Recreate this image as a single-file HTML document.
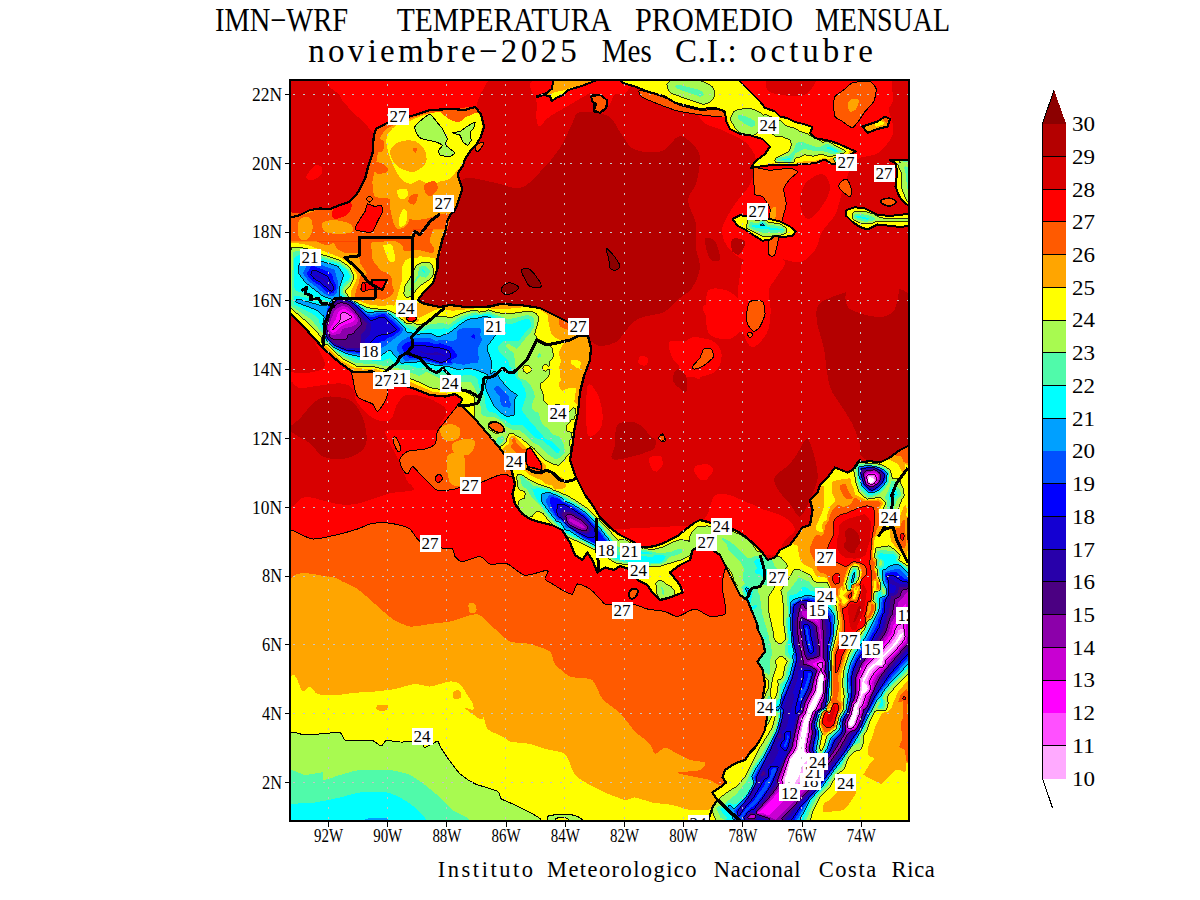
<!DOCTYPE html>
<html><head><meta charset="utf-8"><title>IMN-WRF Temperatura Promedio Mensual</title>
<style>
html,body{margin:0;padding:0;background:#fff;}
body{width:1200px;height:900px;overflow:hidden;position:relative;font-family:"Liberation Serif",serif;color:#000;}
svg{position:absolute;left:0;top:0;}
text{font-family:"Liberation Serif",serif;fill:#000;}
.t1{font-size:33px;}
.tk{font-size:18.5px;}
.cb{font-size:21px;}
.ft{font-size:22.5px;}
.lb{font-size:17.5px;}
</style></head><body>
<svg width="1200" height="900" viewBox="0 0 1200 900" shape-rendering="crispEdges">
<defs><clipPath id="cp"><rect x="290" y="80" width="619" height="741"/></clipPath></defs>
<rect x="0" y="0" width="1200" height="900" fill="#fff"/>
<g clip-path="url(#cp)">
<rect x="290" y="80" width="619" height="741" fill="#d80000"/>

<path d="M696.0 78.0 C664.0 84.7 695.7 109.3 700.0 118.0 C704.3 126.7 714.5 126.0 722.0 130.0 C729.5 134.0 739.3 137.0 745.0 142.0 C750.7 147.0 755.2 153.0 756.0 160.0 C756.8 167.0 753.0 177.3 750.0 184.0 C747.0 190.7 741.7 194.8 738.0 200.0 C734.3 205.2 730.7 209.7 728.0 215.0 C725.3 220.3 721.7 226.2 722.0 232.0 C722.3 237.8 725.3 245.0 730.0 250.0 C734.7 255.0 742.5 260.7 750.0 262.0 C757.5 263.3 766.7 258.0 775.0 258.0 C783.3 258.0 793.3 263.3 800.0 262.0 C806.7 260.7 811.3 255.0 815.0 250.0 C818.7 245.0 818.7 237.8 822.0 232.0 C825.3 226.2 832.0 220.3 835.0 215.0 C838.0 209.7 838.2 205.8 840.0 200.0 C841.8 194.2 843.3 186.7 846.0 180.0 C848.7 173.3 850.3 164.7 856.0 160.0 C861.7 155.3 873.3 157.3 880.0 152.0 C886.7 146.7 892.7 136.0 896.0 128.0 C899.3 120.0 900.7 112.3 900.0 104.0 C899.3 95.7 926.0 82.3 892.0 78.0 C858.0 73.7 728.0 71.3 696.0 78.0 Z" fill="#ff0000"/>
<path d="M745.0 259.3 C749.6 256.0 760.3 257.2 767.0 257.5 C773.7 257.8 783.8 257.8 785.3 261.2 C786.9 264.5 778.9 272.8 776.2 277.7 C773.4 282.6 769.8 285.0 768.8 290.5 C767.9 296.0 771.0 303.6 770.7 310.7 C770.4 317.7 770.1 326.6 767.0 332.7 C763.9 338.8 756.3 347.3 752.3 347.3 C748.4 347.3 745.6 339.4 743.2 332.7 C740.7 325.9 738.3 316.2 737.7 307.0 C737.1 297.8 738.3 285.6 739.5 277.7 C740.7 269.7 740.4 262.7 745.0 259.3 Z" fill="#ff0000"/>
<path d="M708.3 290.5 C711.7 286.8 721.2 288.4 726.7 290.5 C732.2 292.6 739.2 297.5 741.3 303.3 C743.5 309.1 742.6 319.5 739.5 325.3 C736.4 331.1 728.2 336.9 723.0 338.2 C717.8 339.4 711.1 336.9 708.3 332.7 C705.6 328.4 706.5 319.5 706.5 312.5 C706.5 305.5 705.0 294.2 708.3 290.5 Z" fill="#ff0000"/>
<path d="M690.0 338.2 C694.9 335.7 703.1 337.9 708.3 340.0 C713.5 342.1 719.6 346.1 721.2 351.0 C722.7 355.9 720.9 365.1 717.5 369.3 C714.1 373.6 706.8 375.8 701.0 376.7 C695.2 377.6 686.3 378.5 682.7 374.8 C679.0 371.2 677.8 360.8 679.0 354.7 C680.2 348.6 685.1 340.6 690.0 338.2 Z" fill="#ff0000"/>
<path d="M337.0 78.0 C312.5 81.0 338.2 91.2 340.0 96.0 C341.8 100.8 345.0 103.5 348.0 107.0 C351.0 110.5 354.7 113.7 358.0 117.0 C361.3 120.3 365.3 124.0 368.0 127.0 C370.7 130.0 372.7 131.2 374.0 135.0 C375.3 138.8 368.3 148.3 376.0 150.0 C383.7 151.7 404.3 149.2 420.0 145.0 C435.7 140.8 460.3 132.5 470.0 125.0 C479.7 117.5 475.2 107.2 478.0 100.0 C480.8 92.8 485.5 85.7 487.0 82.0 C488.5 78.3 512.0 78.7 487.0 78.0 C462.0 77.3 361.5 75.0 337.0 78.0 Z" fill="#ff0000"/>
<path d="M316.0 165.0 C318.2 164.3 321.2 166.3 322.0 168.0 C322.8 169.7 322.7 173.0 321.0 175.0 C319.3 177.0 314.5 179.5 312.0 180.0 C309.5 180.5 306.5 179.3 306.0 178.0 C305.5 176.7 307.3 174.2 309.0 172.0 C310.7 169.8 313.8 165.7 316.0 165.0 Z" fill="#ff0000"/>
<path d="M536.7 79.0 C521.1 82.9 536.7 95.4 536.7 102.3 C536.7 109.3 536.1 116.6 536.7 120.7 C537.2 124.7 538.3 126.8 540.0 126.5 C541.7 126.2 543.9 121.4 546.7 119.0 C549.4 116.6 553.1 114.6 556.7 112.3 C560.3 110.1 565.0 107.6 568.3 105.7 C571.7 103.7 573.3 102.6 576.7 100.7 C580.0 98.7 585.0 95.9 588.3 94.0 C591.7 92.1 594.2 90.4 596.7 89.0 C599.2 87.6 600.6 86.8 603.3 85.7 C606.1 84.6 608.9 82.6 613.3 82.3 C617.8 82.1 627.2 84.6 630.0 84.0 C632.8 83.4 645.6 79.8 630.0 79.0 C614.4 78.2 552.2 75.1 536.7 79.0 Z" fill="#ff0000"/>
<path d="M587.5 76.5 C580.4 79.0 586.2 88.6 587.5 91.5 C588.8 94.4 594.2 91.9 595.0 94.0 C595.8 96.1 591.7 100.7 592.5 104.0 C593.3 107.3 597.1 114.0 600.0 114.0 C602.9 114.0 607.5 107.3 610.0 104.0 C612.5 100.7 612.5 95.7 615.0 94.0 C617.5 92.3 622.5 96.9 625.0 94.0 C627.5 91.1 636.2 79.4 630.0 76.5 C623.8 73.6 594.6 74.0 587.5 76.5 Z" fill="#ff0000"/>
<path d="M416.0 310.0 C408.0 297.3 410.7 256.3 416.0 240.0 C421.3 223.7 440.3 222.0 448.0 212.0 C455.7 202.0 454.7 185.0 462.0 180.0 C469.3 175.0 482.3 180.7 492.0 182.0 C501.7 183.3 512.0 189.7 520.0 188.0 C528.0 186.3 533.3 178.7 540.0 172.0 C546.7 165.3 554.7 156.0 560.0 148.0 C565.3 140.0 568.7 130.0 572.0 124.0 C575.3 118.0 574.0 113.3 580.0 112.0 C586.0 110.7 601.3 112.7 608.0 116.0 C614.7 119.3 616.0 126.7 620.0 132.0 C624.0 137.3 627.3 144.7 632.0 148.0 C636.7 151.3 642.7 151.7 648.0 152.0 C653.3 152.3 658.7 152.7 664.0 150.0 C669.3 147.3 674.7 136.3 680.0 136.0 C685.3 135.7 692.7 144.0 696.0 148.0 C699.3 152.0 700.0 154.0 700.0 160.0 C700.0 166.0 698.0 177.3 696.0 184.0 C694.0 190.7 688.0 193.3 688.0 200.0 C688.0 206.7 694.7 216.0 696.0 224.0 C697.3 232.0 695.3 240.7 696.0 248.0 C696.7 255.3 700.7 261.3 700.0 268.0 C699.3 274.7 695.3 283.0 692.0 288.0 C688.7 293.0 684.7 294.0 680.0 298.0 C675.3 302.0 670.7 308.7 664.0 312.0 C657.3 315.3 646.0 315.3 640.0 318.0 C634.0 320.7 632.0 324.0 628.0 328.0 C624.0 332.0 620.7 339.0 616.0 342.0 C611.3 345.0 604.7 346.3 600.0 346.0 C595.3 345.7 594.7 343.0 588.0 340.0 C581.3 337.0 568.0 331.3 560.0 328.0 C552.0 324.7 550.0 322.0 540.0 320.0 C530.0 318.0 512.7 316.7 500.0 316.0 C487.3 315.3 478.0 317.0 464.0 316.0 C450.0 315.0 424.0 322.7 416.0 310.0 Z" fill="#b40000"/>
<path d="M822.5 301.5 C807.5 310.2 823.8 339.8 825.0 354.0 C826.2 368.2 827.5 378.2 830.0 386.5 C832.5 394.8 836.2 397.8 840.0 404.0 C843.8 410.2 849.2 417.3 852.5 424.0 C855.8 430.7 857.9 438.2 860.0 444.0 C862.1 449.8 855.8 453.2 865.0 459.0 C874.2 464.8 906.7 505.2 915.0 479.0 C923.3 452.8 930.4 331.1 915.0 301.5 C899.6 271.9 837.5 292.8 822.5 301.5 Z" fill="#b40000"/>
<path d="M807.5 439.0 C810.0 440.7 813.3 452.3 815.0 459.0 C816.7 465.7 818.3 472.3 817.5 479.0 C816.7 485.7 812.9 492.8 810.0 499.0 C807.1 505.2 803.3 515.7 800.0 516.5 C796.7 517.3 793.8 508.6 790.0 504.0 C786.2 499.4 780.0 493.6 777.5 489.0 C775.0 484.4 772.9 480.7 775.0 476.5 C777.1 472.3 785.8 468.6 790.0 464.0 C794.2 459.4 797.1 453.2 800.0 449.0 C802.9 444.8 805.0 437.3 807.5 439.0 Z" fill="#b40000"/>
<path d="M627.5 421.5 C630.4 422.3 635.4 431.1 640.0 434.0 C644.6 436.9 652.9 436.5 655.0 439.0 C657.1 441.5 656.2 446.1 652.5 449.0 C648.8 451.9 639.2 454.8 632.5 456.5 C625.8 458.2 615.0 461.1 612.5 459.0 C610.0 456.9 615.8 449.0 617.5 444.0 C619.2 439.0 620.8 432.8 622.5 429.0 C624.2 425.2 624.6 420.7 627.5 421.5 Z" fill="#b40000"/>
<path d="M677.5 369.0 C679.8 368.6 684.8 372.8 686.2 376.5 C687.7 380.2 687.7 389.8 686.2 391.5 C684.8 393.2 679.8 388.6 677.5 386.5 C675.2 384.4 672.5 381.9 672.5 379.0 C672.5 376.1 675.2 369.4 677.5 369.0 Z" fill="#b40000"/>
<path d="M617.5 425.0 C620.8 421.2 630.0 421.2 635.0 422.5 C640.0 423.8 644.2 428.3 647.5 432.5 C650.8 436.7 657.1 443.8 655.0 447.5 C652.9 451.2 642.1 453.1 635.0 455.0 C627.9 456.9 615.8 460.4 612.5 458.8 C609.2 457.1 614.2 450.6 615.0 445.0 C615.8 439.4 614.2 428.8 617.5 425.0 Z" fill="#b40000"/>
<path d="M705.0 239.0 C705.8 236.1 712.5 238.2 715.0 241.5 C717.5 244.8 720.8 256.1 720.0 259.0 C719.2 261.9 712.5 262.3 710.0 259.0 C707.5 255.7 704.2 241.9 705.0 239.0 Z" fill="#b40000"/>
<path d="M732.5 239.0 C734.6 237.3 743.8 239.0 745.0 241.5 C746.2 244.0 742.1 252.3 740.0 254.0 C737.9 255.7 733.8 254.0 732.5 251.5 C731.2 249.0 730.4 240.7 732.5 239.0 Z" fill="#b40000"/>
<path d="M840.0 229.0 C841.7 225.7 855.8 235.7 865.0 234.0 C874.2 232.3 890.0 206.5 895.0 219.0 C900.0 231.5 902.5 294.0 895.0 309.0 C887.5 324.0 857.9 314.0 850.0 309.0 C842.1 304.0 846.7 288.2 847.5 279.0 C848.3 269.8 856.2 262.3 855.0 254.0 C853.8 245.7 838.3 232.3 840.0 229.0 Z" fill="#d80000"/>
<path d="M805.0 184.0 C808.8 179.0 818.3 173.2 822.5 174.0 C826.7 174.8 830.4 183.2 830.0 189.0 C829.6 194.8 823.8 204.0 820.0 209.0 C816.2 214.0 810.8 219.8 807.5 219.0 C804.2 218.2 800.4 209.8 800.0 204.0 C799.6 198.2 801.2 189.0 805.0 184.0 Z" fill="#d80000"/>
<path d="M893.0 78.0 C889.8 81.7 893.7 94.7 893.0 100.0 C892.3 105.3 889.0 105.8 889.0 110.0 C889.0 114.2 892.0 118.3 893.0 125.0 C894.0 131.7 891.8 145.8 895.0 150.0 C898.2 154.2 909.2 162.0 912.0 150.0 C914.8 138.0 915.2 90.0 912.0 78.0 C908.8 66.0 896.2 74.3 893.0 78.0 Z" fill="#d80000"/>
<path d="M770.0 78.0 C763.0 80.3 765.0 89.0 770.0 92.0 C775.0 95.0 793.0 96.7 800.0 96.0 C807.0 95.3 810.0 91.0 812.0 88.0 C814.0 85.0 819.0 79.7 812.0 78.0 C805.0 76.3 777.0 75.7 770.0 78.0 Z" fill="#d80000"/>
<path d="M640.0 356.5 C641.5 355.5 646.5 356.3 647.5 357.8 C648.5 359.2 647.7 364.2 646.2 365.2 C644.8 366.3 639.8 365.5 638.8 364.0 C637.7 362.5 638.5 357.5 640.0 356.5 Z" fill="#ff0000"/>
<path d="M652.5 456.5 C654.4 455.0 661.7 455.2 662.5 457.8 C663.3 460.2 659.4 470.0 657.5 471.5 C655.6 473.0 652.1 469.0 651.2 466.5 C650.4 464.0 650.6 458.0 652.5 456.5 Z" fill="#ff0000"/>
<path d="M695.0 466.5 C697.1 464.6 707.9 463.2 710.0 465.2 C712.1 467.3 709.6 477.1 707.5 479.0 C705.4 480.9 699.6 478.6 697.5 476.5 C695.4 474.4 692.9 468.4 695.0 466.5 Z" fill="#ff0000"/>
<path d="M670.0 341.5 C672.5 339.8 678.8 341.9 685.0 341.5 C691.2 341.1 701.7 337.8 707.5 339.0 C713.3 340.2 718.8 345.2 720.0 349.0 C721.2 352.8 718.3 358.2 715.0 361.5 C711.7 364.8 702.5 366.1 700.0 369.0 C697.5 371.9 701.7 378.2 700.0 379.0 C698.3 379.8 694.2 376.9 690.0 374.0 C685.8 371.1 678.3 365.2 675.0 361.5 C671.7 357.8 670.8 354.8 670.0 351.5 C669.2 348.2 667.5 343.2 670.0 341.5 Z" fill="#ff0000"/>
<path d="M707.5 304.0 C697.9 306.5 706.2 313.6 707.5 319.0 C708.8 324.4 711.2 333.2 715.0 336.5 C718.8 339.8 725.4 339.8 730.0 339.0 C734.6 338.2 739.2 330.7 742.5 331.5 C745.8 332.3 747.1 343.6 750.0 344.0 C752.9 344.4 757.5 338.2 760.0 334.0 C762.5 329.8 764.2 324.0 765.0 319.0 C765.8 314.0 774.6 306.5 765.0 304.0 C755.4 301.5 717.1 301.5 707.5 304.0 Z" fill="#ff0000"/>
<path d="M587.5 386.5 C589.2 379.8 595.0 389.4 597.5 394.0 C600.0 398.6 602.1 408.2 602.5 414.0 C602.9 419.8 602.5 425.7 600.0 429.0 C597.5 432.3 589.6 441.1 587.5 434.0 C585.4 426.9 585.8 393.2 587.5 386.5 Z" fill="#ff0000"/>
<path d="M650.0 457.5 C651.7 456.0 657.9 455.0 660.0 456.2 C662.1 457.5 663.3 462.5 662.5 465.0 C661.7 467.5 657.1 471.2 655.0 471.2 C652.9 471.2 650.8 467.3 650.0 465.0 C649.2 462.7 648.3 459.0 650.0 457.5 Z" fill="#ff0000"/>
<path d="M695.0 467.5 C697.3 466.0 707.1 465.4 710.0 466.2 C712.9 467.1 713.8 470.2 712.5 472.5 C711.2 474.8 705.2 479.6 702.5 480.0 C699.8 480.4 697.5 477.1 696.2 475.0 C695.0 472.9 692.7 469.0 695.0 467.5 Z" fill="#ff0000"/>
<path d="M700.0 530.0 C700.0 526.7 706.7 515.0 710.0 510.0 C713.3 505.0 715.8 500.4 720.0 500.0 C724.2 499.6 730.0 506.2 735.0 507.5 C740.0 508.8 745.0 507.1 750.0 507.5 C755.0 507.9 759.2 508.3 765.0 510.0 C770.8 511.7 780.0 514.2 785.0 517.5 C790.0 520.8 795.0 526.2 795.0 530.0 C795.0 533.8 788.3 535.8 785.0 540.0 C781.7 544.2 780.0 553.3 775.0 555.0 C770.0 556.7 761.7 554.2 755.0 550.0 C748.3 545.8 740.8 534.2 735.0 530.0 C729.2 525.8 724.2 525.0 720.0 525.0 C715.8 525.0 713.3 529.2 710.0 530.0 C706.7 530.8 700.0 533.3 700.0 530.0 Z" fill="#ff0000"/>
<path d="M712.5 499.0 C714.6 493.2 719.6 493.6 725.0 494.0 C730.4 494.4 738.3 498.6 745.0 501.5 C751.7 504.4 760.8 506.9 765.0 511.5 C769.2 516.1 778.8 526.1 770.0 529.0 C761.2 531.9 722.1 534.0 712.5 529.0 C702.9 524.0 710.4 504.8 712.5 499.0 Z" fill="#ff0000"/>
<polygon points="288.0,330.0 330.0,350.0 360.0,370.0 400.0,372.0 440.0,380.0 470.0,395.0 500.0,440.0 520.0,480.0 560.0,510.0 600.0,530.0 700.0,525.0 745.0,560.0 745.0,700.0 288.0,700.0" fill="#ff0000"/>
<path d="M288.3 390.0 C290.6 371.4 293.1 389.4 301.7 388.3 C310.3 387.2 331.4 383.1 340.0 383.3 C348.6 383.6 350.6 386.9 353.3 390.0 C356.1 393.1 353.3 396.9 356.7 401.7 C360.0 406.4 367.8 415.3 373.3 418.3 C378.9 421.4 386.1 422.2 390.0 420.0 C393.9 417.8 393.9 409.2 396.7 405.0 C399.4 400.8 401.4 396.1 406.7 395.0 C411.9 393.9 421.7 395.8 428.3 398.3 C435.0 400.8 444.7 405.8 446.7 410.0 C448.6 414.2 441.9 420.0 440.0 423.3 C438.1 426.7 443.3 428.9 435.0 430.0 C426.7 431.1 398.1 428.9 390.0 430.0 C381.9 431.1 386.1 433.3 386.7 436.7 C387.2 440.0 391.1 445.6 393.3 450.0 C395.6 454.4 397.8 458.3 400.0 463.3 C402.2 468.3 404.4 475.6 406.7 480.0 C408.9 484.4 416.1 487.8 413.3 490.0 C410.6 492.2 400.8 490.8 390.0 493.3 C379.2 495.8 362.2 504.4 348.3 505.0 C334.4 505.6 316.7 497.5 306.7 496.7 C296.7 495.8 291.4 517.8 288.3 500.0 C285.3 482.2 286.1 408.6 288.3 390.0 Z" fill="#d80000"/>
<path d="M287.5 319.0 C290.4 312.8 299.6 326.1 305.0 331.5 C310.4 336.9 317.1 345.2 320.0 351.5 C322.9 357.8 327.9 366.1 322.5 369.0 C317.1 371.9 293.3 377.3 287.5 369.0 C281.7 360.7 284.6 325.2 287.5 319.0 Z" fill="#d80000"/>
<path d="M290.0 430.0 C288.3 425.8 295.0 423.6 300.0 418.3 C305.0 413.1 312.5 401.7 320.0 398.3 C327.5 395.0 338.9 396.9 345.0 398.3 C351.1 399.7 353.3 402.2 356.7 406.7 C360.0 411.1 363.6 418.3 365.0 425.0 C366.4 431.7 368.1 441.1 365.0 446.7 C361.9 452.2 353.6 456.7 346.7 458.3 C339.7 460.0 329.4 459.2 323.3 456.7 C317.2 454.2 315.6 447.8 310.0 443.3 C304.4 438.9 291.7 434.2 290.0 430.0 Z" fill="#b40000"/>
<path d="M287.5 530.2 C293.9 530.5 292.1 530.5 295.0 531.5 C297.9 532.5 307.8 538.6 312.5 539.0 C317.2 539.4 329.8 536.4 335.0 535.2 C340.2 534.1 353.4 530.3 357.5 529.0 C361.6 527.7 366.8 524.7 370.0 524.0 C373.2 523.3 381.5 522.6 385.0 522.8 C388.5 522.9 397.1 524.5 400.0 525.2 C402.9 526.0 407.7 527.1 410.0 529.0 C412.3 530.9 416.5 539.3 420.0 541.5 C423.5 543.7 436.2 546.9 440.0 547.8 C443.8 548.6 450.8 548.0 452.5 549.0 C454.2 550.0 453.8 555.0 455.0 556.5 C456.2 558.0 459.6 561.5 462.5 561.5 C465.4 561.5 476.8 556.2 480.0 556.5 C483.2 556.8 486.8 563.1 490.0 564.0 C493.2 564.9 503.4 562.7 507.5 564.0 C511.6 565.3 520.3 574.5 525.0 575.2 C529.7 576.0 545.2 569.8 547.5 570.2 C549.8 570.7 544.4 577.4 545.0 579.0 C545.6 580.6 550.2 582.5 552.5 584.0 C554.8 585.5 562.7 590.3 565.0 591.5 C567.3 592.7 571.0 594.9 572.5 594.0 C574.0 593.1 575.5 584.6 577.5 584.0 C579.5 583.4 587.4 587.2 590.0 589.0 C592.6 590.8 598.2 597.2 600.0 599.0 C601.8 600.8 603.2 603.4 605.0 604.0 C606.8 604.6 611.8 604.0 615.0 604.0 C618.2 604.0 628.7 603.4 632.5 604.0 C636.3 604.6 643.7 608.1 647.5 609.0 C651.3 609.9 661.5 610.6 665.0 611.5 C668.5 612.4 674.0 616.8 677.5 616.5 C681.0 616.2 691.2 609.0 695.0 609.0 C698.8 609.0 706.5 615.9 710.0 616.5 C713.5 617.1 723.2 615.5 725.0 614.0 C726.8 612.5 725.3 606.9 725.0 604.0 C724.7 601.1 722.6 592.5 722.5 589.0 C722.4 585.5 723.0 576.6 723.8 574.0 C724.5 571.4 723.9 567.4 728.8 566.5 C733.6 565.6 754.9 562.1 765.0 566.5 C775.1 570.9 809.2 570.5 815.0 604.0 C820.8 637.5 882.1 824.8 815.0 854.0 C747.9 883.2 307.1 891.9 240.0 854.0 C172.9 816.1 234.5 566.8 240.0 529.0 C245.5 491.2 281.1 530.0 287.5 530.2 Z" fill="#ff5a00" stroke="#000" stroke-width="1"/>
<path d="M287.5 585.2 C292.2 564.5 321.1 576.9 327.5 576.5 C333.9 576.1 339.0 580.0 342.5 581.5 C346.0 583.0 353.7 586.4 357.5 589.0 C361.3 591.6 370.9 600.5 375.0 604.0 C379.1 607.5 388.4 616.4 392.5 619.0 C396.6 621.6 405.6 625.9 410.0 626.5 C414.4 627.1 425.3 624.6 430.0 624.0 C434.7 623.4 445.3 622.5 450.0 621.5 C454.7 620.5 466.5 616.0 470.0 615.2 C473.5 614.5 477.1 613.6 480.0 615.2 C482.9 616.9 491.5 625.9 495.0 629.0 C498.5 632.1 505.9 639.8 510.0 641.5 C514.1 643.2 525.3 642.8 530.0 644.0 C534.7 645.2 547.1 649.2 550.0 651.5 C552.9 653.8 552.7 661.1 555.0 664.0 C557.3 666.9 565.9 674.8 570.0 676.5 C574.1 678.2 587.1 678.1 590.0 679.0 C592.9 679.9 593.5 681.7 595.0 684.0 C596.5 686.3 600.2 696.1 602.5 699.0 C604.8 701.9 612.4 706.7 615.0 709.0 C617.6 711.3 622.7 716.4 625.0 719.0 C627.3 721.6 632.1 728.6 635.0 731.5 C637.9 734.4 647.7 741.4 650.0 744.0 C652.3 746.6 653.2 753.6 655.0 754.0 C656.8 754.4 662.7 747.7 665.0 747.5 C667.3 747.3 672.1 751.0 675.0 752.5 C677.9 754.0 686.5 758.8 690.0 760.0 C693.5 761.2 703.8 761.3 705.0 762.5 C706.2 763.7 703.2 768.8 700.0 770.0 C696.8 771.2 679.2 771.9 677.5 772.5 C675.8 773.1 681.2 774.1 685.0 775.0 C688.8 775.9 705.9 778.8 710.0 780.0 C714.1 781.2 713.6 783.8 720.0 785.0 C726.4 786.2 759.8 776.6 765.0 790.0 C770.2 803.4 826.2 887.2 765.0 900.0 C703.8 912.8 295.7 917.0 240.0 900.0 C184.3 883.0 282.0 790.7 287.5 754.0 C293.0 717.3 282.8 606.0 287.5 585.2 Z" fill="#ffa500"/>
<path d="M468.8 604.0 C469.6 602.5 473.8 602.8 475.0 604.0 C476.2 605.2 477.1 610.0 476.2 611.5 C475.4 613.0 471.2 614.0 470.0 612.8 C468.8 611.5 467.9 605.5 468.8 604.0 Z" fill="#ffa500"/>
<path d="M287.5 684.0 C294.8 659.7 299.9 691.2 302.5 691.5 C305.1 691.8 308.2 686.2 310.0 686.5 C311.8 686.8 314.6 693.0 317.5 694.0 C320.4 695.0 330.6 695.4 335.0 695.2 C339.4 695.1 350.3 693.2 355.0 692.8 C359.7 692.3 370.3 691.9 375.0 691.5 C379.7 691.1 390.3 689.9 395.0 689.0 C399.7 688.1 410.9 684.3 415.0 684.0 C419.1 683.7 425.9 686.8 430.0 686.5 C434.1 686.2 446.5 681.8 450.0 681.5 C453.5 681.2 457.7 682.0 460.0 684.0 C462.3 686.0 467.4 695.5 470.0 699.0 C472.6 702.5 480.5 710.5 482.5 714.0 C484.5 717.5 485.2 726.4 487.5 729.0 C489.8 731.6 499.9 735.0 502.5 736.5 C505.1 738.0 506.8 740.6 510.0 741.5 C513.2 742.4 525.9 743.1 530.0 744.0 C534.1 744.9 540.9 747.8 545.0 749.0 C549.1 750.2 561.5 751.0 565.0 754.0 C568.5 757.0 572.1 771.4 575.0 775.0 C577.9 778.6 586.5 783.0 590.0 785.0 C593.5 787.0 600.9 790.8 605.0 792.5 C609.1 794.2 621.5 799.4 625.0 800.0 C628.5 800.6 631.8 797.2 635.0 797.5 C638.2 797.8 648.1 801.6 652.5 802.5 C656.9 803.4 668.1 804.1 672.5 805.0 C676.9 805.9 685.9 809.4 690.0 810.0 C694.1 810.6 702.8 810.6 707.5 810.0 C712.2 809.4 727.4 794.5 730.0 805.0 C732.6 815.5 787.2 888.9 730.0 900.0 C672.8 911.1 291.6 925.2 240.0 900.0 C188.4 874.8 280.2 708.3 287.5 684.0 Z" fill="#ffff00"/>
<path d="M453.8 691.5 C454.8 690.2 458.9 690.0 460.0 691.0 C461.1 692.0 461.5 696.5 460.5 697.8 C459.5 699.0 454.9 699.5 453.8 698.5 C452.6 697.5 452.7 692.8 453.8 691.5 Z" fill="#ffa500"/>
<path d="M465.0 707.8 C464.8 708.6 469.6 712.1 472.5 714.0 C475.4 715.9 481.2 721.1 482.5 719.0 C483.8 716.9 482.1 705.7 480.0 701.5 C477.9 697.3 471.0 692.8 470.0 694.0 C469.0 695.2 474.6 706.7 473.8 709.0 C472.9 711.3 465.2 706.9 465.0 707.8 Z" fill="#ffa500"/>
<path d="M377.5 705.2 C379.2 704.4 386.0 704.4 387.5 705.2 C389.0 706.1 387.9 709.4 386.2 710.2 C384.6 711.1 379.0 711.1 377.5 710.2 C376.0 709.4 375.8 706.1 377.5 705.2 Z" fill="#ffa500"/>
<path d="M472.5 686.5 C473.1 685.9 475.6 685.9 476.2 686.5 C476.9 687.1 476.9 689.6 476.2 690.2 C475.6 690.9 473.1 690.9 472.5 690.2 C471.9 689.6 471.9 687.1 472.5 686.5 Z" fill="#ffa500"/>
<path d="M287.5 737.5 C289.2 727.5 301.5 735.4 305.0 735.0 C308.5 734.6 319.0 734.0 322.5 733.8 C326.0 733.5 337.8 731.9 340.0 732.5 C342.2 733.1 343.2 739.2 345.0 740.0 C346.8 740.8 354.8 740.5 357.5 740.5 C360.2 740.5 370.1 739.9 372.5 740.5 C374.9 741.1 379.9 746.2 381.2 746.2 C382.6 746.2 384.4 740.9 386.2 740.5 C388.1 740.1 397.4 741.9 400.0 742.0 C402.6 742.1 410.2 741.8 412.5 742.0 C414.8 742.2 421.2 743.2 422.5 743.8 C423.8 744.3 423.5 747.8 425.0 747.5 C426.5 747.2 436.0 741.4 437.5 741.2 C439.0 741.1 438.8 744.2 440.0 746.2 C441.2 748.2 448.0 758.5 450.0 761.2 C452.0 764.0 457.5 771.5 460.0 773.8 C462.5 776.0 471.2 782.0 475.0 783.8 C478.8 785.5 494.9 789.8 497.5 791.2 C500.1 792.8 499.5 797.4 501.2 798.8 C503.0 800.1 512.1 803.6 515.0 805.0 C517.9 806.4 527.4 811.0 530.0 812.5 C532.6 814.0 540.0 817.8 541.2 820.0 C542.5 822.2 567.9 833.5 542.5 835.0 C517.1 836.5 313.0 844.8 287.5 835.0 C262.0 825.2 285.8 747.5 287.5 737.5 Z" fill="#a8fa50" stroke="#000" stroke-width="1"/>
<path d="M287.5 772.5 C289.5 765.5 300.9 775.0 305.0 775.0 C309.1 775.0 320.3 771.9 322.5 772.5 C324.7 773.1 321.7 779.7 323.8 780.0 C325.8 780.3 335.8 776.2 340.0 775.0 C344.2 773.8 354.2 770.6 360.0 770.0 C365.8 769.4 384.2 769.4 390.0 770.0 C395.8 770.6 405.9 773.2 410.0 775.0 C414.1 776.8 421.5 782.4 425.0 785.0 C428.5 787.6 436.8 794.6 440.0 797.5 C443.2 800.4 449.0 807.4 452.5 810.0 C456.0 812.6 467.7 817.1 470.0 820.0 C472.3 822.9 493.8 833.2 472.5 835.0 C451.2 836.8 309.1 842.3 287.5 835.0 C265.9 827.7 285.5 779.5 287.5 772.5 Z" fill="#50faaa"/>
<path d="M287.5 806.2 C290.7 802.5 308.9 803.5 315.0 802.5 C321.1 801.5 334.8 798.7 340.0 797.5 C345.2 796.3 354.8 793.1 360.0 792.5 C365.2 791.9 380.3 791.4 385.0 792.0 C389.7 792.6 396.5 795.7 400.0 797.5 C403.5 799.3 411.9 804.9 415.0 807.5 C418.1 810.1 424.8 816.8 426.2 820.0 C427.7 823.2 443.7 833.2 427.5 835.0 C411.3 836.8 303.8 838.4 287.5 835.0 C271.2 831.6 284.3 810.0 287.5 806.2 Z" fill="#00ffff"/>
<path d="M365.0 820.0 C365.8 818.9 366.7 818.5 370.0 818.2 C373.3 818.0 381.9 818.0 385.0 818.2 C388.1 818.5 388.1 818.9 388.8 820.0 C389.4 821.1 392.7 824.2 388.8 825.0 C384.8 825.8 369.0 825.8 365.0 825.0 C361.0 824.2 364.2 821.1 365.0 820.0 Z" fill="#00a0ff"/>
<path d="M547.5 820.5 C547.9 818.9 545.8 816.4 550.0 815.5 C554.2 814.6 567.1 814.2 572.5 815.0 C577.9 815.8 580.8 818.3 582.5 820.0 C584.2 821.7 588.3 824.2 582.5 825.0 C576.7 825.8 553.3 825.8 547.5 825.0 C541.7 824.2 547.1 822.1 547.5 820.5 Z" fill="#a8fa50" stroke="#000" stroke-width="1"/>
<path d="M555.0 820.0 C555.4 818.8 555.6 818.3 557.5 818.0 C559.4 817.7 564.4 817.7 566.2 818.0 C568.1 818.3 568.3 818.8 568.8 820.0 C569.2 821.2 571.0 824.2 568.8 825.0 C566.5 825.8 557.3 825.8 555.0 825.0 C552.7 824.2 554.6 821.2 555.0 820.0 Z" fill="#ffff00" stroke="#000" stroke-width="1"/>
<path d="M462.5 402.8 C458.5 401.1 457.3 406.5 455.0 409.0 C452.7 411.5 447.3 418.5 445.0 421.5 C442.7 424.5 438.8 428.5 437.5 431.5 C436.2 434.5 436.7 441.7 435.0 444.0 C433.3 446.3 428.7 448.0 425.0 449.0 C421.3 450.0 410.8 450.2 407.5 451.5 C404.2 452.8 400.7 456.7 400.0 459.0 C399.3 461.3 401.5 467.0 402.5 469.0 C403.5 471.0 406.2 474.3 407.5 474.0 C408.8 473.7 410.8 466.5 412.5 466.5 C414.2 466.5 417.7 471.7 420.0 474.0 C422.3 476.3 427.7 481.8 430.0 484.0 C432.3 486.2 434.2 489.6 437.5 490.2 C440.8 490.9 451.3 489.7 455.0 489.0 C458.7 488.3 461.7 486.1 465.0 485.2 C468.3 484.4 476.0 483.9 480.0 482.8 C484.0 481.6 491.7 477.7 495.0 476.5 C498.3 475.3 502.7 474.0 505.0 474.0 C507.3 474.0 510.2 477.8 512.5 476.5 C514.8 475.2 523.8 468.3 522.5 464.0 C521.2 459.7 507.5 449.7 502.5 444.0 C497.5 438.3 490.3 427.0 485.0 421.5 C479.7 416.0 466.5 404.4 462.5 402.8 Z" fill="#ff5a00" stroke="#000" stroke-width="1"/>
<path d="M440.0 429.0 C440.8 426.3 446.7 424.0 450.0 424.0 C453.3 424.0 458.8 426.5 460.0 429.0 C461.2 431.5 460.0 437.1 457.5 439.0 C455.0 440.9 447.9 441.9 445.0 440.2 C442.1 438.6 439.2 431.7 440.0 429.0 Z" fill="#ffa500"/>
<path d="M452.5 444.0 C454.2 441.5 461.2 439.4 465.0 439.0 C468.8 438.6 474.2 439.0 475.0 441.5 C475.8 444.0 473.3 451.9 470.0 454.0 C466.7 456.1 457.9 455.7 455.0 454.0 C452.1 452.3 450.8 446.5 452.5 444.0 Z" fill="#ffa500"/>
<path d="M447.5 456.5 C449.6 451.7 459.6 452.3 462.5 454.0 C465.4 455.7 465.0 461.5 465.0 466.5 C465.0 471.5 465.0 481.3 462.5 484.0 C460.0 486.7 452.5 487.3 450.0 482.8 C447.5 478.2 445.4 461.3 447.5 456.5 Z" fill="#ffa500"/>
<path d="M352.5 369.0 C348.8 370.0 351.8 372.8 352.5 376.5 C353.2 380.2 354.8 392.8 357.5 396.5 C360.2 400.2 369.8 402.0 372.5 404.0 C375.2 406.0 375.7 412.2 377.5 411.5 C379.3 410.8 384.9 402.0 386.2 399.0 C387.6 396.0 388.0 391.7 387.5 389.0 C387.0 386.3 383.5 381.7 382.5 379.0 C381.5 376.3 384.0 370.3 380.0 369.0 C376.0 367.7 356.2 368.0 352.5 369.0 Z" fill="#ff5a00" stroke="#000" stroke-width="1"/>
<path d="M393.3 437.5 C393.8 436.5 395.4 436.5 396.7 438.3 C397.9 440.1 400.6 446.1 400.8 448.3 C401.1 450.6 399.4 452.4 398.3 451.7 C397.2 451.0 395.0 446.5 394.2 444.2 C393.3 441.8 392.9 438.5 393.3 437.5 Z" fill="#ff5a00" stroke="#000" stroke-width="1"/>
<path d="M435.0 478.3 C435.1 476.9 437.9 474.2 439.2 474.2 C440.4 474.2 442.6 476.9 442.5 478.3 C442.4 479.7 439.6 482.5 438.3 482.5 C437.1 482.5 434.9 479.7 435.0 478.3 Z" fill="#ff0000" stroke="#000" stroke-width="1"/>
<polygon points="285.0,219.0 290.0,217.7 300.0,215.0 310.0,210.0 320.0,208.5 330.0,209.0 340.0,205.0 350.0,201.5 357.5,193.0 365.0,179.0 367.5,169.0 372.5,154.0 373.7,136.5 376.0,129.0 385.0,124.0 390.0,121.5 410.0,116.5 430.0,110.0 452.5,109.0 465.0,110.0 475.0,107.0 481.0,114.0 484.0,126.5 481.0,136.5 476.0,145.0 470.0,151.5 465.0,159.0 462.5,166.5 457.5,174.0 460.0,181.5 462.5,189.0 460.0,196.5 457.5,204.0 454.0,211.5 450.0,215.0 447.0,222.0 446.0,229.0 442.5,239.0 440.0,249.0 437.5,259.0 437.5,269.0 435.0,276.5 433.0,283.0 423.0,293.0 418.0,300.0 422.0,303.0 430.0,305.0 440.0,307.0 450.0,305.0 465.0,307.0 478.0,307.0 490.0,306.5 500.0,304.0 520.0,305.0 540.0,308.0 556.0,316.0 564.0,320.0 580.0,328.0 588.0,336.0 591.0,348.0 590.0,360.0 584.0,376.0 580.0,392.0 578.0,412.0 574.0,432.0 575.0,425.0 572.5,445.0 570.0,460.0 575.0,475.0 580.0,485.0 585.0,495.0 592.5,505.0 600.0,517.5 610.0,527.5 620.0,535.0 630.0,540.0 642.5,547.5 655.0,546.2 665.0,542.5 677.5,536.2 685.0,530.0 695.0,522.5 700.0,520.0 710.0,522.5 725.0,527.5 735.0,530.0 745.0,536.2 755.0,545.0 762.5,552.5 767.5,560.0 775.0,557.5 780.0,550.0 790.0,545.0 797.5,535.0 802.5,527.5 810.0,525.0 812.5,510.0 810.0,500.0 817.5,492.5 820.0,485.0 827.5,477.5 835.0,467.5 847.5,472.5 852.5,470.0 860.0,460.0 855.0,467.5 857.5,462.5 870.0,461.2 880.0,462.5 890.0,457.5 900.0,450.0 915.0,442.5 915.0,440.0 915.0,825.0 707.5,822.0 710.0,815.0 712.5,807.5 717.5,800.0 712.5,792.5 720.0,787.5 726.0,782.5 722.5,777.5 725.0,770.0 732.5,765.0 737.5,762.5 745.0,760.0 750.0,752.5 755.0,747.5 760.0,740.0 765.0,730.0 767.5,714.0 762.5,699.0 765.0,684.0 762.5,669.0 757.5,661.5 765.0,651.5 762.5,639.0 757.5,629.0 757.5,625.0 752.5,612.5 747.5,600.0 740.0,595.0 735.0,585.0 730.0,575.0 725.0,565.0 720.0,555.0 712.5,550.0 702.5,545.0 692.5,550.0 690.0,560.0 680.0,565.0 670.0,572.5 680.0,585.0 682.5,592.5 670.0,597.5 660.0,600.0 652.5,592.5 647.5,585.0 637.5,580.0 632.5,570.0 620.0,566.0 614.0,570.0 605.0,567.5 597.5,572.5 592.5,560.0 587.5,552.5 582.5,560.0 575.0,555.0 570.0,542.5 562.0,530.0 552.0,525.0 537.5,521.5 530.0,519.0 522.5,514.0 515.0,504.0 512.5,494.0 515.0,484.0 512.5,474.0 510.0,464.0 502.5,451.5 490.0,436.5 475.0,419.0 465.0,409.0 460.0,404.0 462.5,399.0 455.0,394.0 445.0,396.5 430.0,395.0 415.0,389.0 400.0,384.0 390.0,379.0 372.5,371.5 353.0,372.0 340.0,363.0 323.0,348.0 306.7,330.0 290.0,313.0 285.0,308.0" fill="#ffa500"/>
<polygon points="285.0,219.0 290.0,217.7 300.0,215.0 310.0,210.0 320.0,208.5 330.0,209.0 340.0,205.0 350.0,201.5 357.5,193.0 365.0,179.0 367.5,169.0 372.5,154.0 373.7,136.5 376.0,129.0 385.0,124.0 390.0,121.5 410.0,116.5 430.0,110.0 452.5,109.0 465.0,110.0 475.0,107.0 481.0,114.0 484.0,126.5 481.0,136.5 476.0,145.0 470.0,151.5 465.0,159.0 462.5,166.5 457.5,174.0 460.0,181.5 462.5,189.0 460.0,196.5 457.5,204.0 454.0,211.5 450.0,215.0 447.0,222.0 446.0,229.0 442.5,239.0 440.0,249.0 437.5,259.0 437.5,269.0 435.0,276.5 433.0,283.0 423.0,293.0 418.0,300.0 422.0,303.0 430.0,305.0 440.0,307.0 450.0,305.0 465.0,307.0 478.0,307.0 490.0,306.5 500.0,304.0 520.0,305.0 540.0,308.0 556.0,316.0 564.0,320.0 580.0,328.0 588.0,336.0 591.0,348.0 590.0,360.0 584.0,376.0 580.0,392.0 578.0,412.0 574.0,432.0 575.0,425.0 572.5,445.0 570.0,460.0 575.0,475.0 580.0,485.0 585.0,495.0 592.5,505.0 600.0,517.5 610.0,527.5 620.0,535.0 630.0,540.0 642.5,547.5 655.0,546.2 665.0,542.5 677.5,536.2 685.0,530.0 695.0,522.5 700.0,520.0 710.0,522.5 725.0,527.5 735.0,530.0 745.0,536.2 755.0,545.0 762.5,552.5 767.5,560.0 775.0,557.5 780.0,550.0 790.0,545.0 797.5,535.0 802.5,527.5 810.0,525.0 812.5,510.0 810.0,500.0 817.5,492.5 820.0,485.0 827.5,477.5 835.0,467.5 847.5,472.5 852.5,470.0 860.0,460.0 855.0,467.5 857.5,462.5 870.0,461.2 880.0,462.5 890.0,457.5 900.0,450.0 915.0,442.5 915.0,440.0 915.0,825.0 707.5,822.0 710.0,815.0 712.5,807.5 717.5,800.0 712.5,792.5 720.0,787.5 726.0,782.5 722.5,777.5 725.0,770.0 732.5,765.0 737.5,762.5 745.0,760.0 750.0,752.5 755.0,747.5 760.0,740.0 765.0,730.0 767.5,714.0 762.5,699.0 765.0,684.0 762.5,669.0 757.5,661.5 765.0,651.5 762.5,639.0 757.5,629.0 757.5,625.0 752.5,612.5 747.5,600.0 740.0,595.0 735.0,585.0 730.0,575.0 725.0,565.0 720.0,555.0 712.5,550.0 702.5,545.0 692.5,550.0 690.0,560.0 680.0,565.0 670.0,572.5 680.0,585.0 682.5,592.5 670.0,597.5 660.0,600.0 652.5,592.5 647.5,585.0 637.5,580.0 632.5,570.0 620.0,566.0 614.0,570.0 605.0,567.5 597.5,572.5 592.5,560.0 587.5,552.5 582.5,560.0 575.0,555.0 570.0,542.5 562.0,530.0 552.0,525.0 537.5,521.5 530.0,519.0 522.5,514.0 515.0,504.0 512.5,494.0 515.0,484.0 512.5,474.0 510.0,464.0 502.5,451.5 490.0,436.5 475.0,419.0 465.0,409.0 460.0,404.0 462.5,399.0 455.0,394.0 445.0,396.5 430.0,395.0 415.0,389.0 400.0,384.0 390.0,379.0 372.5,371.5 353.0,372.0 340.0,363.0 323.0,348.0 306.7,330.0 290.0,313.0 285.0,308.0" fill="#ffa500"/>
<path d="M285.0 214.0 C288.3 209.4 298.8 215.0 305.0 214.0 C311.2 213.0 317.7 208.6 322.5 207.8 C327.3 206.9 329.2 210.0 333.8 209.0 C338.3 208.0 345.8 204.4 350.0 201.5 C354.2 198.6 356.2 195.2 358.8 191.5 C361.2 187.8 362.7 180.2 365.0 179.0 C367.3 177.8 370.8 181.1 372.5 184.0 C374.2 186.9 372.1 194.0 375.0 196.5 C377.9 199.0 385.8 196.9 390.0 199.0 C394.2 201.1 396.7 205.7 400.0 209.0 C403.3 212.3 405.8 217.3 410.0 219.0 C414.2 220.7 420.0 219.8 425.0 219.0 C430.0 218.2 435.8 214.6 440.0 214.0 C444.2 213.4 448.8 212.8 450.0 215.2 C451.2 217.8 448.8 225.0 447.5 229.0 C446.2 233.0 443.8 234.8 442.5 239.0 C441.2 243.2 442.1 250.7 440.0 254.0 C437.9 257.3 433.3 259.0 430.0 259.0 C426.7 259.0 422.5 257.3 420.0 254.0 C417.5 250.7 416.7 241.5 415.0 239.0 C413.3 236.5 410.8 228.2 410.0 239.0 C409.2 249.8 417.5 293.2 410.0 304.0 C402.5 314.8 375.0 308.2 365.0 304.0 C355.0 299.8 356.2 287.3 350.0 279.0 C343.8 270.7 335.0 259.8 327.5 254.0 C320.0 248.2 312.1 246.1 305.0 244.0 C297.9 241.9 288.3 246.5 285.0 241.5 C281.7 236.5 281.7 218.6 285.0 214.0 Z" fill="#ff5a00"/>
<path d="M300.0 219.0 C302.1 217.1 307.9 216.1 310.0 217.8 C312.1 219.4 312.9 225.5 312.5 229.0 C312.1 232.5 309.6 237.3 307.5 239.0 C305.4 240.7 301.7 240.7 300.0 239.0 C298.3 237.3 297.5 232.3 297.5 229.0 C297.5 225.7 297.9 220.9 300.0 219.0 Z" fill="#ffa500"/>
<path d="M322.5 222.8 C324.2 220.9 330.4 220.0 335.0 220.2 C339.6 220.5 347.1 222.1 350.0 224.0 C352.9 225.9 354.2 229.8 352.5 231.5 C350.8 233.2 344.6 234.0 340.0 234.0 C335.4 234.0 327.9 233.4 325.0 231.5 C322.1 229.6 320.8 224.6 322.5 222.8 Z" fill="#ffa500"/>
<path d="M390.0 199.0 C391.7 195.2 399.2 194.8 402.5 196.5 C405.8 198.2 409.2 204.4 410.0 209.0 C410.8 213.6 409.6 220.7 407.5 224.0 C405.4 227.3 400.0 229.8 397.5 229.0 C395.0 228.2 393.8 224.0 392.5 219.0 C391.2 214.0 388.3 202.8 390.0 199.0 Z" fill="#ffa500"/>
<path d="M377.5 239.0 C379.6 236.5 383.3 239.0 387.5 239.0 C391.7 239.0 398.8 236.5 402.5 239.0 C406.2 241.5 409.2 249.0 410.0 254.0 C410.8 259.0 409.2 264.8 407.5 269.0 C405.8 273.2 402.9 277.8 400.0 279.0 C397.1 280.2 392.9 279.0 390.0 276.5 C387.1 274.0 385.0 267.8 382.5 264.0 C380.0 260.2 375.8 258.2 375.0 254.0 C374.2 249.8 375.4 241.5 377.5 239.0 Z" fill="#ffa500"/>
<path d="M403.8 209.0 C405.2 208.2 407.2 211.5 407.5 214.0 C407.8 216.5 406.8 221.9 405.5 224.0 C404.2 226.1 401.1 227.3 400.0 226.5 C398.9 225.7 398.1 221.9 398.8 219.0 C399.4 216.1 402.3 209.8 403.8 209.0 Z" fill="#ffff00"/>
<path d="M397.5 190.2 C398.5 188.6 404.6 188.0 406.2 189.0 C407.9 190.0 408.5 194.8 407.5 196.5 C406.5 198.2 401.7 200.0 400.0 199.0 C398.3 198.0 396.5 191.9 397.5 190.2 Z" fill="#ffff00"/>
<path d="M387.5 241.0 C390.0 239.8 397.4 237.7 400.0 239.0 C402.6 240.3 403.3 245.6 403.0 249.0 C402.7 252.4 400.2 258.7 398.0 259.5 C395.8 260.3 392.2 256.2 390.0 254.0 C387.8 251.8 385.4 248.7 385.0 246.5 C384.6 244.3 385.0 242.2 387.5 241.0 Z" fill="#ffff00"/>
<path d="M333.8 208.5 C335.1 207.0 337.3 205.9 340.0 204.8 C342.7 203.6 348.1 200.8 350.0 201.5 C351.9 202.2 351.9 206.7 351.2 209.0 C350.6 211.3 349.0 213.6 346.2 215.2 C343.5 216.9 337.4 219.2 335.0 219.0 C332.6 218.8 332.2 215.8 332.0 214.0 C331.8 212.2 332.4 210.0 333.8 208.5 Z" fill="#ff0000"/>
<path d="M367.5 204.0 C368.5 203.5 373.6 206.4 375.0 206.5 C376.4 206.6 380.5 204.8 381.2 205.2 C382.0 205.8 382.9 209.9 382.5 211.5 C382.1 213.1 378.5 219.5 377.5 221.5 C376.5 223.5 374.0 230.5 372.5 231.5 C371.0 232.5 364.2 231.8 362.5 231.5 C360.8 231.2 355.2 230.2 355.0 229.0 C354.8 227.8 359.0 220.8 360.0 219.0 C361.0 217.2 364.2 213.0 365.0 211.5 C365.8 210.0 366.5 204.5 367.5 204.0 Z" fill="#ff0000" stroke="#000" stroke-width="1"/>
<path d="M369.5 196.0 C370.5 196.0 372.5 198.0 372.5 199.0 C372.5 200.0 370.5 202.0 369.5 202.0 C368.5 202.0 366.5 200.0 366.5 199.0 C366.5 198.0 368.5 196.0 369.5 196.0 Z" fill="#ff5a00" stroke="#000" stroke-width="1"/>
<path d="M365.0 179.0 C364.5 176.5 366.8 173.2 368.0 169.0 C369.2 164.8 371.5 159.4 372.5 154.0 C373.5 148.6 373.1 140.7 373.8 136.5 C374.4 132.3 373.5 131.5 376.2 129.0 C379.0 126.5 384.4 123.6 390.0 121.5 C395.6 119.4 403.3 118.4 410.0 116.5 C416.7 114.6 422.9 111.5 430.0 110.2 C437.1 109.0 445.0 109.5 452.5 109.0 C460.0 108.5 470.2 106.2 475.0 107.0 C479.8 107.8 481.0 112.4 481.2 114.0 C481.5 115.6 479.0 116.1 476.2 116.5 C473.5 116.9 469.0 117.0 465.0 116.5 C461.0 116.0 456.7 114.0 452.5 113.2 C448.3 112.5 444.6 111.9 440.0 112.0 C435.4 112.1 430.0 112.8 425.0 114.0 C420.0 115.2 414.6 117.4 410.0 119.0 C405.4 120.6 401.2 121.9 397.5 123.5 C393.8 125.1 390.1 126.7 387.5 128.5 C384.9 130.3 383.4 132.3 382.0 134.5 C380.6 136.7 379.7 138.7 379.0 141.5 C378.3 144.3 378.4 148.2 378.0 151.5 C377.6 154.8 377.2 157.8 376.5 161.5 C375.8 165.2 374.9 170.2 374.0 174.0 C373.1 177.8 372.8 183.2 371.2 184.0 C369.8 184.8 365.5 181.5 365.0 179.0 Z" fill="#ff5a00"/>
<path d="M376.2 139.0 C377.3 137.3 382.6 139.6 383.8 141.5 C384.9 143.4 384.0 148.6 383.0 150.2 C382.0 151.9 378.6 153.4 377.5 151.5 C376.4 149.6 375.2 140.7 376.2 139.0 Z" fill="#ff5a00"/>
<path d="M373.8 161.5 C375.8 161.2 382.7 163.6 385.0 165.2 C387.3 166.9 388.8 170.1 387.5 171.5 C386.2 172.9 380.0 174.2 377.5 173.5 C375.0 172.8 373.1 169.0 372.5 167.0 C371.9 165.0 371.7 161.8 373.8 161.5 Z" fill="#ff5a00"/>
<path d="M388.8 132.8 C390.6 129.9 394.0 126.5 397.5 124.5 C401.0 122.5 405.4 122.4 410.0 120.8 C414.6 119.1 420.0 116.2 425.0 114.8 C430.0 113.2 435.4 112.0 440.0 111.8 C444.6 111.5 448.3 112.6 452.5 113.5 C456.7 114.4 460.8 117.1 465.0 117.0 C469.2 116.9 474.8 112.0 477.5 112.8 C480.2 113.5 481.0 118.0 481.5 121.5 C482.0 125.0 481.6 130.2 480.8 134.0 C479.9 137.8 478.2 141.4 476.2 144.5 C474.2 147.6 471.0 149.5 468.8 152.8 C466.5 156.0 464.8 160.7 462.5 164.0 C460.2 167.3 457.1 170.2 455.0 172.8 C452.9 175.2 452.5 177.5 450.0 179.0 C447.5 180.5 443.3 180.5 440.0 181.5 C436.7 182.5 433.3 185.5 430.0 185.2 C426.7 185.0 423.3 180.5 420.0 180.2 C416.7 180.0 413.1 184.2 410.0 184.0 C406.9 183.8 403.8 181.5 401.2 179.0 C398.8 176.5 397.1 173.2 395.0 169.0 C392.9 164.8 390.2 158.6 388.8 154.0 C387.3 149.4 386.2 145.0 386.2 141.5 C386.2 138.0 386.9 135.6 388.8 132.8 Z" fill="#ffff00"/>
<path d="M390.0 151.5 C390.4 148.0 394.2 144.6 397.5 142.8 C400.8 140.9 406.2 140.0 410.0 140.2 C413.8 140.5 417.3 141.7 420.0 144.0 C422.7 146.3 425.4 150.7 426.2 154.0 C427.1 157.3 426.9 161.1 425.0 164.0 C423.1 166.9 418.3 170.5 415.0 171.5 C411.7 172.5 408.3 171.5 405.0 170.2 C401.7 169.0 397.5 167.1 395.0 164.0 C392.5 160.9 389.6 155.0 390.0 151.5 Z" fill="#ffa500"/>
<path d="M425.0 184.0 C426.7 182.3 432.9 180.7 435.0 181.5 C437.1 182.3 438.3 186.5 437.5 189.0 C436.7 191.5 432.1 196.1 430.0 196.5 C427.9 196.9 425.8 193.6 425.0 191.5 C424.2 189.4 423.3 185.7 425.0 184.0 Z" fill="#ff5a00"/>
<path d="M441.2 111.0 C443.8 110.1 455.8 109.2 460.0 110.0 C464.2 110.8 466.5 114.0 466.2 116.0 C466.0 118.0 461.5 121.4 458.8 122.0 C456.0 122.6 452.4 120.6 450.0 119.5 C447.6 118.4 446.0 116.9 444.5 115.5 C443.0 114.1 438.7 111.9 441.2 111.0 Z" fill="#ff5a00"/>
<path d="M410.0 196.5 C411.5 195.0 416.7 192.8 417.5 194.0 C418.3 195.2 416.5 202.5 415.0 204.0 C413.5 205.5 409.6 204.0 408.8 202.8 C407.9 201.5 408.5 198.0 410.0 196.5 Z" fill="#ff5a00"/>
<path d="M412.5 147.8 C412.9 147.1 417.1 148.2 417.5 149.0 C417.9 149.8 415.8 153.0 415.0 152.8 C414.2 152.5 412.1 148.4 412.5 147.8 Z" fill="#ff5a00"/>
<path d="M415.0 126.5 C415.4 125.6 421.5 119.8 422.5 119.0 C423.5 118.2 429.0 113.8 430.0 114.0 C431.0 114.2 436.7 121.8 437.5 122.8 C438.3 123.8 441.8 127.9 442.5 129.0 C443.2 130.1 447.3 138.0 447.5 139.0 C447.7 140.0 444.8 143.3 445.0 144.0 C445.2 144.7 449.3 148.4 450.0 149.0 C450.7 149.6 455.0 152.2 455.0 152.8 C455.0 153.2 451.0 156.3 450.0 156.5 C449.0 156.7 440.8 155.7 440.0 155.2 C439.2 154.8 438.6 150.9 438.8 150.2 C438.9 149.6 442.8 145.8 442.5 145.2 C442.2 144.7 436.0 141.8 435.0 141.5 C434.0 141.2 428.5 140.5 427.5 140.2 C426.5 140.0 420.8 138.2 420.0 137.8 C419.2 137.2 416.6 133.5 416.2 132.8 C415.9 132.0 414.6 127.4 415.0 126.5 Z" fill="#a8fa50" stroke="#000" stroke-width="1"/>
<path d="M452.5 132.8 C452.5 132.5 459.2 131.8 460.0 131.5 C460.8 131.2 464.0 128.4 465.0 127.8 C466.0 127.1 474.4 122.0 475.0 122.0 C475.6 122.0 474.1 127.0 473.8 127.8 C473.4 128.5 470.2 131.9 470.0 132.8 C469.8 133.6 471.4 139.4 471.2 140.2 C471.1 141.1 468.1 145.2 467.5 145.2 C466.9 145.3 463.0 142.2 462.5 141.5 C462.0 140.8 460.7 135.8 460.0 135.2 C459.3 134.7 452.5 133.0 452.5 132.8 Z" fill="#a8fa50" stroke="#000" stroke-width="1"/>
<path d="M476.2 144.5 C477.6 143.5 482.9 142.2 483.8 142.8 C484.6 143.3 482.3 146.3 481.2 147.8 C480.2 149.2 478.5 151.3 477.5 151.5 C476.5 151.7 475.7 150.2 475.5 149.0 C475.3 147.8 474.9 145.5 476.2 144.5 Z" fill="#ff5a00" stroke="#000" stroke-width="1"/>
<path d="M415.0 229.0 C416.7 223.6 425.0 223.2 430.0 221.5 C435.0 219.8 442.1 217.8 445.0 219.0 C447.9 220.2 447.9 225.7 447.5 229.0 C447.1 232.3 443.8 234.8 442.5 239.0 C441.2 243.2 442.1 250.7 440.0 254.0 C437.9 257.3 433.3 259.0 430.0 259.0 C426.7 259.0 422.5 259.0 420.0 254.0 C417.5 249.0 413.3 234.4 415.0 229.0 Z" fill="#ff5a00"/>
<path d="M417.5 264.0 C418.8 263.1 424.6 262.5 426.2 262.8 C427.9 263.0 432.9 265.1 433.8 266.5 C434.6 267.9 435.4 275.0 435.0 276.5 C434.6 278.0 431.5 280.5 430.0 281.5 C428.5 282.5 421.5 285.2 420.0 286.5 C418.5 287.8 416.2 292.8 415.0 294.0 C413.8 295.2 408.6 299.0 407.5 299.0 C406.4 299.0 403.8 295.5 403.8 294.0 C403.8 292.5 406.5 286.2 407.5 284.0 C408.5 281.8 412.8 273.5 413.8 271.5 C414.8 269.5 416.2 264.9 417.5 264.0 Z" fill="#a8fa50" stroke="#000" stroke-width="1"/>
<path d="M418.8 266.5 C420.8 264.6 425.3 264.4 427.5 265.2 C429.7 266.1 432.0 269.2 431.8 271.5 C431.5 273.8 428.4 277.0 426.2 279.0 C424.1 281.0 420.6 283.9 418.8 283.5 C416.9 283.1 415.0 279.3 415.0 276.5 C415.0 273.7 416.7 268.4 418.8 266.5 Z" fill="#50faaa"/>
<path d="M420.5 269.5 C421.8 267.8 425.5 267.8 426.2 269.0 C427.0 270.2 426.2 274.8 425.0 276.5 C423.8 278.2 419.5 280.7 418.8 279.5 C418.0 278.3 419.2 271.2 420.5 269.5 Z" fill="#00ffff"/>
<path d="M350.0 261.5 C352.1 261.1 356.7 263.6 360.0 266.5 C363.3 269.4 369.2 275.7 370.0 279.0 C370.8 282.3 367.5 286.5 365.0 286.5 C362.5 286.5 357.9 281.9 355.0 279.0 C352.1 276.1 348.3 271.9 347.5 269.0 C346.7 266.1 347.9 261.9 350.0 261.5 Z" fill="#ffff00"/>
<path d="M640.0 90.2 C642.4 90.4 661.0 96.2 665.0 97.8 C669.0 99.2 676.5 104.0 680.0 105.2 C683.5 106.5 696.0 109.8 700.0 110.2 C704.0 110.7 717.4 108.9 720.0 109.5 C722.6 110.1 726.8 115.8 726.2 116.5 C725.8 117.2 718.1 116.8 715.0 116.5 C711.9 116.2 699.0 114.6 695.0 114.0 C691.0 113.4 679.0 111.4 675.0 110.2 C671.0 109.1 658.4 104.1 655.0 102.8 C651.6 101.4 642.8 97.8 641.2 96.5 C639.8 95.2 637.6 90.1 640.0 90.2 Z" fill="#ff5a00" stroke="#000" stroke-width="1"/>
<path d="M753.8 167.8 C755.4 166.9 766.4 170.2 770.0 170.2 C773.6 170.3 787.2 168.1 790.0 168.2 C792.8 168.4 797.5 170.9 797.5 172.0 C797.5 173.1 791.4 177.3 790.0 179.0 C788.6 180.7 784.1 186.5 783.8 189.0 C783.4 191.5 786.4 201.0 786.2 204.0 C786.1 207.0 783.6 214.0 782.5 219.0 C781.4 224.0 776.4 250.5 775.0 254.0 C773.6 257.5 769.4 256.5 768.8 254.0 C768.1 251.5 768.6 233.5 768.8 229.0 C768.9 224.5 770.6 212.2 770.0 209.0 C769.4 205.8 764.0 197.9 762.5 196.5 C761.0 195.1 755.9 196.2 755.0 194.5 C754.1 192.8 753.9 181.7 753.8 179.0 C753.6 176.3 752.1 168.6 753.8 167.8 Z" fill="#ff5a00" stroke="#000" stroke-width="1"/>
<path d="M771.2 209.0 C772.2 207.1 775.6 206.1 776.2 207.8 C776.9 209.4 776.0 217.1 775.0 219.0 C774.0 220.9 771.1 220.7 770.5 219.0 C769.9 217.3 770.3 210.9 771.2 209.0 Z" fill="#ffa500"/>
<path d="M835.0 96.5 C836.1 95.0 843.2 90.4 845.0 89.0 C846.8 87.6 850.0 83.5 852.5 82.8 C855.0 82.0 867.6 80.9 870.0 81.5 C872.4 82.1 875.9 87.0 876.2 89.0 C876.6 91.0 874.9 99.2 873.8 101.5 C872.6 103.8 866.4 109.8 865.0 111.5 C863.6 113.2 861.2 117.4 860.0 119.0 C858.8 120.6 854.2 127.5 852.5 127.8 C850.8 128.0 844.2 122.6 842.5 121.5 C840.8 120.4 835.9 118.2 835.0 116.5 C834.1 114.8 833.8 106.0 833.8 104.0 C833.8 102.0 833.9 98.0 835.0 96.5 Z" fill="#ff5a00" stroke="#000" stroke-width="1"/>
<path d="M847.5 104.0 C847.9 101.9 850.6 99.6 852.5 99.0 C854.4 98.4 858.1 98.6 858.8 100.2 C859.4 101.9 857.7 107.1 856.2 109.0 C854.8 110.9 851.5 112.3 850.0 111.5 C848.5 110.7 847.1 106.1 847.5 104.0 Z" fill="#ffa500"/>
<path d="M838.8 186.5 C838.2 183.6 844.2 178.6 846.2 179.0 C848.3 179.4 850.7 186.1 851.2 189.0 C851.8 191.9 851.6 196.9 849.5 196.5 C847.4 196.1 839.3 189.4 838.8 186.5 Z" fill="#ff5a00" stroke="#000" stroke-width="1"/>
<path d="M881.2 200.2 C882.4 199.3 887.5 198.0 890.0 198.2 C892.5 198.5 896.2 200.7 896.2 202.0 C896.2 203.3 892.2 205.7 890.0 206.0 C887.8 206.3 884.5 205.0 883.0 204.0 C881.5 203.0 880.1 201.2 881.2 200.2 Z" fill="#ff5a00" stroke="#000" stroke-width="1.5"/>
<path d="M750.0 301.5 C751.5 300.5 761.0 300.2 762.5 301.5 C764.0 302.8 765.2 311.5 765.0 314.0 C764.8 316.5 761.1 324.8 760.0 326.5 C758.9 328.2 755.0 331.8 753.8 331.5 C752.5 331.2 748.2 326.0 747.5 324.0 C746.8 322.0 746.8 313.8 747.0 311.5 C747.2 309.2 748.5 302.5 750.0 301.5 Z" fill="#ff5a00" stroke="#000" stroke-width="1"/>
<path d="M692.5 366.5 C693.1 365.4 698.9 359.5 700.0 357.8 C701.1 356.0 702.6 349.9 703.8 349.0 C704.9 348.1 710.2 348.2 711.2 349.0 C712.2 349.8 714.1 355.1 713.8 356.5 C713.4 357.9 708.9 361.6 707.5 362.8 C706.1 363.9 701.4 367.1 700.0 367.8 C698.6 368.4 694.5 369.1 693.8 369.0 C693.0 368.9 691.9 367.6 692.5 366.5 Z" fill="#ff5a00" stroke="#000" stroke-width="1"/>
<path d="M747.5 334.0 C747.5 333.0 749.2 331.9 750.0 332.0 C750.8 332.1 752.5 333.5 752.5 334.5 C752.5 335.5 750.8 337.8 750.0 337.8 C749.2 337.7 747.5 335.0 747.5 334.0 Z" fill="#ff5a00" stroke="#000" stroke-width="1"/>
<path d="M660.0 436.5 C660.2 435.2 661.6 433.4 662.5 434.0 C663.4 434.6 665.7 439.0 665.5 440.2 C665.3 441.5 662.2 442.1 661.2 441.5 C660.3 440.9 659.8 437.8 660.0 436.5 Z" fill="#ff5a00" stroke="#000" stroke-width="1"/>
<path d="M658.8 437.5 C659.0 436.5 661.5 434.8 662.5 435.0 C663.5 435.2 665.2 437.7 665.0 438.8 C664.8 439.8 662.3 441.5 661.2 441.2 C660.2 441.0 658.5 438.5 658.8 437.5 Z" fill="#ff5a00" stroke="#000" stroke-width="1"/>
<path d="M628.8 593.8 C629.0 592.1 631.0 589.4 632.5 588.8 C634.0 588.1 636.9 588.8 637.5 590.0 C638.1 591.2 637.3 594.8 636.2 596.2 C635.2 597.7 632.5 599.2 631.2 598.8 C630.0 598.3 628.5 595.4 628.8 593.8 Z" fill="#ff5a00" stroke="#000" stroke-width="2"/>
<path d="M521.2 270.2 C521.9 268.6 526.2 268.0 528.8 269.0 C531.2 270.0 534.2 273.6 536.2 276.5 C538.3 279.4 542.3 284.8 541.2 286.5 C540.2 288.2 532.7 287.8 530.0 286.5 C527.3 285.2 526.5 281.7 525.0 279.0 C523.5 276.3 520.6 271.9 521.2 270.2 Z" fill="#8c0000" stroke="#000" stroke-width="1"/>
<path d="M502.5 286.5 C503.8 284.8 507.3 282.5 510.0 282.8 C512.7 283.0 518.8 285.9 518.8 287.8 C518.8 289.6 512.7 293.2 510.0 294.0 C507.3 294.8 503.8 294.0 502.5 292.8 C501.2 291.5 501.2 288.2 502.5 286.5 Z" fill="#8c0000" stroke="#000" stroke-width="1"/>
<path d="M606.2 249.0 C606.5 247.8 608.3 249.8 610.0 251.5 C611.7 253.2 614.6 256.5 616.2 259.0 C617.9 261.5 620.2 264.6 620.0 266.5 C619.8 268.4 616.7 270.0 615.0 270.2 C613.3 270.5 611.0 269.6 610.0 267.8 C609.0 265.9 609.4 262.1 608.8 259.0 C608.1 255.9 606.0 250.2 606.2 249.0 Z" fill="#8c0000" stroke="#000" stroke-width="1"/>
<path d="M592.5 96.5 C593.1 95.1 596.2 95.1 598.3 95.7 C600.4 96.2 603.8 97.9 605.0 99.8 C606.2 101.8 606.7 105.4 605.8 107.3 C605.0 109.3 601.9 110.9 600.0 111.5 C598.1 112.1 595.0 111.9 594.2 110.7 C593.3 109.4 595.3 106.4 595.0 104.0 C594.7 101.6 591.9 97.9 592.5 96.5 Z" fill="#ff5a00" stroke="#000" stroke-width="3"/>
<clipPath id="fclip"><polygon points="281.3,241.3 281.3,828.7 918.7,828.7 918.7,261.3 470.0,261.3 469.9,261.3 469.7,261.3 469.6,261.2 469.5,261.2 469.4,261.1 469.3,261.1 469.2,261.0 469.1,260.9 469.0,260.8 468.9,260.7 468.9,260.6 468.8,260.5 468.8,260.4 468.7,260.3 468.7,260.1 468.7,260.0 468.7,229.3 413.8,229.3 413.8,237.5 413.8,237.6 413.8,237.8 413.7,237.9 413.7,238.0 413.6,238.1 413.6,238.2 413.5,238.3 413.4,238.4 413.3,238.5 413.2,238.6 413.1,238.6 413.0,238.7 412.9,238.7 412.8,238.8 412.6,238.8 412.5,238.8 360.3,238.8 360.3,240.0 360.3,240.1 360.3,240.3 360.2,240.4 360.2,240.5 360.1,240.6 360.1,240.7 360.0,240.8 359.9,240.9 359.8,241.0 359.7,241.1 359.6,241.1 359.5,241.2 359.4,241.2 359.3,241.3 359.1,241.3 359.0,241.3 281.3,241.3"/></clipPath>
<g clip-path="url(#fclip)">
<path d="M288.2 240.2L288.2 311.2L309.2 332.8L325.2 350.2L340.8 363.8L353.2 372.2L373.2 371.8L390.8 379.2L401.2 384.8L415.8 389.2L429.8 395.2L446.2 396.8L455.2 394.2L462.8 399.2L460.2 404.2L476.8 420.8L503.2 452.2L509.2 462.2L510.8 465.8L515.2 483.8L512.8 493.2L512.8 495.2L514.8 503.2L521.8 513.2L531.2 519.8L537.2 521.8L552.8 525.2L561.8 529.8L569.8 541.8L575.2 555.2L582.8 560.2L587.8 552.8L592.2 559.2L597.8 572.8L605.2 567.8L614.2 570.2L620.2 566.2L631.8 569.8L633.2 571.2L637.2 579.8L647.2 584.8L652.2 592.2L660.2 600.2L670.8 597.8L682.8 592.8L680.2 585.2L670.2 572.8L680.2 565.2L689.8 560.8L690.8 558.8L692.2 551.2L693.8 549.8L703.2 545.2L712.2 549.8L720.2 555.2L739.8 594.8L747.8 600.2L757.8 624.8L757.8 629.8L763.2 640.8L765.2 651.8L757.8 661.8L762.2 668.2L763.2 671.2L765.2 685.2L764.8 685.8L762.8 699.8L767.8 713.8L767.8 715.8L767.2 716.2L765.2 730.2L759.8 741.2L755.8 747.2L749.8 753.2L745.2 760.2L738.8 762.2L731.8 765.8L725.2 770.2L722.8 777.8L726.2 782.8L719.8 788.2L712.8 792.8L717.8 800.2L712.2 808.8L707.8 822.2L794.2 823.2L794.8 823.8L911.8 823.8L911.8 444.2L900.8 449.8L889.8 458.2L880.8 462.8L872.2 461.8L871.8 461.2L868.2 461.2L867.8 461.8L864.2 461.8L859.2 462.8L858.8 462.2L860.2 460.2L857.2 463.2L856.2 465.8L853.2 469.8L848.2 472.8L835.2 467.8L828.2 477.2L820.2 485.2L817.8 492.8L810.2 500.2L812.8 509.8L810.2 524.8L809.2 525.8L802.8 527.8L789.8 545.8L780.2 550.2L775.8 557.2L774.2 558.2L767.8 560.2L763.2 553.2L752.8 542.8L744.8 535.8L734.2 529.8L724.8 527.8L709.2 522.2L700.2 520.2L693.8 523.8L677.2 536.8L664.2 543.2L655.8 546.2L642.8 547.8L629.8 539.8L618.8 534.2L610.8 528.2L599.8 517.2L593.2 505.8L584.8 494.8L575.2 475.8L570.2 460.8L572.2 446.8L572.8 446.2L572.8 443.2L573.2 442.8L574.2 431.2L578.2 413.2L580.2 391.2L583.8 377.2L590.2 360.8L590.8 351.2L591.2 350.8L591.2 347.8L588.2 336.2L579.8 327.8L540.8 308.2L535.8 307.8L535.2 307.2L528.8 306.8L521.8 305.2L505.8 304.8L505.2 304.2L499.8 304.2L491.2 306.8L484.8 306.8L484.2 307.2L463.8 307.2L463.2 306.8L459.8 306.8L451.8 305.2L439.2 307.2L423.8 303.8L420.8 302.2L418.2 300.2L422.8 293.8L433.8 282.2L434.2 279.2L437.8 269.8L437.8 258.2L442.2 240.2L445.2 232.8L446.2 228.2L412.8 228.2L412.8 237.2L412.2 237.8L359.2 237.8L358.8 240.2Z" fill="#b40000" fill-rule="evenodd"/>
<path d="M288.2 240.2L288.2 311.2L325.2 350.2L340.8 363.8L352.2 371.8L373.2 371.8L390.8 379.2L401.2 384.8L415.8 389.2L429.8 395.2L446.2 396.8L455.2 394.2L462.8 399.2L460.2 404.2L476.8 420.8L503.2 452.2L509.2 462.2L510.8 465.8L515.2 483.8L512.8 495.2L514.8 503.2L521.8 513.2L531.2 519.8L552.8 525.2L561.8 529.8L569.8 541.8L575.2 555.2L582.8 560.2L587.8 552.8L592.2 559.2L597.8 572.8L605.2 567.8L614.2 570.2L620.2 566.2L631.8 569.8L633.2 571.2L637.2 579.8L647.2 584.8L652.2 592.2L660.2 600.2L670.8 597.8L682.8 592.8L680.2 585.2L670.2 572.8L680.2 565.2L689.8 560.8L692.2 551.2L693.8 549.8L703.2 545.2L712.2 549.8L720.2 555.2L739.8 594.8L747.8 600.2L757.8 624.8L757.8 629.8L763.2 640.8L765.2 651.8L757.8 661.8L762.2 668.2L763.2 671.2L765.2 685.2L762.8 699.8L767.8 713.8L765.2 730.2L759.8 741.2L755.8 747.2L749.8 753.2L745.2 760.2L738.8 762.2L731.8 765.8L725.2 770.2L722.8 777.8L726.2 782.8L719.8 788.2L712.8 792.8L717.8 800.2L712.2 808.8L707.8 822.2L794.8 823.8L911.8 823.8L911.8 444.2L900.8 449.8L889.8 458.2L880.8 462.8L871.8 461.2L859.2 462.8L858.8 462.2L860.2 460.2L857.2 463.2L853.2 469.8L848.2 472.8L835.2 467.8L828.2 477.2L820.2 485.2L817.8 492.8L810.2 500.2L812.8 509.8L810.2 524.8L809.2 525.8L802.8 527.8L790.8 544.8L780.2 550.2L775.8 557.2L774.2 558.2L767.8 560.2L763.2 553.2L752.8 542.8L744.8 535.8L734.2 529.8L724.8 527.8L709.2 522.2L701.2 520.2L693.8 523.8L677.2 536.8L664.2 543.2L655.8 546.2L642.8 547.8L629.8 539.8L618.8 534.2L610.8 528.2L599.8 517.2L593.2 505.8L584.8 494.8L575.2 475.8L570.2 460.8L573.2 442.8L574.2 431.2L578.2 413.2L580.2 391.2L583.8 377.2L590.2 360.8L591.2 347.8L588.2 336.2L579.8 327.8L540.8 308.2L521.8 305.2L499.8 304.2L491.2 306.8L484.2 307.2L463.8 307.2L451.8 305.2L439.2 307.2L423.8 303.8L418.2 300.2L422.8 293.8L433.8 282.2L437.8 269.8L437.8 258.2L442.2 240.2L446.2 228.2L412.8 228.2L412.2 237.8L359.2 237.8L358.8 240.2ZM860.8 605.8L861.2 607.8L860.2 611.2L855.2 621.2L853.8 622.8L853.2 621.8L858.2 606.8ZM849.2 527.8L853.2 528.8L858.2 533.8L859.8 539.8L859.8 543.8L855.8 548.8L855.2 552.2L854.2 553.2L851.2 553.2L847.8 551.8L844.8 548.8L843.8 546.2L843.8 544.2L846.2 541.2L844.8 532.2L845.2 530.8Z" fill="#d80000" fill-rule="evenodd"/>
<path d="M288.2 240.2L288.2 311.2L325.2 350.2L340.8 363.8L352.2 371.8L373.2 371.8L390.8 379.2L401.2 384.8L415.8 389.2L429.8 395.2L446.2 396.8L455.2 394.2L462.8 399.2L460.2 404.2L476.8 420.8L503.2 452.2L509.2 462.2L510.8 465.8L515.2 483.8L512.8 495.2L514.8 503.2L521.8 513.2L531.2 519.8L552.8 525.2L561.8 529.8L569.8 541.8L575.2 555.2L582.8 560.2L587.8 552.8L592.2 559.2L597.8 572.8L605.2 567.8L614.2 570.2L620.2 566.2L631.8 569.8L633.2 571.2L637.2 579.8L647.2 584.8L652.2 592.2L660.2 600.2L670.8 597.8L682.8 592.8L680.2 585.2L670.2 572.8L680.2 565.2L689.8 560.8L692.2 551.2L693.8 549.8L703.2 545.2L712.2 549.8L720.2 555.2L739.8 594.8L747.8 600.2L757.8 624.8L757.8 629.8L763.2 640.8L765.2 651.8L757.8 661.8L762.2 668.2L763.2 671.2L765.2 685.2L762.8 699.8L767.8 713.8L765.2 730.2L759.8 741.2L755.8 747.2L749.8 753.2L745.2 760.2L738.8 762.2L731.8 765.8L725.2 770.2L722.8 777.8L726.2 782.8L719.8 788.2L712.8 792.8L717.8 800.2L712.2 808.8L707.8 822.2L794.8 823.8L911.8 823.8L911.8 444.2L900.8 449.8L889.8 458.2L880.8 462.8L871.8 461.2L859.2 462.8L858.8 462.2L860.2 460.2L857.2 463.2L853.2 469.8L848.2 472.8L835.2 467.8L828.2 477.2L820.2 485.2L817.8 492.8L810.2 500.2L812.8 509.8L810.2 524.8L809.2 525.8L802.8 527.8L790.8 544.8L780.2 550.2L775.8 557.2L774.2 558.2L767.8 560.2L763.2 553.2L752.8 542.8L744.8 535.8L734.2 529.8L724.8 527.8L709.2 522.2L701.2 520.2L693.8 523.8L677.2 536.8L664.2 543.2L655.8 546.2L642.8 547.8L629.8 539.8L618.8 534.2L610.8 528.2L599.8 517.2L593.2 505.8L584.8 494.8L575.2 475.8L570.2 460.8L573.2 442.8L574.2 431.2L578.2 413.2L580.2 391.2L583.8 377.2L590.2 360.8L591.2 347.8L588.2 336.2L579.8 327.8L540.8 308.2L521.8 305.2L499.8 304.2L491.2 306.8L484.2 307.2L463.8 307.2L451.8 305.2L439.2 307.2L423.8 303.8L418.2 300.2L422.8 293.8L433.8 282.2L437.8 269.8L437.8 258.2L442.2 240.2L446.2 228.2L412.8 228.2L412.2 237.8L359.2 237.8L358.8 240.2ZM834.2 705.8L835.2 706.8L835.2 709.8L831.8 720.8L830.2 722.2L828.8 722.2L826.8 720.2L826.8 717.8L827.8 714.8L831.2 712.8L832.8 707.8ZM863.8 584.2L866.8 590.8L863.8 611.2L860.2 620.2L856.8 625.8L856.8 628.8L855.8 629.8L852.2 629.8L850.8 628.2L849.8 625.2L847.8 608.8L849.8 604.2L858.2 603.8L859.2 602.8L861.8 592.8L861.8 586.2L862.2 584.8ZM864.2 514.2L868.2 517.8L871.2 521.8L869.8 540.8L866.8 550.2L866.2 554.2L864.8 555.8L860.2 557.8L854.2 558.8L850.2 557.8L845.8 557.8L839.8 553.8L837.2 548.2L837.2 538.8L838.8 533.8L838.8 525.8L841.8 522.2L848.2 518.8Z" fill="#ff0000" fill-rule="evenodd"/>
<path d="M288.2 240.2L288.2 311.2L325.2 350.2L340.8 363.8L352.2 371.8L373.2 371.8L390.8 379.2L401.2 384.8L415.8 389.2L429.8 395.2L446.2 396.8L455.2 394.2L462.8 399.2L460.2 404.2L476.8 420.8L503.2 452.2L509.2 462.2L510.8 465.8L515.2 483.8L512.8 495.2L514.8 503.2L521.8 513.2L531.2 519.8L552.8 525.2L561.8 529.8L569.8 541.8L575.2 555.2L582.8 560.2L587.8 552.8L592.2 559.2L597.8 572.8L605.2 567.8L614.2 570.2L620.2 566.2L631.8 569.8L633.2 571.2L637.2 579.8L647.2 584.8L652.2 592.2L660.2 600.2L670.8 597.8L682.8 592.8L680.2 585.2L670.2 572.8L680.2 565.2L689.8 560.8L692.2 551.2L693.8 549.8L703.2 545.2L712.2 549.8L720.2 555.2L739.8 594.8L747.8 600.2L757.8 624.8L757.8 629.8L763.2 640.8L765.2 651.8L757.8 661.8L762.2 668.2L763.2 671.2L765.2 685.2L762.8 699.8L767.8 713.8L765.2 730.2L759.8 741.2L755.8 747.2L749.8 753.2L745.2 760.2L738.8 762.2L731.8 765.8L725.2 770.2L722.8 777.8L726.2 782.8L719.8 788.2L712.8 792.8L717.8 800.2L712.2 808.8L707.8 822.2L794.8 823.8L911.8 823.8L911.8 706.2L908.2 702.8L908.2 694.2L909.2 693.2L911.8 693.2L911.8 544.2L909.8 544.2L908.8 543.2L907.8 539.8L907.8 517.8L909.8 516.8L911.8 517.2L911.8 444.2L900.8 449.8L889.8 458.2L880.8 462.8L871.8 461.2L859.2 462.8L858.8 462.2L860.2 460.2L857.2 463.2L853.2 469.8L848.2 472.8L835.2 467.8L828.2 477.2L820.2 485.2L817.8 492.8L810.2 500.2L812.8 509.8L810.2 524.8L809.2 525.8L802.8 527.8L790.8 544.8L780.2 550.2L775.8 557.2L774.2 558.2L767.8 560.2L763.2 553.2L752.8 542.8L744.8 535.8L734.2 529.8L724.8 527.8L709.2 522.2L701.2 520.2L693.8 523.8L677.2 536.8L664.2 543.2L655.8 546.2L642.8 547.8L629.8 539.8L618.8 534.2L610.8 528.2L599.8 517.2L593.2 505.8L584.8 494.8L575.2 475.8L570.2 460.8L573.2 442.8L574.2 431.2L578.2 413.2L580.2 391.2L583.8 377.2L590.2 360.8L591.2 347.8L588.2 336.2L579.8 327.8L540.8 308.2L521.8 305.2L499.8 304.2L491.2 306.8L484.2 307.2L463.8 307.2L451.8 305.2L439.2 307.2L423.8 303.8L418.2 300.2L422.8 293.8L433.8 282.2L437.8 269.8L437.8 258.2L442.2 240.2L446.2 228.2L412.8 228.2L412.2 237.8L359.2 237.8L358.8 240.2ZM836.8 703.2L839.2 706.8L833.8 724.8L831.2 727.2L827.2 727.8L822.8 723.8L822.8 719.2L824.2 713.8L826.2 711.8L830.2 712.2L832.8 704.8L834.2 703.2ZM904.2 696.2L905.8 697.2L905.8 698.8L904.8 699.8L902.2 698.8ZM851.8 592.2L851.8 596.2L850.2 598.2L849.2 598.2L848.2 596.2L849.8 593.8ZM837.2 573.2L839.8 574.8L839.8 582.2L838.8 583.2L834.8 584.2L832.2 579.8L832.8 576.2L835.8 573.2ZM902.8 532.8L903.8 533.2L904.2 535.8L903.2 540.2L902.2 540.2L900.8 538.8L900.2 536.2L900.8 534.2ZM867.2 505.8L873.2 507.2L874.8 513.2L874.8 521.2L871.2 542.8L870.8 558.8L869.2 561.8L869.2 564.8L870.8 565.2L871.2 574.2L871.2 600.2L870.2 601.8L868.2 601.8L867.2 602.8L866.8 609.8L864.8 615.8L865.8 621.8L864.2 625.8L861.8 628.2L858.2 629.8L851.2 637.2L842.2 655.8L838.2 670.2L836.2 672.8L835.2 672.8L835.2 655.8L844.8 631.8L844.8 624.8L842.2 608.8L846.2 606.8L849.8 601.8L857.2 602.2L860.8 591.2L860.8 585.8L859.8 584.2L861.8 578.8L866.2 574.8L866.2 568.8L864.8 565.2L857.8 562.2L853.2 561.8L846.8 566.2L844.8 566.2L835.2 561.8L828.8 552.8L827.8 547.8L828.8 544.2L833.8 534.2L833.2 523.2L835.2 518.8L840.2 514.8L846.8 513.2L858.2 507.8ZM526.2 452.2L529.8 452.2L531.8 454.2L533.2 457.8L539.8 466.2L539.8 468.2L538.8 469.2L536.8 468.8L530.8 461.8L525.8 453.8ZM410.8 315.8L412.8 316.8L411.2 318.8L409.2 317.2ZM384.2 287.2L381.8 289.8L372.2 289.2L362.2 291.2L360.8 290.2L361.2 285.8L363.2 282.8L376.2 279.8L380.8 281.2L382.8 283.2Z" fill="#ff5a00" fill-rule="evenodd" stroke="#000" stroke-width="0.8"/>
<path d="M907.2 704.2L906.8 714.2L911.8 714.8L911.8 707.2ZM288.2 240.2L288.2 311.2L325.2 350.2L340.8 363.8L352.2 371.8L373.2 371.8L390.8 379.2L401.2 384.8L415.8 389.2L429.8 395.2L446.2 396.8L455.2 394.2L462.8 399.2L460.2 404.2L476.8 420.8L503.2 452.2L509.2 462.2L510.8 465.8L515.2 483.8L512.8 495.2L514.8 503.2L521.8 513.2L531.2 519.8L552.8 525.2L561.8 529.8L569.8 541.8L575.2 555.2L582.8 560.2L587.8 552.8L592.2 559.2L597.8 572.8L605.2 567.8L614.2 570.2L620.2 566.2L631.8 569.8L633.2 571.2L637.2 579.8L647.2 584.8L652.2 592.2L660.2 600.2L670.8 597.8L682.8 592.8L680.2 585.2L670.2 572.8L680.2 565.2L689.8 560.8L692.2 551.2L693.8 549.8L703.2 545.2L712.2 549.8L720.2 555.2L739.8 594.8L747.8 600.2L757.8 624.8L757.8 629.8L763.2 640.8L765.2 651.8L757.8 661.8L762.2 668.2L763.2 671.2L765.2 685.2L762.8 699.8L767.8 713.8L765.2 730.2L759.8 741.2L755.8 747.2L749.8 753.2L745.2 760.2L738.8 762.2L731.8 765.8L725.2 770.2L722.8 777.8L726.2 782.8L719.8 788.2L712.8 792.8L717.8 800.2L712.2 808.8L707.8 822.2L794.8 823.8L911.8 823.8L911.8 761.8L907.8 761.8L905.8 760.2L905.2 750.2L899.2 747.2L901.8 739.8L901.2 721.2L903.2 718.2L903.2 701.2L900.2 702.2L898.2 701.8L900.2 695.8L906.2 688.8L907.2 689.2L907.8 692.2L911.8 692.2L911.8 548.2L907.8 543.8L907.2 541.2L906.8 517.8L907.8 516.8L911.8 516.2L911.2 464.8L903.8 462.2L901.8 457.8L900.2 456.2L893.8 455.2L889.8 458.2L880.8 462.8L871.8 461.2L859.2 462.8L858.8 462.2L860.2 460.2L857.2 463.2L853.2 469.8L848.2 472.8L835.2 467.8L828.2 477.2L820.2 485.2L817.8 492.8L810.2 500.2L812.8 509.8L810.2 524.8L809.2 525.8L802.2 528.2L798.2 534.8L789.8 545.8L780.2 550.2L775.2 557.8L768.2 560.2L767.2 559.8L763.2 553.2L752.8 542.8L744.8 535.8L734.2 529.8L724.8 527.8L709.2 522.2L701.2 520.2L693.8 523.8L677.2 536.8L664.2 543.2L655.8 546.2L642.8 547.8L629.8 539.8L618.8 534.2L610.8 528.2L599.8 517.2L593.2 505.8L584.8 494.8L575.2 475.8L570.2 460.8L573.2 442.8L574.2 431.2L578.2 413.2L580.2 391.2L583.8 377.2L590.2 360.8L591.2 347.8L588.8 337.8L587.8 336.2L574.8 331.2L565.8 329.2L560.8 327.2L559.8 326.2L558.8 322.8L559.2 319.2L561.8 319.2L567.8 321.8L540.8 308.2L521.8 305.2L499.8 304.2L491.2 306.8L484.2 307.2L463.8 307.2L451.8 305.2L439.2 307.2L423.8 303.8L418.8 300.8L418.8 299.2L422.8 293.8L433.8 282.2L437.8 269.8L437.8 258.2L442.2 240.2L446.2 228.2L433.2 228.2L429.8 239.8L429.8 242.2L433.8 247.2L434.2 251.8L433.2 252.8L429.8 252.8L420.2 250.2L404.2 250.8L403.2 249.8L402.8 245.8L399.2 242.8L394.8 241.2L373.2 241.8L371.2 243.2L370.8 246.8L371.8 249.8L372.2 258.2L373.8 261.8L381.2 270.8L388.8 273.8L391.2 276.8L392.2 279.8L391.8 283.8L394.2 291.2L390.8 296.2L382.8 299.8L378.2 298.8L367.8 298.2L364.8 297.2L360.8 297.2L357.2 298.2L354.8 296.2L356.8 287.8L359.2 281.8L359.8 277.2L361.2 275.8L364.8 275.2L367.2 273.8L359.8 262.8L359.2 255.2L357.8 252.8L344.2 252.8L337.2 249.2L335.8 247.2L334.2 242.8L327.8 245.2L325.2 245.2L313.8 240.2ZM839.8 599.2L841.2 600.8L840.2 602.2L839.2 600.8ZM853.8 584.8L854.2 586.2L852.8 589.2L852.2 587.2ZM877.2 582.2L878.2 582.8L879.2 585.2L878.8 589.8L877.2 588.2ZM904.2 518.8L905.2 521.2L905.8 544.8L904.8 547.8L901.2 548.8L896.2 542.8L894.8 528.8L899.8 527.8L902.2 521.2ZM878.8 501.2L880.8 503.2L877.8 510.8L879.2 515.2L878.8 525.2L875.8 531.8L875.8 533.8L873.2 537.8L872.2 548.8L872.2 556.8L873.2 560.8L874.8 562.8L874.2 569.8L875.8 574.2L875.8 578.8L873.2 579.8L872.2 582.2L872.8 588.8L871.8 601.8L868.8 603.8L868.2 609.2L866.8 613.8L867.2 616.2L869.2 613.8L870.8 609.8L870.8 604.8L871.8 603.2L873.8 604.8L873.8 610.2L870.2 617.2L869.2 618.2L867.2 617.8L864.8 626.2L860.8 630.2L858.8 631.2L853.8 637.2L845.2 653.2L838.2 675.8L838.8 688.2L838.2 696.2L837.2 697.8L837.2 699.8L841.2 703.8L840.8 708.8L837.2 716.2L834.8 726.8L827.8 731.8L824.8 732.2L821.8 727.2L820.8 722.8L823.8 712.2L824.8 711.2L829.8 711.2L830.8 710.2L831.8 706.2L831.2 700.2L832.8 696.2L833.8 653.8L837.2 645.2L842.2 629.2L841.8 618.8L839.2 604.2L840.8 603.2L842.2 605.8L844.8 605.8L847.2 603.2L849.2 599.8L845.8 595.8L852.2 589.8L853.8 591.8L853.8 593.2L850.8 600.2L856.2 600.2L859.8 590.2L859.8 586.2L856.2 585.8L855.8 584.8L859.8 582.8L859.8 580.8L862.2 574.2L862.2 570.8L859.8 564.8L858.2 563.8L853.8 563.2L847.8 567.8L843.8 579.2L843.2 585.2L839.2 587.8L838.2 589.2L837.8 596.2L836.2 594.8L835.8 592.8L832.8 590.2L829.2 582.8L827.2 576.2L825.2 574.2L822.2 572.8L819.8 572.8L817.8 570.8L815.8 563.8L810.2 552.8L810.2 546.8L814.2 537.2L816.2 534.8L821.8 535.8L823.8 534.2L825.2 525.8L828.8 520.2L829.2 517.2L832.8 509.8L837.8 504.8L839.2 504.8L840.8 506.2L843.2 506.8L847.2 506.2L851.8 503.2L853.8 498.2L856.2 498.2L858.2 499.8L865.2 501.2ZM840.2 484.8L844.8 483.8L846.2 485.2L849.2 492.8L852.8 497.2L852.2 498.8L847.2 499.2L843.2 495.8L839.8 488.8ZM512.8 437.8L513.8 437.8L515.2 439.2L516.2 442.2L521.8 448.8L528.2 449.8L532.8 452.2L535.8 457.8L542.8 465.8L542.8 472.2L541.2 475.2L532.2 471.2L530.2 468.2L526.2 465.2L520.2 455.8L514.8 451.2L511.2 447.2L510.8 445.8L512.8 443.2L511.8 439.2ZM415.8 309.8L417.2 310.8L415.2 317.2L413.2 319.8L410.8 320.2L407.2 318.8L405.8 317.2L405.8 315.8L407.8 311.8L409.8 309.8Z" fill="#ffa500" fill-rule="evenodd"/>
<path d="M858.8 587.2L857.2 588.2L856.2 590.2L855.2 589.8L855.8 586.8L854.8 587.2L853.8 589.8L854.8 593.8L852.2 599.2L854.8 598.8ZM858.2 564.8L854.8 564.2L849.2 567.8L844.8 580.2L843.8 585.2L845.8 589.2L844.2 590.8L842.8 590.8L841.8 589.8L841.8 588.2L840.8 588.2L839.2 596.2L842.2 599.8L842.2 603.2L843.2 604.2L844.2 604.2L847.8 601.2L847.8 600.2L843.2 595.8L843.2 594.8L847.8 591.2L850.2 591.2L851.2 590.2L852.2 585.2L858.8 582.2L858.8 580.8L859.8 579.8L861.8 572.2ZM571.2 359.8L570.8 361.8L571.8 364.2L577.2 368.2L579.8 368.8L580.8 362.8L580.2 360.8ZM383.8 244.8L383.2 245.8L384.8 251.2L388.8 260.8L390.2 262.2L393.2 262.2L394.8 260.2L394.8 254.8L392.2 245.2L389.8 244.2ZM288.2 242.2L288.2 311.2L309.2 332.8L322.2 347.2L323.2 345.8L326.2 346.2L340.8 360.2L355.2 368.2L376.2 369.2L407.8 380.8L432.8 391.8L449.2 393.8L452.2 394.8L455.2 394.2L462.8 399.2L460.2 404.2L476.8 420.8L503.2 452.2L509.2 462.2L510.8 465.8L515.2 483.8L512.8 495.2L514.8 503.2L521.8 513.2L531.2 519.8L552.8 525.2L561.8 529.8L569.8 541.8L575.2 555.2L582.8 560.2L587.8 552.8L592.2 559.2L597.8 572.8L605.2 567.8L614.2 570.2L620.2 566.2L631.8 569.8L633.2 571.2L637.2 579.8L647.2 584.8L652.2 592.2L660.2 600.2L670.8 597.8L682.8 592.8L680.2 585.2L670.2 572.8L680.2 565.2L689.8 560.8L692.2 551.2L693.8 549.8L703.2 545.2L712.2 549.8L720.2 555.2L739.8 594.8L747.8 600.2L757.8 624.8L757.8 629.8L763.2 640.8L765.2 651.8L757.8 661.8L762.2 668.2L763.2 671.2L765.2 685.2L762.8 699.8L767.8 713.8L765.2 730.2L759.8 741.2L755.8 747.2L749.8 753.2L745.2 760.2L738.8 762.2L731.8 765.8L725.2 770.2L722.8 777.8L726.2 782.8L719.8 788.2L712.8 792.8L717.8 800.2L712.2 808.8L707.8 822.2L794.8 823.8L911.8 823.8L911.8 763.2L905.8 763.2L905.8 770.8L904.2 772.8L901.8 770.8L898.8 769.8L895.2 769.8L891.2 774.8L881.8 783.8L880.2 783.8L863.2 774.8L869.2 764.8L874.2 758.8L874.2 757.8L869.2 756.2L868.2 755.2L867.8 747.2L872.8 735.8L874.8 727.8L881.8 713.8L882.8 712.8L887.2 711.8L891.8 707.8L893.8 701.2L898.2 691.8L908.8 679.2L911.8 678.8L911.8 551.8L908.2 552.2L907.2 551.2L906.8 555.8L905.2 556.2L903.8 554.2L901.8 553.8L897.8 549.8L890.8 540.8L888.8 523.8L889.8 522.8L896.8 522.8L897.8 521.8L903.2 507.8L905.2 504.8L906.2 505.8L906.8 510.8L906.2 516.2L907.2 516.8L909.8 515.2L911.8 515.2L911.8 466.2L904.8 464.2L905.2 473.8L904.8 475.8L903.8 476.2L898.8 465.8L896.2 463.2L890.2 459.8L886.2 459.8L880.8 462.8L871.8 461.2L859.2 462.8L858.8 462.2L860.2 460.2L857.2 463.2L853.2 469.8L848.2 472.8L835.2 467.8L828.2 477.2L819.8 486.2L823.2 485.8L824.2 486.8L824.2 505.2L822.2 512.2L816.2 526.2L816.2 529.8L817.8 531.2L822.8 532.2L822.2 524.8L823.8 521.8L826.8 519.8L826.8 515.8L830.2 506.8L834.8 501.2L834.8 499.2L831.8 491.8L832.2 482.2L833.2 481.2L836.8 480.2L849.8 478.2L850.8 479.8L850.8 482.8L853.2 486.8L855.2 494.8L858.2 495.8L865.8 500.2L874.8 500.2L877.8 499.2L880.8 500.2L882.8 502.2L882.8 504.2L879.8 509.2L879.8 510.8L882.2 513.2L883.8 516.8L883.8 525.8L878.2 534.2L874.8 538.2L873.8 543.2L873.2 556.2L873.8 558.2L875.8 560.2L875.2 570.2L876.8 574.2L876.8 578.8L878.8 580.8L880.2 589.2L878.2 590.8L875.8 589.2L875.8 581.2L874.2 581.2L872.2 602.2L874.8 604.2L874.8 610.2L871.2 617.2L866.8 621.2L864.8 627.2L859.8 632.2L855.8 637.8L846.2 655.8L840.8 675.8L840.8 700.2L842.8 702.8L842.2 709.2L838.2 716.2L835.8 727.2L826.2 734.2L824.2 736.8L819.8 723.2L822.8 712.2L824.8 710.8L829.2 710.2L830.8 706.8L830.2 704.8L829.2 708.8L827.8 709.2L826.8 708.2L828.2 704.2L830.8 701.2L831.8 697.2L832.8 652.8L838.2 635.2L840.2 624.2L837.8 607.2L838.8 601.2L838.2 598.2L835.2 596.2L834.8 593.8L832.8 591.8L827.2 578.8L824.8 577.2L817.2 577.2L815.2 575.2L812.8 569.2L811.2 567.8L804.2 564.8L801.8 562.8L799.8 558.2L797.8 549.2L797.8 545.8L791.2 543.8L789.8 545.8L780.2 550.2L775.2 557.8L767.8 560.2L763.2 553.2L744.8 535.8L734.2 529.8L724.8 527.8L709.2 522.2L701.2 520.2L693.8 523.8L677.2 536.8L664.2 543.2L655.8 546.2L642.8 547.8L629.8 539.8L620.2 535.2L610.8 528.2L599.8 517.2L593.2 505.8L584.8 494.8L575.2 475.8L570.2 460.8L572.8 446.2L574.2 431.2L578.2 413.2L577.2 405.2L574.2 402.2L576.2 387.8L569.8 387.8L562.2 390.8L560.8 389.8L558.8 385.8L558.8 383.2L560.8 380.8L559.2 366.2L560.8 362.8L560.8 360.2L558.8 354.2L558.8 351.8L563.8 343.2L562.8 341.8L555.8 337.8L551.2 333.8L548.2 320.8L548.2 315.8L546.2 313.8L537.2 307.8L535.2 307.2L523.8 307.2L507.8 308.8L490.8 308.8L488.8 306.8L474.8 307.2L474.8 308.2L473.2 309.2L458.2 309.8L453.8 310.8L445.8 309.8L444.2 308.2L440.8 308.2L433.2 310.8L419.2 318.2L417.8 316.8L417.2 318.8L419.2 319.2L419.2 320.2L417.8 321.8L407.2 321.8L401.8 316.8L406.8 305.8L409.2 303.8L415.2 304.2L420.8 302.2L418.2 300.2L422.8 293.8L433.8 282.2L436.8 272.8L435.8 261.2L434.8 258.2L419.8 256.2L417.2 257.8L411.2 257.8L405.8 259.8L401.8 267.8L402.2 279.8L394.8 304.8L393.8 305.8L390.8 304.8L387.2 304.8L384.8 306.2L380.2 306.2L373.8 304.8L369.8 304.8L359.8 301.2L357.2 301.2L352.8 298.8L350.8 296.8L350.8 291.2L353.2 287.2L356.8 278.8L356.8 274.8L352.2 266.2L349.8 263.2L338.8 256.8L309.8 245.8L304.2 244.2ZM856.2 792.2L856.2 793.2L848.2 805.2L844.2 809.2L840.8 810.8L823.8 812.2L822.8 811.2L822.8 806.2L824.2 803.2L829.2 800.2L836.8 792.8L837.2 790.8L839.2 788.8L847.8 787.2L854.8 790.8ZM511.2 435.8L513.8 435.8L515.8 436.8L517.8 439.8L526.2 447.8L531.8 449.2L535.2 452.8L536.8 455.8L545.8 465.2L546.2 471.2L557.2 477.8L559.2 477.8L560.8 476.8L561.8 477.2L566.2 485.2L566.2 486.8L562.2 489.2L558.2 488.8L555.2 489.8L553.2 488.2L552.2 485.2L545.8 484.2L542.8 480.8L529.8 475.2L526.2 471.8L523.2 470.2L516.8 462.2L501.8 450.8L501.8 449.2L509.2 443.2L508.8 439.2ZM492.8 426.8L493.8 425.2L495.8 425.2L497.8 426.2L498.8 428.2L497.8 429.2L495.2 429.2Z" fill="#ffff00" fill-rule="evenodd"/>
<path d="M655.8 582.8L656.8 593.2L658.2 596.8L661.2 600.2L673.2 596.8L674.2 594.2L674.2 590.2L670.8 586.2L665.8 583.8L662.8 581.2L659.8 580.2L657.8 580.8ZM856.8 566.2L853.8 566.2L851.8 567.2L849.8 570.2L845.8 583.8L847.2 590.2L850.2 590.8L851.8 585.2L855.8 583.2L858.8 578.8L859.8 571.8L857.8 566.8ZM518.2 474.2L517.2 475.2L516.8 477.8L517.8 486.8L519.8 489.8L523.8 491.2L525.2 492.8L524.8 497.8L523.8 498.8L521.8 498.8L518.8 501.2L517.8 505.8L518.8 509.2L522.8 513.8L528.2 517.2L531.8 516.8L536.8 511.2L538.8 511.2L542.8 513.2L547.8 519.8L555.2 526.8L561.8 529.8L564.2 533.8L567.8 536.8L596.8 550.8L616.8 563.8L626.2 564.2L644.2 566.8L660.2 566.2L680.2 560.2L691.8 554.8L692.2 551.2L694.2 548.8L696.2 548.8L702.8 545.2L713.8 550.2L720.2 555.2L722.8 560.8L732.2 573.8L733.8 580.2L737.2 585.8L736.2 587.8L739.8 594.8L747.8 600.2L757.8 624.8L757.8 629.8L762.8 639.2L765.2 651.8L757.8 661.8L762.8 669.2L763.8 676.2L767.8 679.8L768.8 682.8L768.8 687.8L763.2 699.2L763.2 701.2L767.8 713.8L765.8 726.2L767.8 724.2L770.8 718.8L772.2 712.8L773.8 712.2L775.2 713.8L775.2 716.2L772.2 727.8L758.2 750.2L744.8 777.2L737.2 786.2L730.2 790.2L722.2 796.2L716.2 802.2L713.2 806.8L711.8 810.2L715.2 818.8L715.8 822.2L807.8 823.8L808.2 822.8L810.8 822.8L810.8 818.2L813.2 810.8L820.2 796.8L830.2 786.8L836.8 774.2L841.8 771.2L844.2 768.8L847.8 758.8L850.8 754.8L855.8 750.8L860.2 750.2L861.8 747.8L863.8 742.2L863.2 736.8L867.8 728.2L869.8 721.2L874.2 712.2L875.8 710.8L884.8 710.8L886.8 709.2L888.2 703.2L887.2 697.2L889.8 693.2L900.8 680.8L903.2 679.2L907.8 674.2L911.2 673.2L911.8 566.8L907.8 565.8L900.2 561.2L898.8 559.8L900.2 555.2L893.8 548.8L891.8 548.2L889.2 545.8L875.8 547.8L875.2 548.8L874.8 557.8L876.8 559.8L875.8 567.2L877.2 569.8L877.8 577.2L879.2 579.2L880.8 584.8L880.2 590.2L878.2 591.2L874.8 591.2L873.8 593.2L872.8 601.2L875.8 604.2L875.8 609.8L871.8 618.2L867.2 621.8L865.2 627.8L856.2 640.8L848.8 654.2L844.2 668.2L842.8 679.8L842.8 686.2L844.2 695.8L843.2 710.2L839.2 715.8L836.2 728.8L826.8 735.8L823.8 747.2L822.2 749.8L820.2 751.2L819.8 745.8L822.2 733.8L819.2 725.8L819.2 722.2L821.8 712.8L823.8 710.8L826.8 710.2L826.2 708.8L827.2 705.2L829.8 701.8L830.8 698.8L831.8 684.8L831.8 652.2L835.2 639.8L838.2 624.2L837.8 615.2L835.8 605.2L836.2 600.8L833.2 596.2L833.2 594.8L827.2 582.2L815.8 582.2L812.8 579.8L810.2 574.8L798.2 569.2L794.2 569.2L785.2 584.2L780.8 590.2L782.2 595.2L783.2 604.2L783.2 620.2L785.8 639.2L781.2 643.8L778.2 643.2L775.2 640.8L773.8 637.8L773.2 632.2L768.2 609.8L768.2 598.8L769.2 595.8L773.8 588.2L775.2 583.8L787.2 566.8L787.2 564.8L780.8 557.2L776.2 556.2L774.2 558.2L767.8 560.2L762.8 552.8L757.2 551.2L752.2 544.2L747.8 539.8L742.2 535.8L732.8 531.2L718.8 529.2L707.8 525.8L696.8 526.8L691.8 531.8L689.8 536.2L689.2 541.8L687.8 540.2L679.8 539.8L673.8 541.8L662.8 547.2L651.2 549.8L635.2 545.8L624.8 539.2L618.2 540.2L597.8 518.2L595.8 517.2L586.8 508.2L576.8 501.2L565.8 494.8L563.2 494.2L557.8 491.2L554.8 490.8L549.8 487.8L537.2 483.8L528.2 479.2L522.2 474.8ZM781.2 656.2L784.8 658.2L787.2 661.2L784.8 666.8L783.2 676.2L780.8 679.8L778.2 679.8L777.8 680.8L778.2 684.2L776.8 694.2L774.2 699.8L772.8 700.2L771.2 698.2L770.2 691.8L773.2 676.2L776.2 667.8L775.8 660.2L780.2 656.2ZM857.8 462.8L853.8 468.8L853.8 471.2L854.8 473.2L855.2 480.2L858.8 491.8L866.8 499.2L879.8 497.2L883.2 499.8L885.2 502.2L885.2 504.2L882.8 509.2L886.2 512.2L886.8 516.2L887.8 517.2L894.2 517.2L895.8 515.2L902.2 498.8L904.2 495.8L903.2 488.2L901.2 485.2L900.2 480.2L898.2 478.8L893.2 478.8L892.2 477.8L890.2 469.8L883.8 465.8L879.2 464.2L871.2 463.2ZM576.2 421.2L574.8 421.8L574.8 425.8ZM430.2 263.2L426.8 262.2L422.2 262.2L416.2 265.2L410.2 278.2L405.8 284.2L404.8 286.8L403.8 292.8L404.2 294.8L406.2 297.2L411.2 296.8L418.8 286.8L431.2 278.2L433.2 274.2L433.2 268.8L431.8 264.8ZM291.2 247.8L290.8 253.2L288.2 254.2L288.2 307.8L290.8 308.2L307.8 322.8L321.2 336.8L321.2 341.8L323.2 343.8L327.8 344.8L341.8 358.2L356.8 366.2L373.8 366.8L387.2 369.8L420.8 382.8L430.8 387.8L449.8 390.8L456.2 390.8L458.8 389.8L461.8 389.8L466.2 391.8L474.8 397.2L474.8 417.8L499.2 447.8L506.2 442.2L506.2 439.2L508.8 434.2L509.8 433.2L512.2 433.2L522.2 438.8L528.8 445.2L533.8 448.2L538.8 454.2L545.2 460.2L554.2 464.8L558.8 465.2L564.2 460.2L565.8 457.2L570.2 452.8L571.2 450.8L569.8 445.2L569.8 440.2L570.8 439.2L571.8 433.2L572.8 432.2L567.8 431.8L566.8 430.8L566.2 425.8L572.2 419.2L574.2 419.2L574.8 416.2L576.2 414.8L575.2 408.2L573.2 407.8L568.2 412.2L563.8 407.2L558.2 404.2L556.2 404.2L553.8 407.2L552.8 407.2L546.8 404.2L543.8 401.2L543.2 394.2L540.2 387.2L540.2 384.2L547.2 377.8L549.8 373.8L549.8 371.8L548.8 368.8L545.8 371.2L543.8 370.8L542.2 369.2L542.2 367.2L545.2 364.2L546.2 364.2L548.2 366.2L549.2 365.8L549.8 361.8L553.2 356.8L552.8 349.2L550.8 346.8L546.2 343.2L539.2 339.8L534.8 335.2L535.2 331.2L538.2 321.8L538.2 315.8L535.8 313.2L532.2 311.8L523.8 311.8L509.8 313.8L504.8 313.8L495.2 312.2L488.8 309.8L485.8 311.2L479.2 312.2L476.8 310.2L474.2 310.2L464.8 312.2L450.8 317.8L447.8 317.8L445.2 316.2L436.2 316.2L420.8 324.8L417.8 324.8L413.2 322.8L407.8 323.8L405.2 322.8L403.2 320.2L400.8 319.2L396.8 314.2L388.2 310.2L367.8 307.8L359.8 304.2L351.2 299.2L347.8 295.8L344.8 290.8L350.8 284.8L353.8 278.8L353.8 275.2L349.2 266.8L339.8 260.2L322.8 254.8L307.8 248.8L298.2 247.2ZM488.2 423.8L490.2 421.8L494.8 421.2L499.8 423.8L501.8 425.8L503.2 430.8L500.2 432.8L495.8 433.8L489.2 429.2L488.2 426.8ZM522.8 367.8L525.2 365.2L528.2 365.2L531.2 367.8L531.2 371.2L528.2 373.2L525.8 373.2L523.2 370.8Z" fill="#a8fa50" fill-rule="evenodd" stroke="#000" stroke-width="0.8"/>
<path d="M769.2 694.2L766.8 699.2L766.2 702.8L768.2 702.8L769.8 708.8L770.8 709.8L770.2 698.8ZM661.2 587.2L662.2 593.8L663.8 595.2L664.2 592.2L662.8 588.2ZM855.8 568.2L853.2 568.2L851.8 569.8L848.8 577.8L847.8 588.8L849.2 590.2L850.8 588.8L851.2 585.2L855.2 582.2L856.8 578.2L857.2 570.2ZM893.2 551.2L888.2 551.2L886.2 549.8L883.2 549.8L878.2 550.8L876.8 551.8L876.2 557.8L877.8 559.2L876.8 566.8L878.8 569.8L878.8 574.8L880.8 580.2L881.2 584.2L880.8 590.2L875.8 592.8L874.8 601.8L876.8 603.8L876.8 609.8L872.8 618.2L868.8 621.8L865.8 629.2L849.8 656.2L845.8 668.2L844.2 679.2L844.2 684.8L845.8 693.8L844.8 708.8L839.8 716.8L837.2 729.2L828.2 736.2L824.8 747.8L821.8 752.8L820.2 753.8L818.2 751.8L818.2 748.2L821.2 733.8L818.2 725.8L818.2 722.8L821.2 712.2L822.8 710.8L826.2 709.2L827.2 704.2L829.8 700.8L831.2 681.2L830.8 653.8L836.8 625.2L836.2 613.2L832.8 603.2L827.2 591.2L822.8 586.8L813.2 586.8L810.8 584.8L809.2 581.8L800.8 577.8L798.8 577.8L787.2 592.8L786.8 596.8L788.2 615.8L786.2 618.2L786.2 625.2L787.8 640.8L785.8 643.2L784.8 648.2L785.2 654.8L789.8 658.8L790.2 660.2L787.2 667.8L785.2 677.8L783.2 681.2L779.8 684.2L779.2 697.8L776.8 698.8L774.8 703.8L774.2 711.2L778.2 713.2L778.2 716.8L775.2 728.8L762.2 753.8L753.8 765.8L748.8 775.8L748.2 778.2L745.8 782.2L736.2 794.2L724.2 803.8L717.8 806.8L716.2 808.2L720.8 818.2L723.2 819.2L724.8 820.8L725.2 822.8L805.2 823.8L805.2 820.2L807.2 818.2L810.8 808.8L817.8 796.2L827.8 785.8L834.8 773.2L841.2 767.8L849.8 750.2L854.8 745.2L859.8 742.8L860.2 736.2L864.8 729.8L868.2 720.8L877.2 703.8L879.2 701.8L879.8 702.2L877.2 708.2L878.2 709.2L883.2 709.2L884.2 708.2L885.8 702.2L882.8 698.2L885.2 693.2L899.2 678.2L901.8 677.2L904.8 674.2L908.2 669.2L911.8 668.8L911.8 569.8L908.2 569.2L906.2 566.8L896.8 559.8L898.2 557.8L898.2 556.2ZM882.2 587.2L884.2 588.8L885.2 591.2L885.2 593.2L884.2 594.2L882.8 593.2L881.8 588.8ZM881.2 560.2L882.2 563.2L881.8 565.2L879.8 566.8L878.8 565.8L879.8 560.8ZM722.8 537.8L721.8 539.8L727.2 544.8L727.8 548.8L740.2 561.8L743.8 568.2L742.8 579.8L744.8 583.8L741.2 587.2L743.8 595.8L743.2 597.2L747.2 599.8L748.8 602.2L757.8 624.8L757.8 629.8L762.8 639.2L765.2 650.8L764.2 653.2L757.8 661.8L762.2 668.2L762.8 670.2L769.2 675.8L770.2 668.8L770.2 659.8L771.8 654.8L771.8 649.2L770.8 646.8L770.8 643.8L768.8 638.8L768.8 635.8L762.8 616.2L760.8 604.8L760.2 596.8L757.8 590.8L757.8 588.2L759.2 584.8L760.8 583.8L764.2 585.2L766.2 585.2L776.8 571.2L777.2 568.8L774.2 565.2L771.8 559.2L767.8 560.2L765.8 557.2L759.8 555.8L756.2 555.8L750.2 558.2L747.8 558.2L737.2 547.2L729.2 541.2ZM895.2 480.8L892.2 480.8L891.2 481.8L888.8 489.8L884.8 497.8L887.2 501.2L886.8 507.8L889.2 511.8L891.8 511.8L892.8 510.8L896.8 500.2L901.2 494.8L899.8 489.2L896.2 486.2ZM520.2 476.2L521.2 483.8L522.8 486.8L525.8 488.2L528.2 490.8L528.8 493.2L531.2 495.8L532.2 498.2L542.2 508.2L549.2 518.2L560.2 529.2L569.8 536.2L584.2 542.2L592.2 547.2L598.8 550.2L615.2 560.8L624.8 562.8L642.2 564.8L659.8 564.2L665.8 561.8L668.8 557.2L677.8 554.8L682.2 552.2L682.2 550.2L680.8 548.8L678.8 548.8L669.8 552.2L656.8 553.2L655.2 552.2L634.8 548.2L624.8 543.2L622.8 543.8L619.2 547.2L618.2 547.2L596.8 519.8L584.8 508.8L576.2 503.2L556.2 492.2L546.8 488.2L533.8 485.8L522.2 476.2ZM619.8 549.2L620.8 551.2L619.2 552.2L618.8 550.2ZM857.8 464.2L856.2 465.8L856.8 478.8L859.2 487.2L861.8 491.8L867.8 497.2L871.2 497.2L880.2 493.8L885.2 488.8L889.2 481.8L889.2 471.8L886.8 469.2L878.8 465.8L869.8 464.2ZM504.2 437.2L502.2 436.2L498.2 437.2L495.2 441.8L496.2 444.2L499.8 444.8L502.8 442.2ZM540.2 353.2L539.2 353.2L537.2 356.2L538.2 357.8L541.2 356.8L541.2 354.8ZM427.2 267.2L424.8 265.8L421.8 265.8L418.8 267.8L418.2 274.8L411.2 285.8L408.8 291.8L409.8 291.2L414.8 282.8L420.2 276.2L425.8 277.8L429.2 274.8L429.8 270.8ZM288.2 254.8L288.2 299.8L289.2 299.8L290.2 298.8L290.2 255.8ZM292.8 252.8L292.2 290.2L291.2 305.2L292.2 306.8L310.8 319.2L323.2 334.2L323.8 337.2L322.8 340.8L324.8 342.2L327.2 342.8L334.2 349.8L341.8 355.8L356.8 363.2L376.2 364.2L382.8 365.8L389.8 365.8L392.2 367.8L398.2 368.2L419.2 375.8L421.2 375.2L425.8 372.2L427.2 372.2L440.8 378.8L455.2 381.8L469.8 381.8L471.8 383.2L476.8 392.8L480.2 397.2L480.8 412.8L482.8 415.8L487.8 416.8L494.2 416.8L503.8 422.8L506.2 426.8L512.2 429.8L519.2 430.2L525.8 435.2L533.2 442.8L539.2 445.2L547.2 453.8L554.8 458.8L557.8 458.8L560.8 457.2L564.8 452.2L564.2 444.8L560.2 438.2L558.2 436.2L553.2 434.8L548.2 428.8L543.2 424.8L539.8 419.2L539.2 412.8L535.8 412.2L532.2 408.2L532.2 404.2L534.8 396.8L534.2 392.8L531.2 386.2L525.8 380.2L520.8 378.8L517.8 376.8L518.2 370.2L515.2 366.2L514.2 353.8L506.2 346.8L506.2 345.2L507.2 344.2L509.2 344.2L516.8 348.8L518.2 347.8L528.2 334.8L530.2 333.2L533.8 327.2L534.2 320.2L533.2 317.2L528.8 315.2L526.8 315.2L511.2 318.8L506.2 318.8L503.8 317.2L493.8 314.2L489.2 311.8L481.2 313.8L478.8 313.8L475.8 312.2L462.8 315.8L457.8 318.2L448.8 324.8L441.8 322.8L438.8 322.8L436.2 323.8L431.2 323.8L421.2 328.2L416.2 327.8L410.8 325.2L407.2 325.2L405.2 324.2L401.8 320.8L400.2 320.2L395.8 315.2L387.8 310.8L367.8 309.2L349.2 298.8L342.8 292.2L342.8 290.2L345.8 285.2L351.2 280.2L351.8 275.8L349.2 269.8L339.2 262.2L309.8 252.2L303.2 251.2L295.8 251.2Z" fill="#50faaa" fill-rule="evenodd"/>
<path d="M763.2 637.2L765.2 638.8L766.8 638.2L766.2 637.2ZM757.2 604.8L755.2 604.8L750.8 606.8L751.2 609.2L752.2 609.8L755.8 607.8L757.2 606.2ZM745.8 585.8L743.8 587.2L743.8 589.8L748.8 603.2L750.2 604.8L752.8 591.8L750.8 588.8L747.2 585.8ZM854.8 569.8L852.8 570.8L850.2 578.2L849.2 589.2L850.2 588.8L851.2 584.2L853.2 583.2L854.8 580.8L855.8 576.8L855.8 570.8ZM754.8 560.2L753.8 561.8L756.8 567.2L756.8 569.2L755.2 570.8L755.2 572.8L756.2 573.8L758.8 573.8L762.8 577.2L765.2 577.2L767.2 574.2L767.2 572.2L762.2 560.2L760.2 559.2L756.8 559.2ZM893.2 554.2L885.2 554.2L881.8 553.2L879.2 553.8L878.2 555.2L878.8 558.8L881.2 558.8L884.2 562.2L883.8 566.2L881.8 567.8L879.2 568.2L879.2 571.2L881.8 579.2L881.8 584.8L884.8 587.2L886.2 591.2L886.2 593.8L884.8 595.2L882.2 595.8L881.2 594.8L881.2 591.8L878.2 592.8L876.8 601.8L877.8 603.2L877.2 611.2L873.2 619.2L870.2 622.2L868.8 626.8L851.2 657.2L847.2 667.8L845.8 677.8L845.8 684.8L847.2 693.2L845.8 708.2L844.8 711.2L840.2 717.8L839.2 721.2L839.2 727.2L838.2 729.8L829.8 736.8L826.2 747.2L821.2 755.2L820.2 755.2L817.2 751.8L817.2 747.2L819.8 736.8L819.8 731.8L817.2 723.8L820.8 711.8L825.8 709.2L827.2 703.2L829.2 700.2L830.8 677.2L830.2 652.2L834.8 632.8L835.8 615.2L831.8 607.2L823.8 595.2L819.8 592.2L810.8 591.2L806.8 587.8L802.8 586.8L797.2 593.8L789.2 595.8L789.2 616.8L787.8 619.2L787.8 629.8L788.8 635.8L787.8 648.8L788.2 652.8L791.8 658.8L791.8 661.2L790.2 664.8L787.2 678.2L782.2 686.2L780.2 698.8L777.8 700.2L774.8 709.2L775.2 710.8L779.8 711.8L779.2 717.8L776.2 729.2L763.8 754.2L755.8 765.8L750.2 776.8L752.8 783.2L745.8 794.8L735.8 804.2L733.2 804.8L730.2 803.2L728.2 803.2L723.8 807.8L722.2 807.8L720.2 809.2L723.2 813.8L727.2 817.8L726.2 819.8L726.2 822.8L804.2 823.8L803.8 818.2L811.8 801.2L815.8 795.8L825.8 784.8L833.8 772.2L840.8 764.8L849.2 749.8L854.2 743.8L857.2 741.8L858.8 736.2L862.8 730.2L873.2 708.2L877.8 700.8L879.2 699.8L881.2 700.8L879.2 706.8L879.8 707.8L881.2 707.8L882.2 706.8L883.2 703.2L882.2 697.2L885.8 690.8L889.2 686.2L903.2 672.8L907.2 667.8L911.8 667.8L911.8 570.8L907.8 570.2L900.2 563.2L895.2 560.2L896.8 557.8ZM531.2 488.2L533.2 491.2L535.8 498.2L554.2 521.2L565.8 532.2L572.8 536.2L583.8 540.8L595.8 548.2L602.2 551.2L608.8 555.8L613.8 558.2L624.8 561.2L639.8 563.2L659.2 562.8L661.8 561.8L665.2 558.2L665.8 556.2L662.8 555.2L654.8 555.2L653.2 556.8L639.8 556.2L638.2 557.2L633.2 557.2L631.2 556.2L631.2 554.2L632.2 553.2L645.8 554.2L652.2 553.8L650.8 552.8L633.8 550.2L623.8 546.2L620.8 547.8L622.2 549.8L620.8 554.8L617.8 555.2L616.8 554.2L616.8 551.8L617.8 549.8L617.2 547.2L596.2 520.8L587.8 512.8L575.8 504.2L570.8 502.2L560.8 495.8L550.8 491.2L538.8 488.2L536.2 488.2L534.2 489.2ZM891.8 487.2L890.8 487.8L888.8 494.2L888.8 497.8L890.2 502.8L897.8 495.2L897.2 491.8ZM857.8 465.8L857.8 476.8L860.8 486.2L862.2 488.8L868.8 495.2L871.2 495.2L879.8 491.8L886.8 483.8L888.2 479.8L888.8 473.8L888.2 472.2L883.8 468.8L879.2 466.8L871.8 465.2ZM422.2 269.2L422.2 271.2L423.8 272.8L425.8 273.2L424.8 271.2ZM288.8 255.2L288.2 282.2L289.2 281.8ZM294.2 257.8L293.8 277.8L294.2 286.8L295.2 289.8L297.2 291.2L309.8 294.8L320.8 299.8L328.2 301.2L327.2 302.2L322.8 302.8L304.8 297.2L294.2 295.8L293.8 304.2L314.8 315.2L318.8 319.2L319.8 324.2L323.8 332.2L324.8 335.8L324.8 340.2L326.2 340.8L335.8 349.8L345.2 355.2L359.8 360.2L382.8 360.8L390.2 358.2L396.2 365.2L407.8 364.8L418.2 368.2L420.8 368.2L423.8 366.8L442.2 372.2L449.2 373.2L456.2 375.8L470.8 375.2L474.2 376.2L477.8 379.8L478.8 386.2L481.8 392.2L484.8 396.2L485.8 406.8L488.8 411.8L495.2 412.8L501.8 418.8L505.2 420.2L511.8 425.2L522.8 425.2L535.8 438.2L542.8 440.2L556.8 453.2L559.2 452.8L559.8 449.8L555.2 444.2L551.2 440.8L545.8 439.2L528.8 419.8L522.2 410.8L522.2 408.2L526.2 395.8L524.8 388.2L522.8 385.8L521.8 382.2L516.2 377.8L515.2 375.8L515.8 373.2L509.2 365.2L508.2 361.2L501.2 354.2L497.8 348.8L497.8 347.2L504.2 340.8L518.8 340.8L523.8 334.2L531.2 326.8L531.2 323.8L530.2 320.8L528.8 319.2L524.8 319.2L511.2 324.2L509.2 324.2L503.8 322.8L498.2 318.8L489.8 314.2L486.2 313.8L481.2 315.2L474.2 315.2L466.8 316.8L459.8 320.8L447.8 329.2L444.2 328.2L441.2 329.2L429.2 328.8L421.8 331.2L411.2 329.8L406.8 327.2L396.2 317.2L387.2 311.2L366.2 310.2L356.8 303.2L344.2 296.8L340.8 292.8L341.2 288.2L343.8 283.2L349.2 279.8L349.8 276.2L347.8 270.8L338.8 264.2L310.8 255.2L298.8 254.8Z" fill="#00ffff" fill-rule="evenodd"/>
<path d="M746.2 587.8L745.8 589.2L748.8 595.8L749.8 595.8L751.2 591.2L748.2 588.2ZM854.2 572.2L852.8 575.2L851.2 582.8L853.2 581.8L854.8 573.8ZM901.2 565.8L896.8 564.2L889.8 565.8L886.2 568.8L882.8 570.2L882.2 571.2L883.2 583.2L886.2 587.8L886.8 594.2L885.8 595.8L879.8 597.8L879.2 607.8L878.2 611.8L864.2 639.2L854.2 655.2L849.8 665.2L847.2 676.2L848.2 697.2L846.2 709.2L841.2 717.8L839.8 722.8L840.2 727.8L839.2 730.2L830.8 738.2L826.8 749.2L820.8 757.2L817.8 754.2L815.8 750.8L818.8 735.8L818.8 731.8L816.2 724.8L819.8 712.2L821.8 710.2L825.8 708.2L827.2 702.2L828.2 701.2L830.2 667.8L829.8 651.8L833.8 633.2L834.2 614.8L829.2 607.8L821.2 599.2L818.8 597.8L808.8 595.2L805.8 595.2L803.2 596.8L793.8 599.2L790.8 602.2L789.8 616.8L790.8 618.8L790.8 628.8L792.2 644.8L794.2 653.2L792.8 655.2L793.2 661.8L790.2 674.2L781.8 694.8L779.8 705.2L778.8 706.8L776.8 706.8L775.8 708.8L776.8 710.8L777.8 710.8L779.2 708.8L780.8 709.8L780.2 717.2L776.8 730.2L764.8 754.8L756.2 767.8L751.8 776.8L753.8 781.8L752.8 785.8L746.8 795.8L733.8 808.8L730.2 805.2L729.2 805.2L726.2 808.8L727.8 811.8L732.2 816.2L732.8 818.8L734.8 820.2L735.8 822.8L798.8 823.8L800.2 821.8L800.8 817.8L810.2 799.8L822.8 785.8L852.8 744.8L862.2 728.8L876.8 700.2L880.2 697.2L882.8 692.2L890.2 682.8L901.2 671.8L906.8 664.8L909.2 663.2L911.2 663.2L911.2 573.8L908.2 573.2ZM893.2 493.2L892.2 493.8L892.8 496.8L894.2 495.2L894.2 493.8ZM541.8 493.8L541.2 500.8L542.2 502.8L554.8 519.2L557.2 521.8L559.8 522.2L563.2 525.8L563.8 528.2L565.2 529.8L570.2 531.2L579.8 537.8L603.2 549.8L606.2 550.8L612.2 550.2L612.8 546.8L610.8 541.8L595.2 522.2L585.8 512.8L575.2 505.8L563.8 500.2L560.8 497.2L549.2 492.2ZM859.2 466.8L858.2 468.2L858.8 475.8L862.2 486.2L868.2 492.2L872.8 492.8L878.8 490.2L886.2 482.2L887.2 473.2L882.8 469.2L878.2 467.2L871.2 465.8L864.8 465.8ZM301.2 261.2L298.2 265.8L298.8 273.8L305.2 282.2L322.8 296.2L332.8 299.8L326.2 305.8L321.8 305.8L298.8 299.2L296.2 299.2L295.8 302.2L316.2 309.8L323.8 316.2L324.2 317.2L322.8 324.2L325.2 337.2L326.2 339.8L334.2 347.8L346.8 353.8L361.8 357.2L379.8 356.2L388.2 350.8L390.2 350.2L401.2 363.2L420.2 361.8L435.2 365.2L449.8 366.8L456.8 369.2L470.8 368.8L476.8 370.2L487.8 374.8L487.8 378.2L485.2 385.2L485.2 387.8L494.2 406.2L500.2 412.2L505.8 416.2L513.8 415.8L514.8 411.2L514.8 399.8L517.2 395.2L510.2 390.2L505.8 385.8L499.2 377.8L496.2 371.8L493.2 371.8L490.8 373.8L490.2 373.2L491.8 366.2L491.8 361.8L487.8 351.2L487.2 346.2L495.8 335.2L496.8 326.2L493.2 319.2L487.8 316.8L482.8 316.8L477.2 318.2L468.8 319.2L463.2 322.2L449.2 332.8L440.2 336.2L436.8 336.2L430.2 333.2L417.8 334.2L407.8 332.2L406.2 331.2L405.2 327.8L400.2 322.8L386.8 311.8L377.8 311.2L372.8 312.2L366.8 312.2L353.2 301.8L346.2 298.2L339.2 296.2L339.2 288.2L343.8 274.8L337.8 266.2L311.8 258.2L305.8 258.2Z" fill="#00a0ff" fill-rule="evenodd" stroke="#000" stroke-width="0.8"/>
<path d="M899.8 569.2L894.8 569.2L885.8 571.8L884.8 572.8L884.8 580.2L886.8 585.2L887.2 594.8L885.8 596.8L881.8 598.8L880.8 609.8L875.8 619.8L874.8 623.8L866.2 640.2L855.8 656.2L851.2 665.8L848.2 679.2L849.8 691.2L847.8 706.8L845.8 712.8L842.2 717.2L841.2 720.2L840.8 729.8L839.2 732.2L832.2 738.8L827.2 750.8L821.2 758.8L819.2 757.8L814.8 751.2L815.2 745.2L817.8 735.2L817.8 731.8L815.8 726.8L815.8 723.2L819.2 711.8L825.8 707.8L827.8 700.2L827.8 693.2L829.2 680.8L829.2 649.8L832.8 634.2L832.8 615.8L827.8 608.8L819.2 600.8L812.8 598.2L807.8 597.2L799.8 599.2L794.8 602.8L791.8 603.8L790.8 611.2L791.2 628.8L792.8 644.8L794.8 652.8L793.8 655.8L794.8 659.8L791.8 673.2L786.2 688.2L781.8 697.2L780.2 705.8L778.8 707.8L781.8 709.8L780.2 720.2L777.2 730.8L763.8 758.8L758.2 767.2L753.2 777.2L753.2 778.8L754.8 781.2L753.8 785.2L746.2 797.8L737.2 806.8L734.2 810.8L735.2 813.8L734.2 818.2L736.2 821.2L738.2 821.8L738.2 820.2L739.8 819.8L740.8 821.8L742.2 822.8L796.2 823.8L796.2 820.2L798.2 818.2L809.2 799.2L820.8 786.8L850.8 746.2L861.8 728.2L871.2 707.8L879.2 693.8L892.2 677.8L907.8 660.2L908.2 656.8L909.8 655.2L911.8 654.8L911.8 582.8L908.8 582.2L907.8 576.8L905.8 575.8ZM549.2 495.2L545.8 500.2L546.2 502.8L549.2 508.8L557.2 519.8L560.2 519.8L564.8 524.2L565.8 528.2L568.2 527.8L570.2 528.8L582.8 538.2L597.2 545.2L604.2 546.8L606.8 546.8L608.8 545.2L607.8 541.2L599.8 530.2L585.8 514.2L572.8 505.8L562.8 501.2L560.2 498.2L551.8 494.8ZM859.8 467.8L859.8 476.8L862.8 485.2L868.2 490.8L870.2 491.8L872.8 491.8L878.2 489.2L885.2 481.8L886.2 474.2L885.2 472.2L881.2 469.2L876.2 467.2L870.8 466.2L862.8 466.8ZM496.2 385.8L494.2 388.2L494.2 389.8L499.8 396.8L500.8 404.2L503.8 406.8L509.8 407.8L511.2 404.8L509.2 400.2L509.2 396.8L498.2 385.8ZM481.2 329.2L478.8 327.8L468.2 327.8L459.8 328.8L457.8 330.2L457.2 331.8L457.2 338.2L455.8 339.8L452.2 341.2L443.8 339.8L439.8 339.8L436.2 341.2L429.8 337.8L416.8 338.2L408.8 336.8L403.2 339.8L398.2 344.8L396.8 347.8L396.8 350.2L405.2 360.8L419.2 359.8L440.2 364.8L452.2 364.8L453.8 363.2L463.8 364.8L473.2 362.8L478.2 362.8L478.8 357.2L477.8 354.2L477.8 348.8L479.8 343.8L482.2 340.2L480.2 334.8ZM323.8 322.8L325.8 337.2L326.8 339.2L334.8 347.2L347.8 352.8L361.8 355.2L365.8 355.2L379.2 350.2L382.8 347.2L386.2 345.8L390.2 341.8L400.8 333.8L403.2 329.8L402.8 328.2L396.2 321.8L385.8 312.8L378.8 312.8L371.8 314.8L366.2 313.8L356.2 304.2L351.8 301.2L342.8 298.2L337.2 298.2L329.8 303.2L328.2 305.2ZM308.2 262.2L303.2 272.2L303.8 275.2L309.8 282.2L316.2 286.8L324.2 293.8L329.2 296.2L332.2 296.2L334.2 295.2L336.8 292.2L338.2 285.8L338.2 281.2L337.2 279.8L334.8 269.8L314.8 262.8Z" fill="#0050ff" fill-rule="evenodd"/>
<path d="M906.8 578.8L904.2 578.8L896.8 572.2L891.2 572.2L886.8 573.2L885.2 574.8L885.8 578.8L887.8 583.2L887.8 594.8L887.2 596.2L883.2 599.8L882.2 611.8L878.8 618.2L877.2 624.8L868.2 641.2L856.2 658.8L852.2 667.8L849.8 678.8L850.8 688.8L850.2 697.8L846.8 712.2L842.2 719.8L841.8 729.8L839.2 734.2L833.8 739.2L829.2 749.8L821.2 760.8L819.2 759.2L813.8 751.2L814.2 744.8L816.8 734.2L816.8 731.2L814.8 726.2L814.8 723.8L818.2 712.2L820.2 710.2L825.2 707.8L826.8 701.8L828.8 678.8L828.8 646.2L832.2 632.2L831.2 617.2L823.8 606.8L817.8 602.2L813.8 600.2L808.2 599.2L800.8 599.8L792.8 604.8L791.8 612.2L791.8 628.8L793.2 645.2L795.2 652.2L795.8 660.2L791.2 677.8L787.2 688.2L782.8 697.2L780.2 707.8L782.8 710.2L781.8 717.8L777.8 731.2L764.2 760.2L754.8 777.2L754.8 779.8L755.8 781.8L755.2 783.8L744.2 801.8L736.2 810.2L736.8 814.8L735.2 817.8L737.2 818.2L740.2 816.8L746.2 808.2L748.8 806.8L749.2 805.2L754.8 799.2L763.8 786.2L765.8 781.8L768.8 779.2L770.8 774.8L770.8 771.8L771.8 769.8L774.2 767.8L776.2 768.8L776.2 770.2L767.8 787.8L758.2 801.2L753.2 806.8L749.8 807.8L749.8 809.2L745.8 812.8L742.2 818.2L744.2 819.8L744.8 822.8L795.2 823.8L795.2 818.2L803.8 804.8L819.8 786.8L849.8 746.2L852.8 740.2L861.2 727.8L866.2 715.8L878.2 693.2L891.2 675.8L906.8 658.2L907.8 655.8L911.8 654.2L911.8 583.2L909.2 583.2ZM788.2 734.2L788.8 736.8L787.2 743.8L785.2 747.8L784.2 746.8L784.2 744.2L786.8 739.2L787.2 734.8ZM810.2 672.8L811.2 674.2L807.2 687.2L799.8 702.8L799.2 699.8L801.2 690.8L802.2 689.2L804.2 688.2L807.8 676.8L807.8 673.8L808.8 672.8ZM806.2 626.2L807.8 629.2L809.2 639.8L811.8 649.8L810.8 651.2L808.2 643.8L805.2 628.2ZM550.2 498.2L549.8 501.2L551.2 507.2L556.8 516.8L558.8 518.8L560.2 518.8L567.8 526.8L583.2 537.2L597.8 544.8L607.2 544.2L607.2 542.8L597.2 528.8L584.2 514.8L570.8 505.8L562.2 501.8L558.8 498.8L551.8 496.8ZM860.8 468.2L859.8 469.2L859.8 471.8L862.8 483.2L863.8 485.2L869.8 490.8L873.2 490.8L877.2 488.8L883.8 482.2L885.2 477.2L885.2 474.2L880.8 469.8L874.2 467.2L865.2 467.2ZM402.2 346.2L402.2 348.8L403.2 350.8L409.2 358.2L422.2 358.8L439.8 363.8L451.8 362.8L451.2 360.2L457.2 356.8L457.2 354.8L451.2 346.8L440.2 343.2L435.2 344.2L428.2 341.8L414.8 342.2L411.2 341.2L405.2 343.2ZM472.2 334.8L470.8 337.2L475.2 338.8L475.2 335.2L473.8 334.2ZM324.2 323.2L326.2 337.2L333.2 345.2L345.8 351.2L360.8 353.2L365.2 352.8L380.2 341.8L384.2 340.8L387.2 338.2L391.8 336.8L400.2 330.8L399.8 328.2L384.8 314.2L382.8 313.8L372.8 317.2L369.8 317.2L366.2 315.2L355.8 304.8L351.8 301.8L342.2 298.8L336.8 299.2L330.2 303.8L327.2 311.2ZM329.8 306.2L330.8 305.2L331.8 305.8L331.2 307.2L330.2 307.2ZM310.8 266.2L306.8 273.8L309.2 277.8L312.2 280.8L319.2 285.2L326.2 291.8L329.8 293.8L333.2 293.2L335.8 289.2L335.8 284.8L333.2 279.8L332.2 274.2L328.8 271.8L313.8 266.2Z" fill="#0000ff" fill-rule="evenodd"/>
<path d="M911.8 583.8L909.2 583.8L905.8 581.2L901.8 581.2L893.2 575.2L886.8 576.2L888.8 581.8L888.2 595.8L885.2 599.8L884.2 612.2L882.2 615.8L879.2 627.2L870.8 641.8L858.2 658.8L853.8 668.2L851.2 678.2L851.8 695.2L847.2 712.8L844.2 717.2L842.2 722.8L842.8 730.2L840.8 734.2L835.2 739.8L829.8 751.2L821.8 762.2L819.8 761.2L812.8 751.2L813.2 743.8L815.8 733.8L815.8 731.2L813.8 724.8L817.8 711.8L819.2 710.2L824.8 707.8L826.2 700.8L826.8 688.2L828.2 677.2L827.8 646.2L830.8 633.8L829.8 619.2L823.8 609.2L813.2 602.2L806.8 600.8L800.2 600.8L794.2 605.2L793.2 609.2L792.2 627.2L793.8 643.8L796.2 653.8L796.8 660.2L792.2 678.2L780.8 706.8L783.8 710.2L782.2 718.8L778.8 730.8L771.2 748.2L756.2 777.8L756.2 782.8L748.8 796.8L745.8 800.2L745.2 802.2L741.8 805.2L737.2 811.8L737.8 815.2L739.8 815.2L746.2 805.8L753.2 798.2L763.8 780.2L767.8 777.2L768.8 774.8L768.2 770.8L769.8 767.8L771.2 766.2L777.2 766.2L778.2 767.8L771.8 783.8L763.2 797.2L753.2 809.8L751.8 809.8L748.2 811.8L744.2 816.8L743.8 818.2L744.8 819.2L745.2 822.8L791.8 822.8L791.8 819.8L800.8 806.2L816.2 789.8L845.2 751.2L853.2 737.2L860.2 728.2L866.2 713.2L874.2 697.2L889.8 674.2L906.8 654.8L911.8 654.2ZM790.2 731.2L790.8 735.2L787.8 747.8L786.2 750.8L784.8 751.2L780.8 747.2L780.8 744.8L781.8 741.8L784.8 738.8L784.8 732.8L785.8 731.8ZM809.2 670.2L810.8 670.8L812.8 672.8L808.8 687.2L801.2 703.2L800.2 709.8L797.2 713.2L795.8 713.8L795.2 710.2L797.2 700.8L803.2 678.8L803.2 671.8L804.2 670.8ZM804.8 623.8L808.2 625.2L809.8 627.2L810.8 635.8L813.8 649.2L813.8 651.8L810.8 653.8L808.8 652.2L806.2 642.2L803.8 628.2L803.8 624.8ZM557.2 504.8L556.8 512.8L558.2 516.2L561.2 518.2L568.2 526.2L579.2 533.2L587.8 537.2L594.2 537.2L595.2 535.2L594.8 528.8L584.2 516.8L567.8 506.2L562.8 504.2ZM861.2 468.8L860.8 473.8L863.8 483.8L869.8 489.8L872.2 490.2L876.2 488.2L882.2 482.8L884.2 477.2L884.2 474.2L880.8 470.8L874.8 467.8L867.2 467.8ZM408.8 348.2L409.2 350.8L413.2 355.8L426.8 357.8L439.8 362.2L446.2 361.8L447.8 359.2L450.2 357.8L450.8 356.2L449.8 351.8L448.2 350.2L438.8 347.8L419.8 345.2L411.2 346.2ZM324.8 323.8L326.2 335.8L328.8 339.8L334.2 345.2L348.2 350.8L362.2 351.2L365.2 349.2L368.8 344.2L376.2 336.8L380.2 335.2L389.8 333.8L396.2 330.2L396.2 328.8L384.8 317.8L380.2 317.2L372.8 320.2L369.8 320.2L352.8 303.2L349.2 301.2L341.8 299.2L337.8 299.8L332.2 303.2L332.8 306.2L328.2 310.2ZM311.8 271.2L310.8 274.8L314.2 278.8L320.2 282.2L329.8 290.8L331.8 291.2L333.2 290.2L333.8 286.8L330.2 281.8L328.2 276.8L316.8 270.8L312.8 270.2Z" fill="#1400d2" fill-rule="evenodd" stroke="#000" stroke-width="0.8"/>
<path d="M911.8 583.8L901.2 584.2L898.2 583.2L891.2 578.8L889.8 578.8L890.2 584.2L893.8 584.8L896.2 587.2L895.2 590.8L893.8 592.8L889.2 593.2L888.8 596.8L887.2 599.8L886.2 612.2L881.8 628.2L870.8 645.8L859.8 659.8L854.8 670.2L852.8 677.8L853.2 693.2L851.8 700.2L850.2 702.2L849.8 707.2L847.8 713.8L845.2 717.2L843.2 722.2L843.8 730.8L840.2 736.8L836.8 740.2L831.8 750.2L821.8 764.2L819.8 762.8L811.2 750.2L814.8 733.2L814.8 731.2L813.2 727.8L813.8 721.8L817.2 711.2L824.2 707.2L824.8 701.8L825.8 699.2L825.8 692.2L827.2 681.2L826.8 643.8L828.8 632.8L827.8 621.2L826.2 616.8L823.2 611.8L817.8 607.2L804.2 601.8L800.2 601.8L796.8 605.2L795.2 608.8L793.8 629.8L795.8 647.2L798.8 657.8L794.2 677.8L783.8 707.2L784.8 709.8L783.8 716.8L778.8 732.8L769.2 755.2L757.2 779.2L757.2 782.2L749.8 796.8L746.2 801.2L746.2 803.2L743.2 805.2L739.2 810.8L738.8 814.2L744.2 807.2L745.2 804.2L748.8 801.2L752.2 796.2L761.2 779.2L762.8 777.8L766.2 776.2L767.2 774.2L765.8 770.8L766.2 768.8L769.2 764.2L772.2 763.8L773.2 762.8L778.8 750.8L776.8 746.2L778.8 741.2L783.2 737.2L783.2 735.2L781.8 732.8L782.2 730.8L785.2 729.2L786.8 726.8L794.2 697.8L793.2 692.2L797.8 677.8L798.2 670.8L800.8 668.8L809.2 668.8L813.8 671.8L813.8 673.8L809.2 689.2L802.2 703.8L801.2 710.2L796.2 716.2L788.8 748.8L779.2 767.8L775.2 778.8L774.8 782.8L765.2 797.2L755.8 808.8L755.2 812.2L754.2 813.2L750.8 811.8L746.8 814.8L745.2 817.2L745.2 822.8L754.8 822.8L755.2 820.2L757.2 819.2L758.8 817.2L762.2 819.2L767.2 819.8L768.2 820.8L768.2 823.2L784.8 823.2L785.2 820.8L790.8 816.8L800.8 803.2L815.2 788.8L843.8 750.2L852.2 735.2L859.2 728.2L861.8 723.2L865.2 712.8L868.2 708.8L874.2 694.8L888.2 672.8L907.2 651.2L908.8 654.2L911.8 653.8ZM803.8 621.8L810.2 624.8L811.8 626.8L815.8 650.2L815.8 652.8L813.8 654.8L808.8 655.2L807.2 652.8L802.2 627.2L802.2 624.2ZM559.2 514.2L569.2 526.2L578.8 531.8L586.8 534.2L588.8 534.2L591.8 529.2L591.2 526.8L584.2 518.8L570.2 509.8L562.2 509.2ZM862.2 469.2L861.2 470.2L862.2 477.2L865.2 485.2L870.8 489.2L872.8 489.2L880.8 483.2L883.2 477.2L883.2 474.2L880.2 471.2L874.8 468.2ZM419.2 351.2L420.2 352.2L429.2 355.2L438.8 354.8L445.8 356.2L443.8 354.8L437.2 352.2L425.8 353.2L421.8 351.2ZM338.2 300.2L333.2 303.8L332.8 307.2L330.2 308.8L328.8 310.8L325.2 324.8L325.2 327.8L327.2 336.2L332.8 343.2L342.2 347.8L346.8 349.2L360.8 349.8L363.8 347.8L365.2 343.8L365.2 339.2L370.2 333.8L371.2 323.8L368.2 322.2L365.2 319.2L361.8 314.2L350.8 302.8L342.2 300.2ZM314.8 274.8L315.2 275.8L322.8 280.2L330.8 287.8L330.2 286.2L324.2 279.2L316.2 274.8Z" fill="#2800aa" fill-rule="evenodd"/>
<path d="M763.8 770.8L762.8 771.2L761.2 774.2L761.2 776.2L765.2 774.8L765.2 772.8ZM779.8 733.2L777.8 736.2L777.8 738.8L781.2 737.2L781.2 734.8ZM911.8 584.2L908.8 584.2L906.8 586.8L900.2 586.8L899.2 587.8L897.8 593.2L895.8 595.2L892.2 595.8L890.8 596.8L888.8 613.8L887.2 616.8L884.2 629.2L873.2 646.2L861.2 660.8L856.2 670.8L854.2 677.8L854.2 693.8L852.8 700.2L850.8 703.2L850.8 705.8L848.2 714.2L844.2 721.8L844.8 731.2L841.8 736.8L838.2 740.8L832.2 751.8L822.2 765.8L821.2 765.8L810.8 751.8L810.2 749.2L813.8 732.2L812.2 727.2L812.2 724.2L816.2 711.8L818.2 709.8L822.8 707.8L823.2 702.8L824.8 700.2L826.8 679.8L826.8 673.2L825.8 671.2L826.8 661.8L825.2 658.8L825.2 639.8L826.2 631.8L825.2 621.8L822.2 613.8L818.2 610.2L807.2 605.8L804.8 603.2L801.8 602.8L799.2 604.8L797.2 609.8L795.2 622.8L797.2 643.8L800.2 655.2L799.2 666.2L808.2 666.8L813.8 669.8L815.2 671.2L810.2 689.8L803.2 704.2L801.8 711.8L797.8 715.8L790.2 748.2L780.8 767.2L776.2 779.8L776.8 783.8L765.8 799.2L756.8 809.2L755.8 813.2L754.8 814.2L752.8 813.2L750.2 813.2L747.2 815.8L746.2 818.2L748.2 819.2L745.2 820.8L745.8 822.8L754.8 822.8L754.8 819.8L756.2 818.8L756.2 816.2L757.8 815.2L760.8 817.2L767.8 819.2L768.8 820.2L768.8 823.2L784.2 823.2L785.2 818.8L798.8 802.8L813.8 787.8L842.8 747.8L849.8 734.8L852.2 732.2L855.8 731.2L857.8 728.8L861.8 720.2L864.2 713.2L864.2 711.2L868.2 707.2L872.2 696.2L879.2 682.2L886.8 671.2L907.2 647.8L908.8 649.8L909.2 653.8L911.8 653.2ZM802.8 619.8L810.8 623.2L813.8 625.8L817.2 646.2L817.2 654.8L816.2 655.8L810.8 657.2L807.8 657.2L806.8 655.8L803.8 643.8L800.8 625.8L801.2 621.8ZM561.8 513.8L561.8 515.2L568.2 524.8L578.8 530.8L586.2 532.8L588.2 532.2L589.2 530.2L589.2 526.2L582.8 519.2L570.2 511.8L565.2 511.8L563.2 512.2ZM874.8 468.8L862.2 470.2L861.8 471.2L865.8 484.8L870.8 488.2L872.8 488.2L879.2 483.8L882.2 476.8L882.2 474.2ZM338.2 301.2L334.2 304.2L333.8 306.8L329.2 311.2L325.8 326.8L327.8 335.2L330.8 340.2L333.2 342.8L345.8 347.8L360.8 347.8L361.8 346.8L360.8 341.8L360.8 335.2L365.2 330.2L366.8 323.8L363.8 320.8L359.2 313.8L348.8 302.8Z" fill="#4b0082" fill-rule="evenodd"/>
<path d="M754.2 820.2L746.2 820.2L745.8 822.8L754.2 822.8ZM747.8 816.8L747.8 817.8L749.2 818.8L754.2 818.8L755.8 817.2L755.8 815.2L750.8 814.2ZM911.8 584.2L908.8 584.8L908.2 588.2L906.2 589.8L903.2 589.8L901.8 591.2L899.8 596.2L898.2 597.8L895.8 598.2L894.8 599.2L892.2 614.2L889.8 618.2L885.8 632.2L875.8 646.8L861.8 663.2L855.8 677.2L855.8 690.8L853.8 700.2L851.8 702.8L850.8 708.8L848.2 716.2L846.2 718.8L844.8 723.2L845.8 731.8L836.8 747.2L822.2 767.8L819.8 765.8L809.2 750.8L809.2 748.2L812.8 731.8L811.2 727.2L811.8 723.2L815.8 711.2L820.2 708.8L821.8 706.8L821.8 703.8L823.8 700.2L824.8 695.8L826.2 674.2L824.8 671.8L825.8 661.8L823.8 658.8L822.8 622.8L821.2 616.2L818.8 613.2L804.8 607.8L803.2 604.2L801.2 604.8L799.8 608.2L797.2 620.8L797.2 628.8L799.2 643.2L803.2 660.8L803.2 664.2L808.2 665.2L814.8 668.8L816.2 670.2L816.2 672.8L814.2 677.8L811.8 689.2L804.8 703.2L802.8 711.8L798.8 716.2L791.8 747.8L785.8 758.2L777.8 779.2L778.2 785.8L768.2 798.8L756.8 811.2L756.8 814.2L768.8 818.2L769.8 819.2L769.2 823.2L783.8 823.2L784.2 820.8L782.2 819.8L781.8 818.2L811.8 787.2L838.8 749.8L847.8 733.8L849.8 731.8L855.2 730.2L857.2 727.8L860.2 721.2L863.2 712.2L863.2 710.2L867.2 707.2L870.8 696.8L878.8 678.8L885.8 669.2L903.2 648.8L908.2 643.8L911.2 642.8ZM801.2 617.8L802.8 617.8L812.8 622.8L816.2 626.2L819.2 646.8L819.2 655.8L817.2 657.2L809.2 659.2L807.2 659.2L805.8 657.2L803.8 650.8L799.8 628.2L799.8 621.8ZM565.8 515.8L566.8 520.8L568.2 523.2L571.2 525.8L581.2 530.2L585.8 530.8L587.2 529.2L587.8 526.8L581.2 520.2L570.2 514.2L568.2 514.2ZM865.8 470.8L863.8 472.8L863.8 476.8L866.2 484.2L868.8 486.2L872.2 487.2L879.2 482.2L880.8 477.8L880.8 474.8L878.8 472.2L874.8 469.8ZM347.2 303.8L341.8 302.8L338.8 303.2L336.8 304.2L330.8 310.8L326.8 326.2L326.8 329.2L330.2 337.2L334.2 339.8L341.8 339.8L346.8 338.8L347.8 334.8L353.2 333.8L355.8 330.2L360.2 326.2L361.2 324.2L360.8 319.8L358.2 315.2L352.8 308.8Z" fill="#8c00aa" fill-rule="evenodd" stroke="#000" stroke-width="0.8"/>
<path d="M753.8 822.8L753.8 820.8L752.8 820.2L745.8 821.2L746.2 822.8ZM748.8 817.8L753.2 818.2L754.8 817.2L754.8 815.2L751.2 815.2ZM804.8 610.8L802.2 610.8L801.8 614.8L804.8 617.2L814.8 622.2L818.2 625.2L821.2 646.2L821.2 656.8L818.8 658.8L811.8 660.2L807.2 662.2L808.8 664.2L816.2 668.2L817.8 669.8L817.8 671.2L815.2 677.8L812.2 691.2L805.8 703.8L803.2 713.2L799.8 717.2L792.8 748.8L786.8 758.2L779.2 778.8L779.8 787.2L767.8 801.8L757.2 812.2L757.2 813.8L764.8 815.2L774.2 818.8L775.8 820.2L810.8 785.2L821.2 770.8L820.8 768.2L808.2 751.2L808.2 747.2L811.2 733.2L811.2 722.2L814.8 711.8L819.8 708.2L820.8 703.2L823.8 697.8L825.8 676.8L825.2 673.8L823.8 671.8L824.8 661.8L821.8 656.8L821.8 641.2L819.2 616.8L817.8 615.2ZM911.8 584.8L910.2 584.8L909.2 585.8L909.2 589.8L908.2 591.8L904.8 594.2L903.2 597.2L898.2 602.8L895.8 614.8L891.2 622.8L888.2 633.2L878.2 647.2L864.2 662.8L859.2 672.2L857.2 677.2L856.8 692.8L854.8 700.2L852.2 703.8L849.2 715.8L845.8 722.8L846.2 728.8L847.2 731.2L854.2 729.8L857.8 724.8L861.8 713.2L862.2 709.8L865.8 706.8L869.2 696.2L873.8 687.2L874.2 682.2L877.2 676.8L880.8 672.2L885.2 668.2L888.2 663.2L906.8 642.2L906.8 637.8L907.8 636.8L908.8 637.2L911.8 636.2ZM569.2 518.8L569.2 520.8L575.2 524.8L581.2 527.8L585.2 527.8L583.8 525.8L579.2 522.8L570.2 518.2ZM867.2 471.8L864.8 475.2L865.8 481.8L867.2 484.2L870.8 486.2L872.2 486.2L877.8 482.8L879.2 478.2L879.2 475.2L876.8 472.2L874.8 471.2ZM347.8 307.2L342.8 305.8L336.8 308.2L334.2 311.2L328.2 327.2L328.2 329.8L330.8 334.8L331.8 335.2L340.2 333.8L341.8 330.2L343.2 328.8L353.2 326.2L356.8 324.2L357.8 320.8L357.2 317.2L354.8 313.8Z" fill="#c800d2" fill-rule="evenodd"/>
<path d="M746.2 821.2L746.8 822.8L753.2 822.8L753.8 821.8ZM822.2 660.2L819.8 660.2L812.8 663.8L813.2 665.2L818.8 668.8L818.8 671.2L816.2 677.8L813.8 690.8L806.8 704.2L804.8 712.2L800.8 718.2L793.8 749.8L789.2 755.2L787.8 758.2L783.2 772.8L780.2 780.2L781.8 788.2L771.2 800.2L758.2 812.8L758.8 813.2L763.2 813.2L766.8 814.8L769.8 814.8L792.2 792.8L799.8 792.2L806.8 784.8L817.8 768.2L816.8 764.2L806.8 749.8L810.2 732.8L809.8 724.8L814.2 711.2L818.8 707.8L819.2 704.2L822.8 697.8L823.8 693.8L824.8 674.2L822.8 671.8L823.8 662.2ZM814.8 619.8L815.8 621.2L817.8 621.8L817.2 619.8ZM911.8 614.8L908.8 616.2L908.8 636.2L911.8 635.8ZM905.8 603.8L902.8 607.2L900.2 612.2L898.8 618.2L896.2 620.8L893.2 625.8L891.8 632.2L890.2 635.2L879.2 649.8L865.2 664.2L860.8 672.8L858.2 679.8L857.8 693.8L855.8 700.2L853.2 703.2L849.2 717.8L846.8 722.2L846.8 726.8L847.8 729.8L853.8 728.8L855.8 726.2L860.8 712.8L860.8 709.2L864.2 705.8L867.2 696.2L869.8 693.2L871.8 688.8L872.2 685.8L871.2 683.2L874.8 676.2L880.8 669.2L883.8 668.2L885.8 665.8L886.8 662.2L898.8 649.2L905.8 640.2ZM867.8 473.2L865.8 475.8L866.2 481.2L867.2 483.2L869.2 484.8L872.8 485.2L877.2 481.8L877.8 475.8L876.2 473.8L874.2 472.8ZM354.2 316.2L351.2 313.2L345.2 309.2L342.8 309.2L339.2 310.8L336.8 314.8L336.2 318.8L329.8 328.8L330.2 331.2L331.8 332.8L335.8 332.2L341.8 325.8L353.2 321.8L354.8 320.2Z" fill="#ff00ff" fill-rule="evenodd"/>
<path d="M822.2 662.2L820.2 662.2L817.2 664.2L817.8 666.2L820.2 668.2L820.2 670.2L817.2 678.2L815.2 690.2L807.8 704.8L805.2 713.8L802.2 717.8L798.2 733.2L795.8 747.8L793.8 751.8L789.2 757.2L781.8 779.8L783.8 789.8L797.8 789.8L803.8 782.8L810.8 770.2L814.8 764.8L813.2 760.8L806.8 752.2L805.8 748.8L809.2 731.8L809.2 723.8L813.2 711.8L814.8 709.8L816.8 708.8L817.2 706.2L822.2 696.8L823.2 692.8L824.2 675.2L821.8 671.8L821.8 668.2L822.8 665.8ZM903.8 620.8L902.8 621.2L901.2 624.2L898.8 624.2L895.2 628.8L893.8 634.8L888.2 642.8L877.8 654.8L866.8 665.2L859.8 679.2L858.8 694.2L855.8 702.2L853.8 703.8L851.2 714.2L847.8 721.8L847.2 724.8L847.8 727.8L848.8 728.8L853.2 727.8L856.2 722.8L859.8 712.2L859.8 708.2L862.8 704.8L865.8 695.2L868.8 692.2L870.2 689.2L870.8 686.2L869.2 684.2L869.2 681.8L873.2 674.2L879.2 667.8L881.8 667.8L885.2 664.2L885.2 661.2L895.8 650.2L904.2 639.8L905.2 636.8L903.8 628.2ZM911.8 616.2L909.8 616.8L909.2 617.8L908.8 635.8L911.8 635.2ZM874.2 474.2L868.2 474.8L866.8 476.2L867.2 482.2L870.8 484.8L873.8 483.8L876.2 481.2L876.2 476.8ZM351.8 316.8L344.8 312.2L341.8 313.2L340.8 314.8L339.8 321.2L336.8 323.8L332.2 329.8L333.2 329.8L338.8 323.8L351.8 317.8Z" fill="#ff50ff" fill-rule="evenodd" stroke="#000" stroke-width="0.8"/>
<path d="M821.2 672.8L820.2 673.2L818.2 678.2L816.2 690.8L808.8 705.2L806.2 713.8L803.8 717.2L796.2 750.2L791.8 755.2L789.2 759.8L786.2 771.8L783.2 779.2L784.2 786.8L785.8 787.8L795.2 787.8L802.2 778.2L806.8 768.2L811.2 762.2L810.2 758.2L804.8 750.8L804.8 747.8L806.8 735.8L808.2 731.2L807.8 726.8L812.2 712.2L815.8 708.2L822.8 691.8L823.8 675.8ZM911.8 629.8L909.2 630.2L909.2 635.2L911.8 634.8ZM902.2 629.2L898.8 629.8L895.8 636.8L890.8 643.8L880.2 655.2L868.2 666.2L861.2 679.2L859.8 694.8L857.2 701.8L854.2 704.8L852.2 713.2L848.2 723.2L848.2 725.8L849.2 727.8L852.2 727.2L853.8 725.8L858.8 711.8L858.8 707.2L860.2 705.8L864.2 694.2L868.2 690.8L869.2 688.2L869.2 686.8L866.8 683.2L868.2 678.2L871.8 672.2L877.8 666.2L881.8 666.2L883.8 664.2L883.8 660.2L895.8 647.8L904.2 636.2L903.2 630.2ZM868.2 476.2L868.2 482.2L870.2 483.8L873.8 482.8L874.8 481.8L874.2 476.2Z" fill="#ffaaff" fill-rule="evenodd"/>
<path d="M821.8 674.2L820.2 675.2L819.2 678.2L816.8 692.8L808.8 708.2L806.8 715.2L803.8 721.2L797.8 749.8L790.2 759.8L787.2 772.8L784.8 778.8L784.8 782.8L785.8 785.2L791.8 785.8L794.2 784.2L799.2 775.8L802.2 766.8L808.2 758.2L806.8 754.8L803.8 750.8L803.8 746.8L805.8 735.2L807.2 730.8L807.8 723.2L811.8 711.8L814.2 708.8L822.2 691.2L822.8 675.2ZM902.8 633.2L899.2 635.2L897.8 638.8L893.2 644.8L878.2 660.2L868.8 668.8L862.8 679.8L861.2 694.2L858.2 702.2L854.8 705.8L852.2 715.8L849.2 722.8L849.8 726.2L851.8 726.2L852.8 725.2L854.8 720.8L857.8 711.2L857.2 707.8L861.8 694.8L866.8 690.8L867.8 688.8L867.2 686.2L864.2 682.2L865.8 677.8L870.2 670.2L875.2 665.2L880.8 665.2L882.2 664.2L882.8 658.2L894.8 646.2L902.2 636.2ZM911.8 630.8L909.8 631.2L909.8 634.8L911.8 634.2ZM869.8 477.2L868.8 477.8L868.2 480.2L870.2 482.8L871.8 482.8L873.8 481.2L873.8 479.8L872.2 477.8Z" fill="#ffffff" fill-rule="evenodd"/>
</g>
<path d="M619.2 78.2L620.8 79.8L622.2 82.8L623.8 83.8L635.8 86.8L648.8 92.2L664.2 96.2L674.2 102.8L676.8 103.8L682.8 104.8L689.2 106.8L691.2 106.8L699.8 109.2L715.8 108.2L724.2 111.2L725.2 112.2L726.2 121.8L730.2 129.2L740.2 134.2L750.8 135.2L761.8 138.8L770.2 146.8L765.8 153.8L754.8 162.2L751.2 168.2L763.2 166.8L763.8 166.2L777.8 165.2L778.2 164.8L800.2 164.8L800.8 164.2L812.2 163.8L812.8 163.2L815.8 163.2L824.8 159.8L833.2 164.8L841.2 161.8L850.8 154.2L855.8 151.8L835.2 142.8L828.8 140.8L815.2 138.2L810.2 133.2L812.8 127.2L804.2 124.2L795.2 122.2L786.2 117.8L780.2 116.8L775.2 111.8L765.2 108.2L761.2 102.8L736.2 78.2Z" fill="#ffa500" fill-rule="evenodd"/>
<path d="M619.2 78.2L622.2 82.8L623.8 83.8L635.8 86.8L648.8 92.2L664.2 96.2L676.8 103.8L699.8 109.2L715.8 108.2L724.2 111.2L725.2 112.2L725.2 114.2L727.2 115.8L727.2 118.8L730.8 128.8L732.2 130.2L740.2 134.2L750.8 135.2L761.8 138.8L770.2 146.8L765.8 153.8L754.8 162.2L751.2 168.2L762.2 166.8L762.2 165.8L763.8 164.8L771.8 163.8L773.2 162.8L776.8 164.8L795.2 163.8L798.2 161.8L801.8 161.8L804.8 160.8L814.2 161.2L823.2 158.2L828.8 158.8L831.2 157.8L832.8 158.2L832.8 159.2L836.2 163.8L841.2 161.8L845.2 158.8L850.8 149.2L830.8 141.2L815.2 138.2L810.2 133.2L812.8 127.2L804.2 124.2L795.2 122.2L786.2 117.8L780.2 116.8L775.2 111.8L765.2 108.2L761.2 102.8L736.2 78.2Z" fill="#ffff00" fill-rule="evenodd"/>
<path d="M842.8 155.8L840.2 155.8L833.8 158.2L833.8 159.8L836.2 163.2L839.2 162.8L843.2 160.2ZM730.8 117.8L730.8 120.8L735.8 129.2L740.2 132.8L753.2 135.8L762.8 128.8L775.8 136.2L780.8 136.2L790.8 140.2L791.2 144.8L789.8 150.2L786.8 152.8L775.8 158.2L774.8 160.8L776.2 162.8L793.2 162.8L794.2 161.8L794.8 159.2L796.2 157.8L799.2 157.2L804.2 154.8L813.2 156.2L820.8 154.2L830.2 156.8L843.2 153.2L845.8 151.8L844.2 150.2L827.2 141.2L822.8 142.2L807.2 133.8L799.8 131.2L794.2 128.2L785.8 125.8L781.2 120.8L766.2 114.8L762.8 115.2L759.8 112.2L750.2 108.2L746.2 108.2L735.8 110.2L733.2 112.2ZM666.8 84.2L668.2 90.2L672.2 93.8L702.2 104.2L707.2 103.8L711.2 101.2L714.2 97.2L714.2 90.8L712.8 87.2L709.8 84.8L700.8 80.8L699.2 78.2L698.2 78.2L696.8 80.2L693.8 80.2L690.8 78.2L675.2 78.2L669.8 81.2Z" fill="#a8fa50" fill-rule="evenodd" stroke="#000" stroke-width="0.8"/>
<path d="M842.2 156.2L834.2 158.2L836.8 163.2L839.2 162.8L842.8 160.2ZM776.2 160.2L777.2 161.2L791.2 161.8L792.8 160.2L794.8 154.2L796.2 152.8L804.2 148.8L813.2 150.8L820.2 150.8L826.2 151.8L831.8 154.2L838.2 153.2L841.2 152.2L841.8 151.2L828.8 144.2L826.2 144.2L819.8 146.8L816.2 146.8L807.8 144.2L802.2 141.8L799.2 141.8L795.8 143.8L793.8 150.8L788.2 155.8L778.2 157.8L776.2 159.2ZM737.8 116.2L737.8 118.2L744.2 123.8L751.8 127.2L754.8 125.8L754.8 121.2L750.2 118.2L740.8 114.8L739.2 114.8ZM675.2 86.2L675.8 88.2L700.2 96.8L702.8 96.2L703.8 94.8L703.2 92.2L698.8 89.8L679.2 84.8L676.2 84.8Z" fill="#50faaa" fill-rule="evenodd"/>
<path d="M790.8 158.2L778.2 159.2L790.2 160.2ZM841.8 156.8L834.8 159.2L837.8 163.2L842.2 160.8ZM825.8 148.2L828.8 148.8L835.8 152.2L837.8 151.8L836.8 150.2L829.2 146.8Z" fill="#00ffff" fill-rule="evenodd"/>
<path d="M536.8 97.8L542.8 95.2L548.2 95.8L550.8 97.2L551.8 101.2L556.2 98.2L563.2 95.2L569.2 89.8L583.8 85.8L599.8 79.2L608.8 78.2L553.2 78.2L553.2 83.8L551.8 89.2L546.8 93.2L536.8 96.8Z" fill="#ffa500" fill-rule="evenodd"/>
<path d="M579.8 86.8L573.8 86.8L560.8 91.2L554.8 91.8L550.2 94.8L543.2 94.2L536.8 96.8L536.8 97.8L542.8 95.2L548.2 95.8L550.8 97.2L551.8 101.2L556.2 98.2L563.2 95.2L568.2 90.2Z" fill="#ffff00" fill-rule="evenodd"/>
<path d="M732.8 219.2L737.8 226.2L746.2 230.2L762.8 241.2L770.2 239.8L775.2 236.2L780.8 236.8L781.2 237.2L792.8 236.2L795.8 231.8L789.8 226.2L780.8 221.8L770.8 219.8L766.2 218.2L748.8 216.8L748.2 216.2L740.2 215.2Z" fill="#ffff00" fill-rule="evenodd"/>
<path d="M746.2 226.2L746.2 227.8L747.8 229.2L762.8 236.2L770.8 236.2L782.8 234.8L786.2 232.8L786.8 229.2L785.8 227.2L779.2 223.8L768.2 222.2L766.8 220.8L760.2 219.8L758.8 220.8L753.8 219.8L748.2 219.8Z" fill="#a8fa50" fill-rule="evenodd" stroke="#000" stroke-width="0.8"/>
<path d="M748.8 226.2L751.2 228.8L763.2 232.8L782.2 232.8L784.8 231.2L784.8 228.8L782.8 227.2L777.2 225.8L768.2 224.8L764.2 221.2L760.8 221.2L757.8 223.2L750.2 222.2Z" fill="#50faaa" fill-rule="evenodd"/>
<path d="M751.8 225.2L752.2 226.8L763.2 229.2L782.8 230.2L782.8 229.2L767.8 227.2L763.2 222.2L761.2 222.2L757.8 225.2Z" fill="#00ffff" fill-rule="evenodd"/>
<path d="M760.2 225.2L764.2 225.8L763.2 223.8L761.8 223.8Z" fill="#00a0ff" fill-rule="evenodd" stroke="#000" stroke-width="0.8"/>
<path d="M846.2 210.2L846.2 216.2L849.2 219.2L859.2 226.8L867.2 229.8L868.2 229.8L877.8 224.8L887.8 225.8L888.2 226.2L897.8 226.8L898.2 227.2L901.2 227.2L911.8 225.2L911.8 213.8L898.2 215.2L897.8 215.8L887.2 216.2L886.8 215.8L877.8 215.2L865.2 208.8L854.8 207.2ZM890.2 160.2L896.2 163.8L897.2 176.2L896.8 176.8L895.8 187.2L898.8 195.8L905.8 204.2L911.8 206.2L911.8 160.2Z" fill="#ffff00" fill-rule="evenodd"/>
<path d="M852.2 216.2L852.2 218.2L853.8 219.8L861.2 223.8L872.2 223.2L877.2 221.2L911.8 221.2L911.8 217.8L892.2 218.8L883.8 218.2L878.8 217.2L874.2 214.2L866.2 211.8L854.2 211.8L853.2 212.8ZM899.8 160.2L900.2 162.8L898.2 163.2L897.8 164.8L901.2 172.8L901.2 185.2L902.2 189.8L906.8 200.8L911.8 202.8L911.8 160.2Z" fill="#a8fa50" fill-rule="evenodd" stroke="#000" stroke-width="0.8"/>
<path d="M853.8 216.8L855.2 218.8L864.8 221.8L871.2 221.2L875.8 219.2L871.8 216.2L860.8 213.8L855.2 213.8ZM904.8 166.2L904.2 167.8L905.8 174.2L906.8 185.8L909.2 198.2L910.8 199.2L911.2 197.2L910.2 193.2L907.8 166.8ZM900.8 160.2L900.8 161.2L908.2 162.2L908.2 160.2Z" fill="#50faaa" fill-rule="evenodd"/>
<path d="M855.8 216.2L856.2 217.2L866.8 219.8L869.2 219.2L868.8 218.2L857.8 215.8Z" fill="#00ffff" fill-rule="evenodd"/>
<path d="M890.2 119.2L885.2 116.8L876.8 122.2L862.8 126.8L866.8 132.2L868.2 133.2L877.2 129.2L887.8 126.8Z" fill="#ff0000" fill-rule="evenodd"/>
<path d="M890.2 119.2L885.2 116.8L876.8 122.2L862.8 126.8L868.2 133.2L877.2 129.2L887.8 126.8Z" fill="#ff5a00" fill-rule="evenodd" stroke="#000" stroke-width="0.8"/>
<path d="M890.2 119.2L885.2 116.8L883.8 117.8L885.2 117.2L887.8 119.2L888.2 121.8L887.2 122.8L884.8 121.8L882.8 119.8L882.8 118.2L876.8 122.2L862.8 126.8L868.2 133.2L877.2 129.2L887.8 126.8Z" fill="#ffa500" fill-rule="evenodd"/>
<path d="M884.8 122.8L881.2 120.8L874.8 123.2L874.8 125.2L875.8 126.8L884.2 124.2Z" fill="#ffff00" fill-rule="evenodd"/>
<path d="M591.2 96.8L592.8 101.8L596.2 104.2L594.2 110.2L600.2 113.2L606.2 108.2L607.2 100.2L600.2 94.8Z" fill="#ff5a00" fill-rule="evenodd"/>
<path d="M526.7 450.0 C527.2 448.8 529.8 447.7 530.8 448.3 C531.8 449.0 535.7 455.2 536.7 456.7 C537.7 458.2 540.3 462.0 540.8 463.3 C541.3 464.7 542.2 469.5 541.7 470.0 C541.1 470.5 536.3 468.7 535.0 468.3 C533.7 468.0 529.2 467.5 528.3 466.7 C527.4 465.8 526.0 461.7 525.8 460.0 C525.7 458.3 526.2 451.2 526.7 450.0 Z" fill="#ff0000" stroke="#000" stroke-width="1.5"/>
<path d="M488.3 425.0 C488.9 423.8 492.8 421.7 495.0 421.7 C497.2 421.7 500.1 423.5 501.7 425.0 C503.2 426.5 504.7 429.6 504.2 430.8 C503.6 432.1 500.4 432.8 498.3 432.5 C496.2 432.2 493.3 430.4 491.7 429.2 C490.0 427.9 487.8 426.2 488.3 425.0 Z" fill="#ff5a00" stroke="#000" stroke-width="1.5"/>
<path d="M406.7 318.3 C407.2 317.4 410.0 315.8 411.7 315.8 C413.3 315.8 416.4 317.4 416.7 318.3 C416.9 319.2 414.7 320.8 413.3 321.3 C412.0 321.8 409.8 321.8 408.7 321.3 C407.6 320.8 406.2 319.2 406.7 318.3 Z" fill="#ff0000" stroke="#000" stroke-width="1.5"/>
<polygon points="371.7,280.0 386.7,280.0 382.5,290.0 376.7,286.7 372.5,284.2" fill="#ff0000" stroke="#000" stroke-width="2"/>
<path d="M362.5 283.0 C363.2 282.4 364.9 282.9 365.3 284.2 C365.8 285.5 365.5 289.6 365.0 290.8 C364.5 292.1 363.1 292.2 362.5 291.7 C361.9 291.1 361.3 288.9 361.3 287.5 C361.3 286.1 361.8 283.6 362.5 283.0 Z" fill="#ff0000" stroke="#000" stroke-width="1"/>
<path d="M285.0 219.0 L290.0 217.7 L300.0 215.0 L310.0 210.0 L320.0 208.5 L330.0 209.0 L340.0 205.0 L350.0 201.5 L357.5 193.0 L365.0 179.0 L367.5 169.0 L372.5 154.0 L373.7 136.5 L376.0 129.0 L385.0 124.0 L390.0 121.5 L410.0 116.5 L430.0 110.0 L452.5 109.0 L465.0 110.0 L475.0 107.0 L481.0 114.0 L484.0 126.5 L481.0 136.5 L476.0 145.0 L470.0 151.5 L465.0 159.0 L462.5 166.5 L457.5 174.0 L460.0 181.5 L462.5 189.0 L460.0 196.5 L457.5 204.0 L454.0 211.5 L450.0 215.0 L447.0 222.0 L446.0 229.0 L442.5 239.0 L440.0 249.0 L437.5 259.0 L437.5 269.0 L435.0 276.5 L433.0 283.0 L423.0 293.0 L418.0 300.0 L422.0 303.0 L430.0 305.0 L440.0 307.0 L450.0 305.0 L465.0 307.0 L478.0 307.0 L490.0 306.5 L500.0 304.0 L520.0 305.0 L540.0 308.0 L556.0 316.0 L564.0 320.0 L580.0 328.0 L588.0 336.0 L591.0 348.0 L590.0 360.0 L584.0 376.0 L580.0 392.0 L578.0 412.0 L574.0 432.0 L575.0 425.0 L572.5 445.0 L570.0 460.0 L575.0 475.0 L580.0 485.0 L585.0 495.0 L592.5 505.0 L600.0 517.5 L610.0 527.5 L620.0 535.0 L630.0 540.0 L642.5 547.5 L655.0 546.2 L665.0 542.5 L677.5 536.2 L685.0 530.0 L695.0 522.5 L700.0 520.0 L710.0 522.5 L725.0 527.5 L735.0 530.0 L745.0 536.2 L755.0 545.0 L762.5 552.5 L767.5 560.0 L775.0 557.5 L780.0 550.0 L790.0 545.0 L797.5 535.0 L802.5 527.5 L810.0 525.0 L812.5 510.0 L810.0 500.0 L817.5 492.5 L820.0 485.0 L827.5 477.5 L835.0 467.5 L847.5 472.5 L852.5 470.0 L860.0 460.0 L855.0 467.5 L857.5 462.5 L870.0 461.2 L880.0 462.5 L890.0 457.5 L900.0 450.0 L915.0 442.5" fill="none" stroke="#000" stroke-width="2.2" stroke-linejoin="round"/>
<path d="M707.5 822.0 L710.0 815.0 L712.5 807.5 L717.5 800.0 L712.5 792.5 L720.0 787.5 L726.0 782.5 L722.5 777.5 L725.0 770.0 L732.5 765.0 L737.5 762.5 L745.0 760.0 L750.0 752.5 L755.0 747.5 L760.0 740.0 L765.0 730.0 L767.5 714.0 L762.5 699.0 L765.0 684.0 L762.5 669.0 L757.5 661.5 L765.0 651.5 L762.5 639.0 L757.5 629.0 L757.5 625.0 L752.5 612.5 L747.5 600.0 L740.0 595.0 L735.0 585.0 L730.0 575.0 L725.0 565.0 L720.0 555.0 L712.5 550.0 L702.5 545.0 L692.5 550.0 L690.0 560.0 L680.0 565.0 L670.0 572.5 L680.0 585.0 L682.5 592.5 L670.0 597.5 L660.0 600.0 L652.5 592.5 L647.5 585.0 L637.5 580.0 L632.5 570.0 L620.0 566.0 L614.0 570.0 L605.0 567.5 L597.5 572.5 L592.5 560.0 L587.5 552.5 L582.5 560.0 L575.0 555.0 L570.0 542.5 L562.0 530.0 L552.0 525.0 L537.5 521.5 L530.0 519.0 L522.5 514.0 L515.0 504.0 L512.5 494.0 L515.0 484.0 L512.5 474.0 L510.0 464.0 L502.5 451.5 L490.0 436.5 L475.0 419.0 L465.0 409.0 L460.0 404.0 L462.5 399.0 L455.0 394.0 L445.0 396.5 L430.0 395.0 L415.0 389.0 L400.0 384.0 L390.0 379.0 L372.5 371.5 L353.0 372.0 L340.0 363.0 L323.0 348.0 L306.7 330.0 L290.0 313.0 L285.0 308.0" fill="none" stroke="#000" stroke-width="2.2" stroke-linejoin="round"/>
<path d="M620.0 79.0 L622.5 82.8 L635.0 86.5 L647.5 91.5 L665.0 96.5 L675.0 102.8 L690.0 106.5 L700.0 109.0 L715.0 107.8 L725.0 111.5 L726.2 121.5 L730.0 129.0 L740.0 134.0 L750.0 135.2 L762.5 139.0 L770.0 146.5 L765.0 154.0 L755.0 161.5 L751.2 167.8 L765.0 165.8 L780.0 164.5 L797.5 164.5 L815.0 163.2 L825.0 159.5 L832.5 164.5 L840.0 162.0 L850.0 154.5 L855.5 151.5 L850.0 149.0 L840.0 144.5 L830.0 140.8 L815.0 138.2 L810.0 133.2 L812.5 127.0 L805.0 124.5 L795.0 122.0 L787.5 118.2 L780.0 116.5 L775.0 111.5 L765.0 107.8 L760.0 101.5 L752.5 94.0 L745.0 86.5 L737.5 79.0 L730.0 74.0 L615.0 74.0 Z" fill="none" stroke="#000" stroke-width="2.0" stroke-linejoin="round"/>
<path d="M536.7 97.5 L543.0 95.0 L550.0 96.0 L551.7 101.0 L557.0 97.5 L563.0 95.0 L568.0 90.0 L575.0 88.0 L583.0 85.5 L592.0 82.0 L600.0 79.0 L625.0 76.0 L553.0 76.0 L553.0 82.3 L551.7 89.0 L546.7 93.0 L536.7 96.3 Z" fill="none" stroke="#000" stroke-width="2.0" stroke-linejoin="round"/>
<path d="M732.5 219.0 L740.0 215.2 L750.0 216.5 L765.0 217.8 L780.0 221.5 L790.0 226.5 L795.5 231.5 L792.5 235.8 L782.5 237.0 L775.0 235.8 L770.0 239.5 L762.5 240.8 L752.5 234.5 L745.0 229.5 L737.5 225.8 Z" fill="none" stroke="#000" stroke-width="2.0" stroke-linejoin="round"/>
<path d="M846.2 210.2 L855.0 207.2 L865.0 208.5 L877.5 214.8 L890.0 216.0 L900.0 214.8 L915.0 213.5 L915.0 225.2 L900.0 227.0 L890.0 225.8 L877.5 224.5 L867.5 229.5 L860.0 227.0 L852.5 222.0 L846.2 215.8 Z" fill="none" stroke="#000" stroke-width="2.0" stroke-linejoin="round"/>
<path d="M890.0 160.2 L896.2 163.5 L897.0 174.0 L895.5 186.5 L899.2 196.5 L905.5 204.0 L915.0 207.0 L915.0 160.2 Z" fill="none" stroke="#000" stroke-width="2.0" stroke-linejoin="round"/>
<path d="M862.5 126.5 L870.0 124.0 L877.5 121.5 L885.0 116.5 L890.0 119.0 L887.5 126.5 L877.5 129.0 L867.5 132.8 Z" fill="none" stroke="#000" stroke-width="2.0" stroke-linejoin="round"/>
<path d="M591.2 96.5 L600.0 94.5 L607.0 100.2 L606.2 107.8 L600.0 112.8 L593.8 110.2 L596.2 104.0 L592.5 101.5 Z" fill="none" stroke="#000" stroke-width="2.0" stroke-linejoin="round"/>
<path d="M412.5 301.7 L412.5 237.5 L359.2 237.5 L359.2 255.8 L345.0 257.5 L347.5 260.0 L356.7 268.0 L363.0 275.0 L368.0 281.7 L375.0 286.7 L375.0 298.0 L335.0 298.0 L325.0 323.0 L323.0 346.7" fill="none" stroke="#000" stroke-width="3" stroke-linejoin="round"/>
<path d="M412.5 237.7 L415.0 231.5 L420.0 235.0 L430.0 221.5 L440.0 214.0" fill="none" stroke="#000" stroke-width="3" stroke-linejoin="round"/>
<path d="M445.0 308.0 L440.0 311.7 L430.0 320.0 L420.0 328.0 L411.7 336.7 L413.0 346.7 L406.7 353.0 L400.0 356.7 L396.7 363.0 L390.0 368.0 L384.0 373.0" fill="none" stroke="#000" stroke-width="3" stroke-linejoin="round"/>
<path d="M406.7 353.0 L420.0 358.0 L428.0 368.0 L436.7 373.0 L443.0 368.0 L452.0 378.0 L461.7 390.0 L470.0 391.7 L478.0 396.7 L481.7 393.0" fill="none" stroke="#000" stroke-width="3" stroke-linejoin="round"/>
<path d="M458.0 405.0 L470.0 405.0 L478.0 403.0 L481.7 393.0 L484.0 378.0 L493.0 376.7 L503.0 368.0 L506.7 371.7 L513.0 373.0 L526.7 360.0 L531.7 350.0 L536.7 340.0 L546.7 345.0 L556.7 343.0 L570.0 340.0 L580.0 335.0 L588.0 335.0" fill="none" stroke="#000" stroke-width="3" stroke-linejoin="round"/>
<path d="M526.7 468.0 L533.0 471.7 L540.0 473.0 L546.7 470.0 L553.0 473.0 L560.0 480.0 L566.7 481.7 L573.0 480.0 L576.7 478.0" fill="none" stroke="#000" stroke-width="3" stroke-linejoin="round"/>
<path d="M597.0 518.0 L596.0 530.0 L596.0 545.0 L598.0 560.0 L598.0 572.0" fill="none" stroke="#000" stroke-width="3" stroke-linejoin="round"/>
<path d="M760.0 555.0 L762.5 563.0 L765.0 573.0 L764.0 580.0 L760.0 586.7 L753.0 588.0 L750.0 590.0 L748.0 596.7 L745.0 600.0" fill="none" stroke="#000" stroke-width="3" stroke-linejoin="round"/>
<path d="M908.0 468.0 L896.7 483.0 L891.7 495.0 L893.0 503.0 L888.0 518.0 L883.0 530.0 L878.0 536.7" fill="none" stroke="#000" stroke-width="3" stroke-linejoin="round"/>
<path d="M883.0 530.0 L893.0 526.7 L896.7 540.0 L903.0 553.0 L908.0 563.0" fill="none" stroke="#000" stroke-width="3" stroke-linejoin="round"/>
<path d="M717.5 800.0 L740.0 821.0" fill="none" stroke="#000" stroke-width="3.5" stroke-linejoin="round"/>
<path d="M301.7 290.8 L306.7 287.5 L305.0 293.3 L311.7 295.8 L310.0 300.0 L318.3 298.3 L321.7 303.3 L330.0 304.2 L335.0 306.7" fill="none" stroke="#000" stroke-width="3" stroke-linejoin="round"/>
<g stroke="#c4c4c4" stroke-width="1" stroke-dasharray="2 7.9"><line x1="328.0" y1="84" x2="328.0" y2="820"/><line x1="387.2" y1="84" x2="387.2" y2="820"/><line x1="446.4" y1="84" x2="446.4" y2="820"/><line x1="505.6" y1="84" x2="505.6" y2="820"/><line x1="564.8" y1="84" x2="564.8" y2="820"/><line x1="624.0" y1="84" x2="624.0" y2="820"/><line x1="683.2" y1="84" x2="683.2" y2="820"/><line x1="742.4" y1="84" x2="742.4" y2="820"/><line x1="801.6" y1="84" x2="801.6" y2="820"/><line x1="860.8" y1="84" x2="860.8" y2="820"/><line x1="293" y1="94.5" x2="908" y2="94.5"/><line x1="293" y1="163.3" x2="908" y2="163.3"/><line x1="293" y1="232.1" x2="908" y2="232.1"/><line x1="293" y1="300.9" x2="908" y2="300.9"/><line x1="293" y1="369.7" x2="908" y2="369.7"/><line x1="293" y1="438.5" x2="908" y2="438.5"/><line x1="293" y1="507.3" x2="908" y2="507.3"/><line x1="293" y1="576.1" x2="908" y2="576.1"/><line x1="293" y1="644.9" x2="908" y2="644.9"/><line x1="293" y1="713.7" x2="908" y2="713.7"/><line x1="293" y1="782.5" x2="908" y2="782.5"/></g>
<rect x="387.5" y="107.5" width="21" height="17" fill="#fff"/>
<text class="lb" x="398.0" y="122.0" text-anchor="middle" textLength="17.0" lengthAdjust="spacingAndGlyphs">27</text>
<rect x="757.5" y="116.5" width="21" height="17" fill="#fff"/>
<text class="lb" x="768.0" y="131.0" text-anchor="middle" textLength="17.0" lengthAdjust="spacingAndGlyphs">24</text>
<rect x="835.5" y="153.5" width="21" height="17" fill="#fff"/>
<text class="lb" x="846.0" y="168.0" text-anchor="middle" textLength="17.0" lengthAdjust="spacingAndGlyphs">27</text>
<rect x="873.5" y="164.5" width="21" height="17" fill="#fff"/>
<text class="lb" x="884.0" y="179.0" text-anchor="middle" textLength="17.0" lengthAdjust="spacingAndGlyphs">27</text>
<rect x="432.5" y="194.5" width="21" height="17" fill="#fff"/>
<text class="lb" x="443.0" y="209.0" text-anchor="middle" textLength="17.0" lengthAdjust="spacingAndGlyphs">27</text>
<rect x="746.5" y="202.5" width="21" height="17" fill="#fff"/>
<text class="lb" x="757.0" y="217.0" text-anchor="middle" textLength="17.0" lengthAdjust="spacingAndGlyphs">27</text>
<rect x="299.5" y="248.5" width="21" height="17" fill="#fff"/>
<text class="lb" x="310.0" y="263.0" text-anchor="middle" textLength="17.0" lengthAdjust="spacingAndGlyphs">21</text>
<rect x="395.5" y="299.5" width="21" height="17" fill="#fff"/>
<text class="lb" x="406.0" y="314.0" text-anchor="middle" textLength="17.0" lengthAdjust="spacingAndGlyphs">24</text>
<rect x="483.5" y="317.5" width="21" height="17" fill="#fff"/>
<text class="lb" x="494.0" y="332.0" text-anchor="middle" textLength="17.0" lengthAdjust="spacingAndGlyphs">21</text>
<rect x="567.5" y="317.5" width="21" height="17" fill="#fff"/>
<text class="lb" x="578.0" y="332.0" text-anchor="middle" textLength="17.0" lengthAdjust="spacingAndGlyphs">27</text>
<rect x="359.5" y="342.5" width="21" height="17" fill="#fff"/>
<text class="lb" x="370.0" y="357.0" text-anchor="middle" textLength="17.0" lengthAdjust="spacingAndGlyphs">18</text>
<rect x="388.5" y="369.5" width="21" height="17" fill="#fff"/>
<text class="lb" x="399.0" y="384.0" text-anchor="middle" textLength="17.0" lengthAdjust="spacingAndGlyphs">21</text>
<rect x="372.5" y="371.5" width="21" height="17" fill="#fff"/>
<text class="lb" x="383.0" y="386.0" text-anchor="middle" textLength="17.0" lengthAdjust="spacingAndGlyphs">27</text>
<rect x="439.5" y="374.5" width="21" height="17" fill="#fff"/>
<text class="lb" x="450.0" y="389.0" text-anchor="middle" textLength="17.0" lengthAdjust="spacingAndGlyphs">24</text>
<rect x="547.5" y="404.5" width="21" height="17" fill="#fff"/>
<text class="lb" x="558.0" y="419.0" text-anchor="middle" textLength="17.0" lengthAdjust="spacingAndGlyphs">24</text>
<rect x="503.5" y="452.5" width="21" height="17" fill="#fff"/>
<text class="lb" x="514.0" y="467.0" text-anchor="middle" textLength="17.0" lengthAdjust="spacingAndGlyphs">24</text>
<rect x="459.5" y="476.5" width="21" height="17" fill="#fff"/>
<text class="lb" x="470.0" y="491.0" text-anchor="middle" textLength="17.0" lengthAdjust="spacingAndGlyphs">27</text>
<rect x="419.5" y="534.5" width="21" height="17" fill="#fff"/>
<text class="lb" x="430.0" y="549.0" text-anchor="middle" textLength="17.0" lengthAdjust="spacingAndGlyphs">27</text>
<rect x="595.5" y="541.0" width="21" height="17" fill="#fff"/>
<text class="lb" x="606.0" y="555.5" text-anchor="middle" textLength="17.0" lengthAdjust="spacingAndGlyphs">18</text>
<rect x="619.5" y="542.8" width="21" height="17" fill="#fff"/>
<text class="lb" x="630.0" y="557.3" text-anchor="middle" textLength="17.0" lengthAdjust="spacingAndGlyphs">21</text>
<rect x="628.0" y="561.8" width="21" height="17" fill="#fff"/>
<text class="lb" x="638.5" y="576.3" text-anchor="middle" textLength="17.0" lengthAdjust="spacingAndGlyphs">24</text>
<rect x="695.5" y="533.5" width="21" height="17" fill="#fff"/>
<text class="lb" x="706.0" y="548.0" text-anchor="middle" textLength="17.0" lengthAdjust="spacingAndGlyphs">27</text>
<rect x="710.5" y="517.5" width="21" height="17" fill="#fff"/>
<text class="lb" x="721.0" y="532.0" text-anchor="middle" textLength="17.0" lengthAdjust="spacingAndGlyphs">24</text>
<rect x="611.5" y="601.5" width="21" height="17" fill="#fff"/>
<text class="lb" x="622.0" y="616.0" text-anchor="middle" textLength="17.0" lengthAdjust="spacingAndGlyphs">27</text>
<rect x="766.5" y="568.5" width="21" height="17" fill="#fff"/>
<text class="lb" x="777.0" y="583.0" text-anchor="middle" textLength="17.0" lengthAdjust="spacingAndGlyphs">27</text>
<rect x="878.5" y="508.5" width="21" height="17" fill="#fff"/>
<text class="lb" x="889.0" y="523.0" text-anchor="middle" textLength="17.0" lengthAdjust="spacingAndGlyphs">24</text>
<rect x="814.5" y="548.5" width="21" height="17" fill="#fff"/>
<text class="lb" x="825.0" y="563.0" text-anchor="middle" textLength="17.0" lengthAdjust="spacingAndGlyphs">27</text>
<rect x="814.5" y="587.5" width="21" height="17" fill="#fff"/>
<text class="lb" x="825.0" y="602.0" text-anchor="middle" textLength="17.0" lengthAdjust="spacingAndGlyphs">24</text>
<rect x="806.5" y="601.5" width="21" height="17" fill="#fff"/>
<text class="lb" x="817.0" y="616.0" text-anchor="middle" textLength="17.0" lengthAdjust="spacingAndGlyphs">15</text>
<rect x="838.5" y="631.5" width="21" height="17" fill="#fff"/>
<text class="lb" x="849.0" y="646.0" text-anchor="middle" textLength="17.0" lengthAdjust="spacingAndGlyphs">27</text>
<rect x="861.5" y="640.5" width="21" height="17" fill="#fff"/>
<text class="lb" x="872.0" y="655.0" text-anchor="middle" textLength="17.0" lengthAdjust="spacingAndGlyphs">15</text>
<rect x="895.5" y="606.5" width="21" height="17" fill="#fff"/>
<text class="lb" x="906.0" y="621.0" text-anchor="middle" textLength="17.0" lengthAdjust="spacingAndGlyphs">12</text>
<rect x="754.5" y="698.5" width="21" height="17" fill="#fff"/>
<text class="lb" x="765.0" y="713.0" text-anchor="middle" textLength="17.0" lengthAdjust="spacingAndGlyphs">24</text>
<rect x="779.0" y="784.0" width="21" height="17" fill="#fff"/>
<text class="lb" x="789.5" y="798.5" text-anchor="middle" textLength="17.0" lengthAdjust="spacingAndGlyphs">12</text>
<rect x="799.5" y="772.5" width="21" height="17" fill="#fff"/>
<text class="lb" x="810.0" y="787.0" text-anchor="middle" textLength="17.0" lengthAdjust="spacingAndGlyphs">18</text>
<rect x="803.0" y="763.5" width="21" height="17" fill="#fff"/>
<text class="lb" x="813.5" y="778.0" text-anchor="middle" textLength="17.0" lengthAdjust="spacingAndGlyphs">21</text>
<rect x="807.0" y="753.0" width="21" height="17" fill="#fff"/>
<text class="lb" x="817.5" y="767.5" text-anchor="middle" textLength="17.0" lengthAdjust="spacingAndGlyphs">24</text>
<rect x="835.0" y="774.0" width="21" height="17" fill="#fff"/>
<text class="lb" x="845.5" y="788.5" text-anchor="middle" textLength="17.0" lengthAdjust="spacingAndGlyphs">24</text>
<rect x="411.5" y="727.5" width="21" height="17" fill="#fff"/>
<text class="lb" x="422.0" y="742.0" text-anchor="middle" textLength="17.0" lengthAdjust="spacingAndGlyphs">24</text>
<rect x="687.5" y="814.5" width="21" height="17" fill="#fff"/>
<text class="lb" x="698.0" y="829.0" text-anchor="middle" textLength="17.0" lengthAdjust="spacingAndGlyphs">24</text>
</g>
<rect x="290" y="80" width="619" height="741" fill="none" stroke="#000" stroke-width="2"/>
<line x1="328.5" y1="822" x2="328.5" y2="827" stroke="#000" stroke-width="1"/><text class="tk" x="328.5" y="842" text-anchor="middle" textLength="29" lengthAdjust="spacingAndGlyphs">92W</text><line x1="387.7" y1="822" x2="387.7" y2="827" stroke="#000" stroke-width="1"/><text class="tk" x="387.7" y="842" text-anchor="middle" textLength="29" lengthAdjust="spacingAndGlyphs">90W</text><line x1="446.9" y1="822" x2="446.9" y2="827" stroke="#000" stroke-width="1"/><text class="tk" x="446.9" y="842" text-anchor="middle" textLength="29" lengthAdjust="spacingAndGlyphs">88W</text><line x1="506.1" y1="822" x2="506.1" y2="827" stroke="#000" stroke-width="1"/><text class="tk" x="506.1" y="842" text-anchor="middle" textLength="29" lengthAdjust="spacingAndGlyphs">86W</text><line x1="565.3" y1="822" x2="565.3" y2="827" stroke="#000" stroke-width="1"/><text class="tk" x="565.3" y="842" text-anchor="middle" textLength="29" lengthAdjust="spacingAndGlyphs">84W</text><line x1="624.5" y1="822" x2="624.5" y2="827" stroke="#000" stroke-width="1"/><text class="tk" x="624.5" y="842" text-anchor="middle" textLength="29" lengthAdjust="spacingAndGlyphs">82W</text><line x1="683.7" y1="822" x2="683.7" y2="827" stroke="#000" stroke-width="1"/><text class="tk" x="683.7" y="842" text-anchor="middle" textLength="29" lengthAdjust="spacingAndGlyphs">80W</text><line x1="742.9" y1="822" x2="742.9" y2="827" stroke="#000" stroke-width="1"/><text class="tk" x="742.9" y="842" text-anchor="middle" textLength="29" lengthAdjust="spacingAndGlyphs">78W</text><line x1="802.1" y1="822" x2="802.1" y2="827" stroke="#000" stroke-width="1"/><text class="tk" x="802.1" y="842" text-anchor="middle" textLength="29" lengthAdjust="spacingAndGlyphs">76W</text><line x1="861.3" y1="822" x2="861.3" y2="827" stroke="#000" stroke-width="1"/><text class="tk" x="861.3" y="842" text-anchor="middle" textLength="29" lengthAdjust="spacingAndGlyphs">74W</text><line x1="285" y1="94.5" x2="289" y2="94.5" stroke="#000" stroke-width="1"/><text class="tk" x="282" y="100.8" text-anchor="end" textLength="30" lengthAdjust="spacingAndGlyphs">22N</text><line x1="285" y1="163.3" x2="289" y2="163.3" stroke="#000" stroke-width="1"/><text class="tk" x="282" y="169.6" text-anchor="end" textLength="30" lengthAdjust="spacingAndGlyphs">20N</text><line x1="285" y1="232.1" x2="289" y2="232.1" stroke="#000" stroke-width="1"/><text class="tk" x="282" y="238.4" text-anchor="end" textLength="30" lengthAdjust="spacingAndGlyphs">18N</text><line x1="285" y1="300.9" x2="289" y2="300.9" stroke="#000" stroke-width="1"/><text class="tk" x="282" y="307.2" text-anchor="end" textLength="30" lengthAdjust="spacingAndGlyphs">16N</text><line x1="285" y1="369.7" x2="289" y2="369.7" stroke="#000" stroke-width="1"/><text class="tk" x="282" y="376.0" text-anchor="end" textLength="30" lengthAdjust="spacingAndGlyphs">14N</text><line x1="285" y1="438.5" x2="289" y2="438.5" stroke="#000" stroke-width="1"/><text class="tk" x="282" y="444.8" text-anchor="end" textLength="30" lengthAdjust="spacingAndGlyphs">12N</text><line x1="285" y1="507.3" x2="289" y2="507.3" stroke="#000" stroke-width="1"/><text class="tk" x="282" y="513.6" text-anchor="end" textLength="30" lengthAdjust="spacingAndGlyphs">10N</text><line x1="285" y1="576.1" x2="289" y2="576.1" stroke="#000" stroke-width="1"/><text class="tk" x="282" y="582.4" text-anchor="end" textLength="20" lengthAdjust="spacingAndGlyphs">8N</text><line x1="285" y1="644.9" x2="289" y2="644.9" stroke="#000" stroke-width="1"/><text class="tk" x="282" y="651.2" text-anchor="end" textLength="20" lengthAdjust="spacingAndGlyphs">6N</text><line x1="285" y1="713.7" x2="289" y2="713.7" stroke="#000" stroke-width="1"/><text class="tk" x="282" y="720.0" text-anchor="end" textLength="20" lengthAdjust="spacingAndGlyphs">4N</text><line x1="285" y1="782.5" x2="289" y2="782.5" stroke="#000" stroke-width="1"/><text class="tk" x="282" y="788.8" text-anchor="end" textLength="20" lengthAdjust="spacingAndGlyphs">2N</text>
<polygon points="1042.5,123.6 1054,90 1066.0,123.6" fill="#8c0000"/><rect x="1042.5" y="123.6" width="23.5" height="33.2" fill="#b40000"/><rect x="1042.5" y="156.3" width="23.5" height="33.2" fill="#d80000"/><rect x="1042.5" y="189.1" width="23.5" height="33.2" fill="#ff0000"/><rect x="1042.5" y="221.8" width="23.5" height="33.2" fill="#ff5a00"/><rect x="1042.5" y="254.5" width="23.5" height="33.2" fill="#ffa500"/><rect x="1042.5" y="287.2" width="23.5" height="33.2" fill="#ffff00"/><rect x="1042.5" y="320.0" width="23.5" height="33.2" fill="#a8fa50"/><rect x="1042.5" y="352.7" width="23.5" height="33.2" fill="#50faaa"/><rect x="1042.5" y="385.4" width="23.5" height="33.2" fill="#00ffff"/><rect x="1042.5" y="418.2" width="23.5" height="33.2" fill="#00a0ff"/><rect x="1042.5" y="450.9" width="23.5" height="33.2" fill="#0050ff"/><rect x="1042.5" y="483.6" width="23.5" height="33.2" fill="#0000ff"/><rect x="1042.5" y="516.4" width="23.5" height="33.2" fill="#1400d2"/><rect x="1042.5" y="549.1" width="23.5" height="33.2" fill="#2800aa"/><rect x="1042.5" y="581.8" width="23.5" height="33.2" fill="#4b0082"/><rect x="1042.5" y="614.5" width="23.5" height="33.2" fill="#8c00aa"/><rect x="1042.5" y="647.3" width="23.5" height="33.2" fill="#c800d2"/><rect x="1042.5" y="680.0" width="23.5" height="33.2" fill="#ff00ff"/><rect x="1042.5" y="712.7" width="23.5" height="33.2" fill="#ff50ff"/><rect x="1042.5" y="745.5" width="23.5" height="33.2" fill="#ffaaff"/><line x1="1042.5" y1="156.3" x2="1066.0" y2="156.3" stroke="#000" stroke-width="1"/><line x1="1042.5" y1="189.1" x2="1066.0" y2="189.1" stroke="#000" stroke-width="1"/><line x1="1042.5" y1="221.8" x2="1066.0" y2="221.8" stroke="#000" stroke-width="1"/><line x1="1042.5" y1="254.5" x2="1066.0" y2="254.5" stroke="#000" stroke-width="1"/><line x1="1042.5" y1="287.2" x2="1066.0" y2="287.2" stroke="#000" stroke-width="1"/><line x1="1042.5" y1="320.0" x2="1066.0" y2="320.0" stroke="#000" stroke-width="1"/><line x1="1042.5" y1="352.7" x2="1066.0" y2="352.7" stroke="#000" stroke-width="1"/><line x1="1042.5" y1="385.4" x2="1066.0" y2="385.4" stroke="#000" stroke-width="1"/><line x1="1042.5" y1="418.2" x2="1066.0" y2="418.2" stroke="#000" stroke-width="1"/><line x1="1042.5" y1="483.6" x2="1066.0" y2="483.6" stroke="#000" stroke-width="1"/><line x1="1042.5" y1="516.4" x2="1066.0" y2="516.4" stroke="#000" stroke-width="1"/><line x1="1042.5" y1="549.1" x2="1066.0" y2="549.1" stroke="#000" stroke-width="1"/><line x1="1042.5" y1="581.8" x2="1066.0" y2="581.8" stroke="#000" stroke-width="1"/><line x1="1042.5" y1="614.5" x2="1066.0" y2="614.5" stroke="#000" stroke-width="1"/><line x1="1042.5" y1="647.3" x2="1066.0" y2="647.3" stroke="#000" stroke-width="1"/><line x1="1042.5" y1="680.0" x2="1066.0" y2="680.0" stroke="#000" stroke-width="1"/><line x1="1042.5" y1="745.5" x2="1066.0" y2="745.5" stroke="#000" stroke-width="1"/><path d="M1042.5 123.6 L1054 90" fill="none" stroke="#000" stroke-width="1"/><path d="M1042.5 123.6 L1042.5 778.2 L1052.5 808" fill="none" stroke="#000" stroke-width="1"/><text class="cb" x="1072" y="131.0" textLength="23" lengthAdjust="spacingAndGlyphs">30</text><text class="cb" x="1072" y="163.7" textLength="23" lengthAdjust="spacingAndGlyphs">29</text><text class="cb" x="1072" y="196.5" textLength="23" lengthAdjust="spacingAndGlyphs">28</text><text class="cb" x="1072" y="229.2" textLength="23" lengthAdjust="spacingAndGlyphs">27</text><text class="cb" x="1072" y="261.9" textLength="23" lengthAdjust="spacingAndGlyphs">26</text><text class="cb" x="1072" y="294.6" textLength="23" lengthAdjust="spacingAndGlyphs">25</text><text class="cb" x="1072" y="327.4" textLength="23" lengthAdjust="spacingAndGlyphs">24</text><text class="cb" x="1072" y="360.1" textLength="23" lengthAdjust="spacingAndGlyphs">23</text><text class="cb" x="1072" y="392.8" textLength="23" lengthAdjust="spacingAndGlyphs">22</text><text class="cb" x="1072" y="425.6" textLength="23" lengthAdjust="spacingAndGlyphs">21</text><text class="cb" x="1072" y="458.3" textLength="23" lengthAdjust="spacingAndGlyphs">20</text><text class="cb" x="1072" y="491.0" textLength="23" lengthAdjust="spacingAndGlyphs">19</text><text class="cb" x="1072" y="523.8" textLength="23" lengthAdjust="spacingAndGlyphs">18</text><text class="cb" x="1072" y="556.5" textLength="23" lengthAdjust="spacingAndGlyphs">17</text><text class="cb" x="1072" y="589.2" textLength="23" lengthAdjust="spacingAndGlyphs">16</text><text class="cb" x="1072" y="621.9" textLength="23" lengthAdjust="spacingAndGlyphs">15</text><text class="cb" x="1072" y="654.7" textLength="23" lengthAdjust="spacingAndGlyphs">14</text><text class="cb" x="1072" y="687.4" textLength="23" lengthAdjust="spacingAndGlyphs">13</text><text class="cb" x="1072" y="720.1" textLength="23" lengthAdjust="spacingAndGlyphs">12</text><text class="cb" x="1072" y="752.9" textLength="23" lengthAdjust="spacingAndGlyphs">11</text><text class="cb" x="1072" y="785.6" textLength="23" lengthAdjust="spacingAndGlyphs">10</text>
<text class="t1" x="215.0" y="30.7" textLength="133.0" lengthAdjust="spacingAndGlyphs">IMN−WRF</text>
<text class="t1" x="396.7" y="30.7" textLength="215.0" lengthAdjust="spacingAndGlyphs">TEMPERATURA</text>
<text class="t1" x="635.0" y="30.7" textLength="158.0" lengthAdjust="spacingAndGlyphs">PROMEDIO</text>
<text class="t1" x="815.0" y="30.7" textLength="135.0" lengthAdjust="spacingAndGlyphs">MENSUAL</text>
<text class="t1" x="308.3" y="62.0" textLength="268.4" lengthAdjust="spacing">noviembre−2025</text>
<text class="t1" x="601.7" y="62.0" textLength="50.0" lengthAdjust="spacingAndGlyphs">Mes</text>
<text class="t1" x="675.0" y="62.0" textLength="61.7" lengthAdjust="spacing">C.I.:</text>
<text class="t1" x="750.0" y="62.0" textLength="123.0" lengthAdjust="spacing">octubre</text>
<text class="ft" x="437.8" y="877.0" textLength="95.2" lengthAdjust="spacing">Instituto</text>
<text class="ft" x="547.0" y="877.0" textLength="149.5" lengthAdjust="spacing">Meteorologico</text>
<text class="ft" x="713.8" y="877.0" textLength="86.7" lengthAdjust="spacing">Nacional</text>
<text class="ft" x="818.7" y="877.0" textLength="57.6" lengthAdjust="spacing">Costa</text>
<text class="ft" x="891.5" y="877.0" textLength="43.3" lengthAdjust="spacing">Rica</text>
</svg></body></html>
